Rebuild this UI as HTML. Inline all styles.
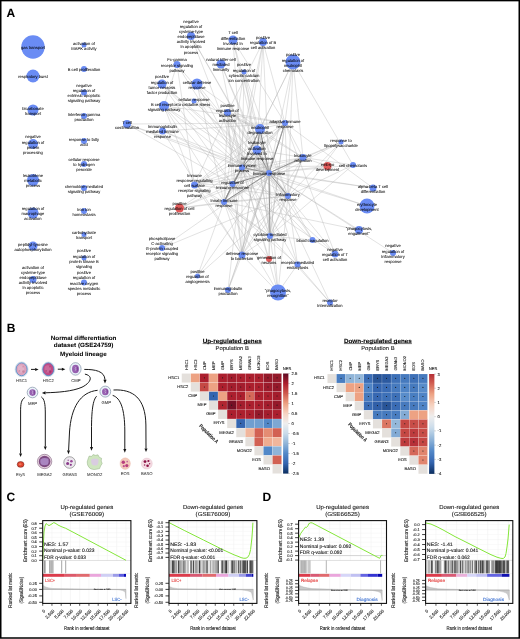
<!DOCTYPE html>
<html><head><meta charset="utf-8"><style>
html,body{margin:0;padding:0;background:#fff;}
#wrap{width:520px;height:639px;position:relative;overflow:hidden;background:#fff;}
svg{position:absolute;left:0;top:0;will-change:transform;}
text{font-family:"Liberation Sans",sans-serif;text-rendering:geometricPrecision;}
</style></head><body><div id="wrap">
<svg width="520" height="639" viewBox="0 0 520 639">
<rect x="0.75" y="0.6" width="518.5" height="637.4" fill="none" stroke="#000" stroke-width="1.5"/>
<g id="panelA">
<line x1="269" y1="173" x2="242" y2="167.5" stroke="#b4b4b4" stroke-width="0.45" stroke-opacity="0.85"/><line x1="269" y1="173" x2="232.5" y2="184" stroke="#b4b4b4" stroke-width="0.45" stroke-opacity="0.85"/><line x1="269" y1="173" x2="224" y2="202" stroke="#b4b4b4" stroke-width="0.45" stroke-opacity="0.85"/><line x1="269" y1="173" x2="257" y2="150" stroke="#b4b4b4" stroke-width="0.45" stroke-opacity="0.85"/><line x1="269" y1="173" x2="260" y2="129" stroke="#b4b4b4" stroke-width="0.45" stroke-opacity="0.85"/><line x1="269" y1="173" x2="288" y2="196" stroke="#b4b4b4" stroke-width="0.45" stroke-opacity="0.85"/><line x1="269" y1="173" x2="303" y2="157.5" stroke="#b4b4b4" stroke-width="0.45" stroke-opacity="0.85"/><line x1="269" y1="173" x2="270" y2="236" stroke="#b4b4b4" stroke-width="0.45" stroke-opacity="0.85"/><line x1="269" y1="173" x2="242" y2="255" stroke="#b4b4b4" stroke-width="0.45" stroke-opacity="0.85"/><line x1="269" y1="173" x2="194.5" y2="185" stroke="#b4b4b4" stroke-width="0.45" stroke-opacity="0.85"/><line x1="269" y1="173" x2="285" y2="123" stroke="#b4b4b4" stroke-width="0.45" stroke-opacity="0.85"/><line x1="269" y1="173" x2="227.5" y2="112.5" stroke="#b4b4b4" stroke-width="0.45" stroke-opacity="0.85"/><line x1="242" y1="167.5" x2="232.5" y2="184" stroke="#b4b4b4" stroke-width="0.45" stroke-opacity="0.85"/><line x1="242" y1="167.5" x2="224" y2="202" stroke="#b4b4b4" stroke-width="0.45" stroke-opacity="0.85"/><line x1="242" y1="167.5" x2="257" y2="150" stroke="#b4b4b4" stroke-width="0.45" stroke-opacity="0.85"/><line x1="242" y1="167.5" x2="260" y2="129" stroke="#b4b4b4" stroke-width="0.45" stroke-opacity="0.85"/><line x1="242" y1="167.5" x2="288" y2="196" stroke="#b4b4b4" stroke-width="0.45" stroke-opacity="0.85"/><line x1="242" y1="167.5" x2="303" y2="157.5" stroke="#b4b4b4" stroke-width="0.45" stroke-opacity="0.85"/><line x1="242" y1="167.5" x2="270" y2="236" stroke="#b4b4b4" stroke-width="0.45" stroke-opacity="0.85"/><line x1="242" y1="167.5" x2="242" y2="255" stroke="#b4b4b4" stroke-width="0.45" stroke-opacity="0.85"/><line x1="242" y1="167.5" x2="194.5" y2="185" stroke="#b4b4b4" stroke-width="0.45" stroke-opacity="0.85"/><line x1="242" y1="167.5" x2="285" y2="123" stroke="#b4b4b4" stroke-width="0.45" stroke-opacity="0.85"/><line x1="242" y1="167.5" x2="227.5" y2="112.5" stroke="#b4b4b4" stroke-width="0.45" stroke-opacity="0.85"/><line x1="232.5" y1="184" x2="224" y2="202" stroke="#b4b4b4" stroke-width="0.45" stroke-opacity="0.85"/><line x1="232.5" y1="184" x2="257" y2="150" stroke="#b4b4b4" stroke-width="0.45" stroke-opacity="0.85"/><line x1="232.5" y1="184" x2="260" y2="129" stroke="#b4b4b4" stroke-width="0.45" stroke-opacity="0.85"/><line x1="232.5" y1="184" x2="288" y2="196" stroke="#b4b4b4" stroke-width="0.45" stroke-opacity="0.85"/><line x1="232.5" y1="184" x2="303" y2="157.5" stroke="#b4b4b4" stroke-width="0.45" stroke-opacity="0.85"/><line x1="232.5" y1="184" x2="270" y2="236" stroke="#b4b4b4" stroke-width="0.45" stroke-opacity="0.85"/><line x1="232.5" y1="184" x2="242" y2="255" stroke="#b4b4b4" stroke-width="0.45" stroke-opacity="0.85"/><line x1="232.5" y1="184" x2="194.5" y2="185" stroke="#b4b4b4" stroke-width="0.45" stroke-opacity="0.85"/><line x1="232.5" y1="184" x2="285" y2="123" stroke="#b4b4b4" stroke-width="0.45" stroke-opacity="0.85"/><line x1="232.5" y1="184" x2="227.5" y2="112.5" stroke="#b4b4b4" stroke-width="0.45" stroke-opacity="0.85"/><line x1="224" y1="202" x2="257" y2="150" stroke="#b4b4b4" stroke-width="0.45" stroke-opacity="0.85"/><line x1="224" y1="202" x2="260" y2="129" stroke="#b4b4b4" stroke-width="0.45" stroke-opacity="0.85"/><line x1="224" y1="202" x2="288" y2="196" stroke="#b4b4b4" stroke-width="0.45" stroke-opacity="0.85"/><line x1="224" y1="202" x2="303" y2="157.5" stroke="#b4b4b4" stroke-width="0.45" stroke-opacity="0.85"/><line x1="224" y1="202" x2="270" y2="236" stroke="#b4b4b4" stroke-width="0.45" stroke-opacity="0.85"/><line x1="224" y1="202" x2="242" y2="255" stroke="#b4b4b4" stroke-width="0.45" stroke-opacity="0.85"/><line x1="224" y1="202" x2="194.5" y2="185" stroke="#b4b4b4" stroke-width="0.45" stroke-opacity="0.85"/><line x1="224" y1="202" x2="285" y2="123" stroke="#b4b4b4" stroke-width="0.45" stroke-opacity="0.85"/><line x1="224" y1="202" x2="227.5" y2="112.5" stroke="#b4b4b4" stroke-width="0.45" stroke-opacity="0.85"/><line x1="257" y1="150" x2="260" y2="129" stroke="#b4b4b4" stroke-width="0.45" stroke-opacity="0.85"/><line x1="257" y1="150" x2="288" y2="196" stroke="#b4b4b4" stroke-width="0.45" stroke-opacity="0.85"/><line x1="257" y1="150" x2="303" y2="157.5" stroke="#b4b4b4" stroke-width="0.45" stroke-opacity="0.85"/><line x1="257" y1="150" x2="270" y2="236" stroke="#b4b4b4" stroke-width="0.45" stroke-opacity="0.85"/><line x1="257" y1="150" x2="242" y2="255" stroke="#b4b4b4" stroke-width="0.45" stroke-opacity="0.85"/><line x1="257" y1="150" x2="194.5" y2="185" stroke="#b4b4b4" stroke-width="0.45" stroke-opacity="0.85"/><line x1="257" y1="150" x2="285" y2="123" stroke="#b4b4b4" stroke-width="0.45" stroke-opacity="0.85"/><line x1="257" y1="150" x2="227.5" y2="112.5" stroke="#b4b4b4" stroke-width="0.45" stroke-opacity="0.85"/><line x1="260" y1="129" x2="288" y2="196" stroke="#b4b4b4" stroke-width="0.45" stroke-opacity="0.85"/><line x1="260" y1="129" x2="303" y2="157.5" stroke="#b4b4b4" stroke-width="0.45" stroke-opacity="0.85"/><line x1="260" y1="129" x2="270" y2="236" stroke="#b4b4b4" stroke-width="0.45" stroke-opacity="0.85"/><line x1="260" y1="129" x2="242" y2="255" stroke="#b4b4b4" stroke-width="0.45" stroke-opacity="0.85"/><line x1="260" y1="129" x2="194.5" y2="185" stroke="#b4b4b4" stroke-width="0.45" stroke-opacity="0.85"/><line x1="260" y1="129" x2="285" y2="123" stroke="#b4b4b4" stroke-width="0.45" stroke-opacity="0.85"/><line x1="260" y1="129" x2="227.5" y2="112.5" stroke="#b4b4b4" stroke-width="0.45" stroke-opacity="0.85"/><line x1="288" y1="196" x2="303" y2="157.5" stroke="#b4b4b4" stroke-width="0.45" stroke-opacity="0.85"/><line x1="288" y1="196" x2="270" y2="236" stroke="#b4b4b4" stroke-width="0.45" stroke-opacity="0.85"/><line x1="288" y1="196" x2="242" y2="255" stroke="#b4b4b4" stroke-width="0.45" stroke-opacity="0.85"/><line x1="288" y1="196" x2="194.5" y2="185" stroke="#b4b4b4" stroke-width="0.45" stroke-opacity="0.85"/><line x1="288" y1="196" x2="285" y2="123" stroke="#b4b4b4" stroke-width="0.45" stroke-opacity="0.85"/><line x1="288" y1="196" x2="227.5" y2="112.5" stroke="#b4b4b4" stroke-width="0.45" stroke-opacity="0.85"/><line x1="303" y1="157.5" x2="270" y2="236" stroke="#b4b4b4" stroke-width="0.45" stroke-opacity="0.85"/><line x1="303" y1="157.5" x2="242" y2="255" stroke="#b4b4b4" stroke-width="0.45" stroke-opacity="0.85"/><line x1="303" y1="157.5" x2="194.5" y2="185" stroke="#b4b4b4" stroke-width="0.45" stroke-opacity="0.85"/><line x1="303" y1="157.5" x2="285" y2="123" stroke="#b4b4b4" stroke-width="0.45" stroke-opacity="0.85"/><line x1="303" y1="157.5" x2="227.5" y2="112.5" stroke="#b4b4b4" stroke-width="0.45" stroke-opacity="0.85"/><line x1="270" y1="236" x2="242" y2="255" stroke="#b4b4b4" stroke-width="0.45" stroke-opacity="0.85"/><line x1="270" y1="236" x2="194.5" y2="185" stroke="#b4b4b4" stroke-width="0.45" stroke-opacity="0.85"/><line x1="270" y1="236" x2="285" y2="123" stroke="#b4b4b4" stroke-width="0.45" stroke-opacity="0.85"/><line x1="270" y1="236" x2="227.5" y2="112.5" stroke="#b4b4b4" stroke-width="0.45" stroke-opacity="0.85"/><line x1="242" y1="255" x2="194.5" y2="185" stroke="#b4b4b4" stroke-width="0.45" stroke-opacity="0.85"/><line x1="242" y1="255" x2="285" y2="123" stroke="#b4b4b4" stroke-width="0.45" stroke-opacity="0.85"/><line x1="242" y1="255" x2="227.5" y2="112.5" stroke="#b4b4b4" stroke-width="0.45" stroke-opacity="0.85"/><line x1="194.5" y1="185" x2="285" y2="123" stroke="#b4b4b4" stroke-width="0.45" stroke-opacity="0.85"/><line x1="194.5" y1="185" x2="227.5" y2="112.5" stroke="#b4b4b4" stroke-width="0.45" stroke-opacity="0.85"/><line x1="285" y1="123" x2="227.5" y2="112.5" stroke="#b4b4b4" stroke-width="0.45" stroke-opacity="0.85"/><line x1="269" y1="173" x2="242" y2="167.5" stroke="#7a7a7a" stroke-width="1.0" stroke-opacity="0.85"/><line x1="269" y1="173" x2="232.5" y2="184" stroke="#7a7a7a" stroke-width="1.0" stroke-opacity="0.85"/><line x1="242" y1="167.5" x2="232.5" y2="184" stroke="#7a7a7a" stroke-width="1.0" stroke-opacity="0.85"/><line x1="269" y1="173" x2="224" y2="202" stroke="#7a7a7a" stroke-width="1.0" stroke-opacity="0.85"/><line x1="242" y1="167.5" x2="224" y2="202" stroke="#7a7a7a" stroke-width="1.0" stroke-opacity="0.85"/><line x1="232.5" y1="184" x2="224" y2="202" stroke="#7a7a7a" stroke-width="1.0" stroke-opacity="0.85"/><line x1="269" y1="173" x2="257" y2="150" stroke="#7a7a7a" stroke-width="1.0" stroke-opacity="0.85"/><line x1="242" y1="167.5" x2="257" y2="150" stroke="#7a7a7a" stroke-width="1.0" stroke-opacity="0.85"/><line x1="269" y1="173" x2="288" y2="196" stroke="#7a7a7a" stroke-width="1.0" stroke-opacity="0.85"/><line x1="269" y1="173" x2="260" y2="129" stroke="#7a7a7a" stroke-width="1.0" stroke-opacity="0.85"/><line x1="257" y1="150" x2="260" y2="129" stroke="#7a7a7a" stroke-width="1.0" stroke-opacity="0.85"/><line x1="269" y1="173" x2="303" y2="157.5" stroke="#7a7a7a" stroke-width="1.0" stroke-opacity="0.85"/><line x1="242" y1="167.5" x2="260" y2="129" stroke="#7a7a7a" stroke-width="1.0" stroke-opacity="0.85"/><line x1="269" y1="173" x2="270" y2="236" stroke="#7a7a7a" stroke-width="1.0" stroke-opacity="0.85"/><line x1="269" y1="173" x2="285" y2="123" stroke="#7a7a7a" stroke-width="1.0" stroke-opacity="0.85"/><line x1="191" y1="36" x2="269" y2="173" stroke="#b4b4b4" stroke-width="0.45" stroke-opacity="0.85"/><line x1="191" y1="36" x2="257" y2="150" stroke="#b4b4b4" stroke-width="0.45" stroke-opacity="0.85"/><line x1="191" y1="36" x2="242" y2="167.5" stroke="#b4b4b4" stroke-width="0.45" stroke-opacity="0.85"/><line x1="233" y1="40" x2="242" y2="167.5" stroke="#b4b4b4" stroke-width="0.45" stroke-opacity="0.85"/><line x1="233" y1="40" x2="257" y2="150" stroke="#b4b4b4" stroke-width="0.45" stroke-opacity="0.85"/><line x1="233" y1="40" x2="285" y2="123" stroke="#b4b4b4" stroke-width="0.45" stroke-opacity="0.85"/><line x1="233" y1="40" x2="269" y2="173" stroke="#b4b4b4" stroke-width="0.45" stroke-opacity="0.85"/><line x1="263" y1="42" x2="269" y2="173" stroke="#b4b4b4" stroke-width="0.45" stroke-opacity="0.85"/><line x1="263" y1="42" x2="242" y2="167.5" stroke="#b4b4b4" stroke-width="0.45" stroke-opacity="0.85"/><line x1="263" y1="42" x2="257" y2="150" stroke="#b4b4b4" stroke-width="0.45" stroke-opacity="0.85"/><line x1="263" y1="42" x2="227.5" y2="112.5" stroke="#b4b4b4" stroke-width="0.45" stroke-opacity="0.85"/><line x1="263" y1="42" x2="285" y2="123" stroke="#b4b4b4" stroke-width="0.45" stroke-opacity="0.85"/><line x1="263" y1="42" x2="232.5" y2="184" stroke="#b4b4b4" stroke-width="0.45" stroke-opacity="0.85"/><line x1="293" y1="62" x2="269" y2="173" stroke="#b4b4b4" stroke-width="0.45" stroke-opacity="0.85"/><line x1="293" y1="62" x2="288" y2="196" stroke="#b4b4b4" stroke-width="0.45" stroke-opacity="0.85"/><line x1="293" y1="62" x2="303" y2="157.5" stroke="#b4b4b4" stroke-width="0.45" stroke-opacity="0.85"/><line x1="293" y1="62" x2="353" y2="165" stroke="#b4b4b4" stroke-width="0.45" stroke-opacity="0.85"/><line x1="293" y1="62" x2="260" y2="129" stroke="#b4b4b4" stroke-width="0.45" stroke-opacity="0.85"/><line x1="293" y1="62" x2="270" y2="236" stroke="#b4b4b4" stroke-width="0.45" stroke-opacity="0.85"/><line x1="293" y1="62" x2="224" y2="202" stroke="#b4b4b4" stroke-width="0.45" stroke-opacity="0.85"/><line x1="177" y1="64.5" x2="269" y2="173" stroke="#b4b4b4" stroke-width="0.45" stroke-opacity="0.85"/><line x1="177" y1="64.5" x2="194.5" y2="185" stroke="#b4b4b4" stroke-width="0.45" stroke-opacity="0.85"/><line x1="177" y1="64.5" x2="164" y2="106" stroke="#b4b4b4" stroke-width="0.45" stroke-opacity="0.85"/><line x1="177" y1="64.5" x2="242" y2="167.5" stroke="#b4b4b4" stroke-width="0.45" stroke-opacity="0.85"/><line x1="221" y1="64" x2="242" y2="167.5" stroke="#b4b4b4" stroke-width="0.45" stroke-opacity="0.85"/><line x1="221" y1="64" x2="257" y2="150" stroke="#b4b4b4" stroke-width="0.45" stroke-opacity="0.85"/><line x1="221" y1="64" x2="269" y2="173" stroke="#b4b4b4" stroke-width="0.45" stroke-opacity="0.85"/><line x1="244" y1="72" x2="269" y2="173" stroke="#b4b4b4" stroke-width="0.45" stroke-opacity="0.85"/><line x1="244" y1="72" x2="270" y2="236" stroke="#b4b4b4" stroke-width="0.45" stroke-opacity="0.85"/><line x1="244" y1="72" x2="288" y2="196" stroke="#b4b4b4" stroke-width="0.45" stroke-opacity="0.85"/><line x1="244" y1="72" x2="242" y2="167.5" stroke="#b4b4b4" stroke-width="0.45" stroke-opacity="0.85"/><line x1="244" y1="72" x2="224" y2="202" stroke="#b4b4b4" stroke-width="0.45" stroke-opacity="0.85"/><line x1="162" y1="84" x2="269" y2="173" stroke="#b4b4b4" stroke-width="0.45" stroke-opacity="0.85"/><line x1="162" y1="84" x2="288" y2="196" stroke="#b4b4b4" stroke-width="0.45" stroke-opacity="0.85"/><line x1="162" y1="84" x2="232.5" y2="184" stroke="#b4b4b4" stroke-width="0.45" stroke-opacity="0.85"/><line x1="162" y1="84" x2="242" y2="167.5" stroke="#b4b4b4" stroke-width="0.45" stroke-opacity="0.85"/><line x1="197" y1="84" x2="269" y2="173" stroke="#b4b4b4" stroke-width="0.45" stroke-opacity="0.85"/><line x1="197" y1="84" x2="242" y2="167.5" stroke="#b4b4b4" stroke-width="0.45" stroke-opacity="0.85"/><line x1="197" y1="84" x2="224" y2="202" stroke="#b4b4b4" stroke-width="0.45" stroke-opacity="0.85"/><line x1="197" y1="84" x2="260" y2="129" stroke="#b4b4b4" stroke-width="0.45" stroke-opacity="0.85"/><line x1="194" y1="101" x2="269" y2="173" stroke="#b4b4b4" stroke-width="0.45" stroke-opacity="0.85"/><line x1="194" y1="101" x2="288" y2="196" stroke="#b4b4b4" stroke-width="0.45" stroke-opacity="0.85"/><line x1="194" y1="101" x2="260" y2="129" stroke="#b4b4b4" stroke-width="0.45" stroke-opacity="0.85"/><line x1="164" y1="106" x2="269" y2="173" stroke="#b4b4b4" stroke-width="0.45" stroke-opacity="0.85"/><line x1="164" y1="106" x2="242" y2="167.5" stroke="#b4b4b4" stroke-width="0.45" stroke-opacity="0.85"/><line x1="164" y1="106" x2="232.5" y2="184" stroke="#b4b4b4" stroke-width="0.45" stroke-opacity="0.85"/><line x1="164" y1="106" x2="194.5" y2="185" stroke="#b4b4b4" stroke-width="0.45" stroke-opacity="0.85"/><line x1="164" y1="106" x2="285" y2="123" stroke="#b4b4b4" stroke-width="0.45" stroke-opacity="0.85"/><line x1="164" y1="106" x2="224" y2="202" stroke="#b4b4b4" stroke-width="0.45" stroke-opacity="0.85"/><line x1="127" y1="124" x2="242" y2="167.5" stroke="#b4b4b4" stroke-width="0.45" stroke-opacity="0.85"/><line x1="127" y1="124" x2="232.5" y2="184" stroke="#b4b4b4" stroke-width="0.45" stroke-opacity="0.85"/><line x1="127" y1="124" x2="285" y2="123" stroke="#b4b4b4" stroke-width="0.45" stroke-opacity="0.85"/><line x1="127" y1="124" x2="269" y2="173" stroke="#b4b4b4" stroke-width="0.45" stroke-opacity="0.85"/><line x1="162.5" y1="131" x2="269" y2="173" stroke="#b4b4b4" stroke-width="0.45" stroke-opacity="0.85"/><line x1="162.5" y1="131" x2="285" y2="123" stroke="#b4b4b4" stroke-width="0.45" stroke-opacity="0.85"/><line x1="162.5" y1="131" x2="242" y2="255" stroke="#b4b4b4" stroke-width="0.45" stroke-opacity="0.85"/><line x1="162.5" y1="131" x2="242" y2="167.5" stroke="#b4b4b4" stroke-width="0.45" stroke-opacity="0.85"/><line x1="341" y1="142" x2="269" y2="173" stroke="#b4b4b4" stroke-width="0.45" stroke-opacity="0.85"/><line x1="341" y1="142" x2="288" y2="196" stroke="#b4b4b4" stroke-width="0.45" stroke-opacity="0.85"/><line x1="341" y1="142" x2="224" y2="202" stroke="#b4b4b4" stroke-width="0.45" stroke-opacity="0.85"/><line x1="341" y1="142" x2="270" y2="236" stroke="#b4b4b4" stroke-width="0.45" stroke-opacity="0.85"/><line x1="341" y1="142" x2="303" y2="157.5" stroke="#b4b4b4" stroke-width="0.45" stroke-opacity="0.85"/><line x1="353" y1="165" x2="303" y2="157.5" stroke="#b4b4b4" stroke-width="0.45" stroke-opacity="0.85"/><line x1="353" y1="165" x2="288" y2="196" stroke="#b4b4b4" stroke-width="0.45" stroke-opacity="0.85"/><line x1="353" y1="165" x2="269" y2="173" stroke="#b4b4b4" stroke-width="0.45" stroke-opacity="0.85"/><line x1="353" y1="165" x2="270" y2="236" stroke="#b4b4b4" stroke-width="0.45" stroke-opacity="0.85"/><line x1="327.5" y1="166" x2="269" y2="173" stroke="#b4b4b4" stroke-width="0.45" stroke-opacity="0.85"/><line x1="327.5" y1="166" x2="242" y2="167.5" stroke="#b4b4b4" stroke-width="0.45" stroke-opacity="0.85"/><line x1="327.5" y1="166" x2="303" y2="157.5" stroke="#b4b4b4" stroke-width="0.45" stroke-opacity="0.85"/><line x1="373" y1="188" x2="269" y2="173" stroke="#b4b4b4" stroke-width="0.45" stroke-opacity="0.85"/><line x1="373" y1="188" x2="242" y2="167.5" stroke="#b4b4b4" stroke-width="0.45" stroke-opacity="0.85"/><line x1="373" y1="188" x2="285" y2="123" stroke="#b4b4b4" stroke-width="0.45" stroke-opacity="0.85"/><line x1="367" y1="206" x2="269" y2="173" stroke="#b4b4b4" stroke-width="0.45" stroke-opacity="0.85"/><line x1="367" y1="206" x2="242" y2="167.5" stroke="#b4b4b4" stroke-width="0.45" stroke-opacity="0.85"/><line x1="179.5" y1="208" x2="269" y2="173" stroke="#b4b4b4" stroke-width="0.45" stroke-opacity="0.85"/><line x1="179.5" y1="208" x2="242" y2="167.5" stroke="#b4b4b4" stroke-width="0.45" stroke-opacity="0.85"/><line x1="179.5" y1="208" x2="232.5" y2="184" stroke="#b4b4b4" stroke-width="0.45" stroke-opacity="0.85"/><line x1="179.5" y1="208" x2="224" y2="202" stroke="#b4b4b4" stroke-width="0.45" stroke-opacity="0.85"/><line x1="179.5" y1="208" x2="288" y2="196" stroke="#b4b4b4" stroke-width="0.45" stroke-opacity="0.85"/><line x1="359" y1="230" x2="269" y2="173" stroke="#b4b4b4" stroke-width="0.45" stroke-opacity="0.85"/><line x1="359" y1="230" x2="224" y2="202" stroke="#b4b4b4" stroke-width="0.45" stroke-opacity="0.85"/><line x1="312.5" y1="240" x2="269" y2="173" stroke="#b4b4b4" stroke-width="0.45" stroke-opacity="0.85"/><line x1="312.5" y1="240" x2="288" y2="196" stroke="#b4b4b4" stroke-width="0.45" stroke-opacity="0.85"/><line x1="312.5" y1="240" x2="242" y2="167.5" stroke="#b4b4b4" stroke-width="0.45" stroke-opacity="0.85"/><line x1="312.5" y1="240" x2="270" y2="236" stroke="#b4b4b4" stroke-width="0.45" stroke-opacity="0.85"/><line x1="162" y1="248" x2="269" y2="173" stroke="#b4b4b4" stroke-width="0.45" stroke-opacity="0.85"/><line x1="162" y1="248" x2="288" y2="196" stroke="#b4b4b4" stroke-width="0.45" stroke-opacity="0.85"/><line x1="335" y1="254" x2="269" y2="173" stroke="#b4b4b4" stroke-width="0.45" stroke-opacity="0.85"/><line x1="335" y1="254" x2="242" y2="167.5" stroke="#b4b4b4" stroke-width="0.45" stroke-opacity="0.85"/><line x1="335" y1="254" x2="232.5" y2="184" stroke="#b4b4b4" stroke-width="0.45" stroke-opacity="0.85"/><line x1="335" y1="254" x2="285" y2="123" stroke="#b4b4b4" stroke-width="0.45" stroke-opacity="0.85"/><line x1="393" y1="253" x2="269" y2="173" stroke="#b4b4b4" stroke-width="0.45" stroke-opacity="0.85"/><line x1="269" y1="259" x2="269" y2="173" stroke="#b4b4b4" stroke-width="0.45" stroke-opacity="0.85"/><line x1="269" y1="259" x2="242" y2="167.5" stroke="#b4b4b4" stroke-width="0.45" stroke-opacity="0.85"/><line x1="269" y1="259" x2="270" y2="236" stroke="#b4b4b4" stroke-width="0.45" stroke-opacity="0.85"/><line x1="269" y1="259" x2="224" y2="202" stroke="#b4b4b4" stroke-width="0.45" stroke-opacity="0.85"/><line x1="297.5" y1="264.5" x2="269" y2="173" stroke="#b4b4b4" stroke-width="0.45" stroke-opacity="0.85"/><line x1="297.5" y1="264.5" x2="242" y2="167.5" stroke="#b4b4b4" stroke-width="0.45" stroke-opacity="0.85"/><line x1="297.5" y1="264.5" x2="224" y2="202" stroke="#b4b4b4" stroke-width="0.45" stroke-opacity="0.85"/><line x1="297.5" y1="264.5" x2="288" y2="196" stroke="#b4b4b4" stroke-width="0.45" stroke-opacity="0.85"/><line x1="197.5" y1="276" x2="269" y2="173" stroke="#b4b4b4" stroke-width="0.45" stroke-opacity="0.85"/><line x1="197.5" y1="276" x2="288" y2="196" stroke="#b4b4b4" stroke-width="0.45" stroke-opacity="0.85"/><line x1="197.5" y1="276" x2="224" y2="202" stroke="#b4b4b4" stroke-width="0.45" stroke-opacity="0.85"/><line x1="228" y1="290" x2="269" y2="173" stroke="#b4b4b4" stroke-width="0.45" stroke-opacity="0.85"/><line x1="228" y1="290" x2="242" y2="167.5" stroke="#b4b4b4" stroke-width="0.45" stroke-opacity="0.85"/><line x1="228" y1="290" x2="285" y2="123" stroke="#b4b4b4" stroke-width="0.45" stroke-opacity="0.85"/><line x1="228" y1="290" x2="242" y2="255" stroke="#b4b4b4" stroke-width="0.45" stroke-opacity="0.85"/><line x1="278" y1="292.5" x2="269" y2="173" stroke="#b4b4b4" stroke-width="0.45" stroke-opacity="0.85"/><line x1="278" y1="292.5" x2="242" y2="167.5" stroke="#b4b4b4" stroke-width="0.45" stroke-opacity="0.85"/><line x1="278" y1="292.5" x2="224" y2="202" stroke="#b4b4b4" stroke-width="0.45" stroke-opacity="0.85"/><line x1="278" y1="292.5" x2="288" y2="196" stroke="#b4b4b4" stroke-width="0.45" stroke-opacity="0.85"/><line x1="278" y1="292.5" x2="270" y2="236" stroke="#b4b4b4" stroke-width="0.45" stroke-opacity="0.85"/><line x1="278" y1="292.5" x2="297.5" y2="264.5" stroke="#b4b4b4" stroke-width="0.45" stroke-opacity="0.85"/><line x1="278" y1="292.5" x2="242" y2="255" stroke="#b4b4b4" stroke-width="0.45" stroke-opacity="0.85"/><line x1="330" y1="302.5" x2="269" y2="173" stroke="#b4b4b4" stroke-width="0.45" stroke-opacity="0.85"/><line x1="330" y1="302.5" x2="297.5" y2="264.5" stroke="#b4b4b4" stroke-width="0.45" stroke-opacity="0.85"/><line x1="330" y1="302.5" x2="270" y2="236" stroke="#b4b4b4" stroke-width="0.45" stroke-opacity="0.85"/>
<circle cx="33" cy="47" r="11.7" fill="#6a8cf4"/><circle cx="33" cy="76" r="6.5" fill="#6a8cf4"/><circle cx="33" cy="110" r="5.5" fill="#6a8cf4"/><circle cx="33" cy="144" r="5" fill="#6a8cf4"/><circle cx="33" cy="180" r="6" fill="#6a8cf4"/><circle cx="33" cy="213" r="5.5" fill="#6a8cf4"/><circle cx="33" cy="246" r="4.5" fill="#6a8cf4"/><circle cx="33" cy="279.5" r="3.5" fill="#6a8cf4"/><circle cx="84" cy="45" r="2.5" fill="#6a8cf4"/><circle cx="84" cy="69" r="3" fill="#6a8cf4"/><circle cx="84" cy="92.5" r="3" fill="#6a8cf4"/><circle cx="84" cy="116" r="3" fill="#6a8cf4"/><circle cx="84" cy="141" r="3" fill="#6a8cf4"/><circle cx="84" cy="164" r="3" fill="#6a8cf4"/><circle cx="84" cy="188" r="3" fill="#6a8cf4"/><circle cx="84" cy="211" r="3" fill="#6a8cf4"/><circle cx="84" cy="234.5" r="2.5" fill="#6a8cf4"/><circle cx="84" cy="258" r="2.5" fill="#6a8cf4"/><circle cx="84" cy="282.5" r="3" fill="#6a8cf4"/><circle cx="191" cy="36" r="4" fill="#6a8cf4"/><circle cx="233" cy="40" r="4.5" fill="#6a8cf4"/><circle cx="263" cy="42" r="4" fill="#6a8cf4"/><circle cx="293" cy="62" r="7.5" fill="#6a8cf4"/><circle cx="177" cy="64.5" r="3.5" fill="#6a8cf4"/><circle cx="221" cy="64" r="4.5" fill="#6a8cf4"/><circle cx="244" cy="72" r="2.5" fill="#6a8cf4"/><circle cx="162" cy="84" r="4.5" fill="#6a8cf4"/><circle cx="197" cy="84" r="5.5" fill="#6a8cf4"/><circle cx="194" cy="101" r="2.5" fill="#6a8cf4"/><circle cx="164" cy="106" r="5" fill="#6a8cf4"/><circle cx="227.5" cy="112.5" r="3.5" fill="#6a8cf4"/><circle cx="127" cy="124" r="4" fill="#6a8cf4"/><circle cx="162.5" cy="131" r="3.5" fill="#6a8cf4"/><circle cx="260" cy="129" r="5" fill="#6a8cf4"/><circle cx="285" cy="123" r="3" fill="#6a8cf4"/><circle cx="341" cy="142" r="2.5" fill="#6a8cf4"/><circle cx="257" cy="150" r="4.5" fill="#6a8cf4"/><circle cx="303" cy="157.5" r="3.5" fill="#6a8cf4"/><circle cx="353" cy="165" r="3" fill="#6a8cf4"/><circle cx="327.5" cy="166" r="4" fill="#e05a5a"/><circle cx="242" cy="167.5" r="3" fill="#6a8cf4"/><circle cx="269" cy="173" r="3" fill="#6a8cf4"/><circle cx="232.5" cy="184" r="3" fill="#6a8cf4"/><circle cx="194.5" cy="185" r="3.5" fill="#6a8cf4"/><circle cx="373" cy="188" r="3.5" fill="#6a8cf4"/><circle cx="288" cy="196" r="3" fill="#6a8cf4"/><circle cx="224" cy="202" r="3" fill="#6a8cf4"/><circle cx="367" cy="206" r="7.5" fill="#6a8cf4"/><circle cx="179.5" cy="208" r="4.5" fill="#e05a5a"/><circle cx="359" cy="230" r="4" fill="#6a8cf4"/><circle cx="270" cy="236" r="3" fill="#6a8cf4"/><circle cx="312.5" cy="240" r="3" fill="#6a8cf4"/><circle cx="162" cy="248" r="3" fill="#6a8cf4"/><circle cx="242" cy="255" r="3.5" fill="#6a8cf4"/><circle cx="335" cy="254" r="3.5" fill="#6a8cf4"/><circle cx="393" cy="253" r="3" fill="#6a8cf4"/><circle cx="269" cy="259" r="3" fill="#e05a5a"/><circle cx="297.5" cy="264.5" r="3" fill="#6a8cf4"/><circle cx="197.5" cy="276" r="2.5" fill="#6a8cf4"/><circle cx="228" cy="290" r="3" fill="#6a8cf4"/><circle cx="278" cy="292.5" r="8" fill="#6a8cf4"/><circle cx="330" cy="302.5" r="3" fill="#6a8cf4"/>
<text x="33.00" y="49.08" text-anchor="middle" font-size="4.1" fill="#000"  stroke="#000" stroke-width="0.04">gas transport</text><text x="33.00" y="78.08" text-anchor="middle" font-size="4.1" fill="#000"  stroke="#000" stroke-width="0.04">respiratory burst</text><text x="33.00" y="109.50" text-anchor="middle" font-size="4.1" fill="#000"  stroke="#000" stroke-width="0.04">bicarbonate</text><text x="33.00" y="114.65" text-anchor="middle" font-size="4.1" fill="#000"  stroke="#000" stroke-width="0.04">transport</text><text x="33.00" y="138.35" text-anchor="middle" font-size="4.1" fill="#000"  stroke="#000" stroke-width="0.04">negative</text><text x="33.00" y="143.50" text-anchor="middle" font-size="4.1" fill="#000"  stroke="#000" stroke-width="0.04">regulation of</text><text x="33.00" y="148.65" text-anchor="middle" font-size="4.1" fill="#000"  stroke="#000" stroke-width="0.04">protein</text><text x="33.00" y="153.80" text-anchor="middle" font-size="4.1" fill="#000"  stroke="#000" stroke-width="0.04">processing</text><text x="33.00" y="176.93" text-anchor="middle" font-size="4.1" fill="#000"  stroke="#000" stroke-width="0.04">leukotriene</text><text x="33.00" y="182.08" text-anchor="middle" font-size="4.1" fill="#000"  stroke="#000" stroke-width="0.04">metabolic</text><text x="33.00" y="187.23" text-anchor="middle" font-size="4.1" fill="#000"  stroke="#000" stroke-width="0.04">process</text><text x="33.00" y="209.93" text-anchor="middle" font-size="4.1" fill="#000"  stroke="#000" stroke-width="0.04">regulation of</text><text x="33.00" y="215.08" text-anchor="middle" font-size="4.1" fill="#000"  stroke="#000" stroke-width="0.04">macrophage</text><text x="33.00" y="220.23" text-anchor="middle" font-size="4.1" fill="#000"  stroke="#000" stroke-width="0.04">activation</text><text x="33.00" y="245.50" text-anchor="middle" font-size="4.1" fill="#000"  stroke="#000" stroke-width="0.04">peptidyl-tyrosine</text><text x="33.00" y="250.65" text-anchor="middle" font-size="4.1" fill="#000"  stroke="#000" stroke-width="0.04">autophosphorylation</text><text x="33.00" y="268.70" text-anchor="middle" font-size="4.1" fill="#000"  stroke="#000" stroke-width="0.04">activation of</text><text x="33.00" y="273.85" text-anchor="middle" font-size="4.1" fill="#000"  stroke="#000" stroke-width="0.04">cysteine-type</text><text x="33.00" y="279.00" text-anchor="middle" font-size="4.1" fill="#000"  stroke="#000" stroke-width="0.04">endopeptidase</text><text x="33.00" y="284.15" text-anchor="middle" font-size="4.1" fill="#000"  stroke="#000" stroke-width="0.04">activity involved</text><text x="33.00" y="289.30" text-anchor="middle" font-size="4.1" fill="#000"  stroke="#000" stroke-width="0.04">in apoptotic</text><text x="33.00" y="294.45" text-anchor="middle" font-size="4.1" fill="#000"  stroke="#000" stroke-width="0.04">process</text><text x="84.00" y="44.50" text-anchor="middle" font-size="4.1" fill="#000"  stroke="#000" stroke-width="0.04">activation of</text><text x="84.00" y="49.65" text-anchor="middle" font-size="4.1" fill="#000"  stroke="#000" stroke-width="0.04">MAPK activity</text><text x="84.00" y="71.08" text-anchor="middle" font-size="4.1" fill="#000"  stroke="#000" stroke-width="0.04">B cell proliferation</text><text x="84.00" y="86.85" text-anchor="middle" font-size="4.1" fill="#000"  stroke="#000" stroke-width="0.04">negative</text><text x="84.00" y="92.00" text-anchor="middle" font-size="4.1" fill="#000"  stroke="#000" stroke-width="0.04">regulation of</text><text x="84.00" y="97.15" text-anchor="middle" font-size="4.1" fill="#000"  stroke="#000" stroke-width="0.04">extrinsic apoptotic</text><text x="84.00" y="102.30" text-anchor="middle" font-size="4.1" fill="#000"  stroke="#000" stroke-width="0.04">signaling pathway</text><text x="84.00" y="115.50" text-anchor="middle" font-size="4.1" fill="#000"  stroke="#000" stroke-width="0.04">interferon-gamma</text><text x="84.00" y="120.65" text-anchor="middle" font-size="4.1" fill="#000"  stroke="#000" stroke-width="0.04">production</text><text x="84.00" y="140.50" text-anchor="middle" font-size="4.1" fill="#000"  stroke="#000" stroke-width="0.04">response to fatty</text><text x="84.00" y="145.65" text-anchor="middle" font-size="4.1" fill="#000"  stroke="#000" stroke-width="0.04">acid</text><text x="84.00" y="160.93" text-anchor="middle" font-size="4.1" fill="#000"  stroke="#000" stroke-width="0.04">cellular response</text><text x="84.00" y="166.08" text-anchor="middle" font-size="4.1" fill="#000"  stroke="#000" stroke-width="0.04">to hydrogen</text><text x="84.00" y="171.23" text-anchor="middle" font-size="4.1" fill="#000"  stroke="#000" stroke-width="0.04">peroxide</text><text x="84.00" y="187.50" text-anchor="middle" font-size="4.1" fill="#000"  stroke="#000" stroke-width="0.04">chemokine-mediated</text><text x="84.00" y="192.65" text-anchor="middle" font-size="4.1" fill="#000"  stroke="#000" stroke-width="0.04">signaling pathway</text><text x="84.00" y="210.50" text-anchor="middle" font-size="4.1" fill="#000"  stroke="#000" stroke-width="0.04">iron ion</text><text x="84.00" y="215.65" text-anchor="middle" font-size="4.1" fill="#000"  stroke="#000" stroke-width="0.04">homeostasis</text><text x="84.00" y="234.00" text-anchor="middle" font-size="4.1" fill="#000"  stroke="#000" stroke-width="0.04">carbohydrate</text><text x="84.00" y="239.15" text-anchor="middle" font-size="4.1" fill="#000"  stroke="#000" stroke-width="0.04">transport</text><text x="84.00" y="252.35" text-anchor="middle" font-size="4.1" fill="#000"  stroke="#000" stroke-width="0.04">positive</text><text x="84.00" y="257.50" text-anchor="middle" font-size="4.1" fill="#000"  stroke="#000" stroke-width="0.04">regulation of</text><text x="84.00" y="262.65" text-anchor="middle" font-size="4.1" fill="#000"  stroke="#000" stroke-width="0.04">protein kinase B</text><text x="84.00" y="267.80" text-anchor="middle" font-size="4.1" fill="#000"  stroke="#000" stroke-width="0.04">signaling</text><text x="84.00" y="274.28" text-anchor="middle" font-size="4.1" fill="#000"  stroke="#000" stroke-width="0.04">positive</text><text x="84.00" y="279.43" text-anchor="middle" font-size="4.1" fill="#000"  stroke="#000" stroke-width="0.04">regulation of</text><text x="84.00" y="284.58" text-anchor="middle" font-size="4.1" fill="#000"  stroke="#000" stroke-width="0.04">reactive oxygen</text><text x="84.00" y="289.73" text-anchor="middle" font-size="4.1" fill="#000"  stroke="#000" stroke-width="0.04">species metabolic</text><text x="84.00" y="294.88" text-anchor="middle" font-size="4.1" fill="#000"  stroke="#000" stroke-width="0.04">process</text><text x="191.00" y="22.63" text-anchor="middle" font-size="4.1" fill="#000"  stroke="#000" stroke-width="0.04">negative</text><text x="191.00" y="27.78" text-anchor="middle" font-size="4.1" fill="#000"  stroke="#000" stroke-width="0.04">regulation of</text><text x="191.00" y="32.93" text-anchor="middle" font-size="4.1" fill="#000"  stroke="#000" stroke-width="0.04">cysteine-type</text><text x="191.00" y="38.08" text-anchor="middle" font-size="4.1" fill="#000"  stroke="#000" stroke-width="0.04">endopeptidase</text><text x="191.00" y="43.23" text-anchor="middle" font-size="4.1" fill="#000"  stroke="#000" stroke-width="0.04">activity involved</text><text x="191.00" y="48.38" text-anchor="middle" font-size="4.1" fill="#000"  stroke="#000" stroke-width="0.04">in apoptotic</text><text x="191.00" y="53.53" text-anchor="middle" font-size="4.1" fill="#000"  stroke="#000" stroke-width="0.04">process</text><text x="233.00" y="34.35" text-anchor="middle" font-size="4.1" fill="#000"  stroke="#000" stroke-width="0.04">T cell</text><text x="233.00" y="39.50" text-anchor="middle" font-size="4.1" fill="#000"  stroke="#000" stroke-width="0.04">differentiation</text><text x="233.00" y="44.65" text-anchor="middle" font-size="4.1" fill="#000"  stroke="#000" stroke-width="0.04">involved in</text><text x="233.00" y="49.80" text-anchor="middle" font-size="4.1" fill="#000"  stroke="#000" stroke-width="0.04">immune response</text><text x="263.00" y="38.93" text-anchor="middle" font-size="4.1" fill="#000"  stroke="#000" stroke-width="0.04">positive</text><text x="263.00" y="44.08" text-anchor="middle" font-size="4.1" fill="#000"  stroke="#000" stroke-width="0.04">regulation of B</text><text x="263.00" y="49.23" text-anchor="middle" font-size="4.1" fill="#000"  stroke="#000" stroke-width="0.04">cell activation</text><text x="293.00" y="56.35" text-anchor="middle" font-size="4.1" fill="#000"  stroke="#000" stroke-width="0.04">positive</text><text x="293.00" y="61.50" text-anchor="middle" font-size="4.1" fill="#000"  stroke="#000" stroke-width="0.04">regulation of</text><text x="293.00" y="66.65" text-anchor="middle" font-size="4.1" fill="#000"  stroke="#000" stroke-width="0.04">neutrophil</text><text x="293.00" y="71.80" text-anchor="middle" font-size="4.1" fill="#000"  stroke="#000" stroke-width="0.04">chemotaxis</text><text x="177.00" y="61.43" text-anchor="middle" font-size="4.1" fill="#000"  stroke="#000" stroke-width="0.04">Fc-gamma</text><text x="177.00" y="66.58" text-anchor="middle" font-size="4.1" fill="#000"  stroke="#000" stroke-width="0.04">receptor signaling</text><text x="177.00" y="71.73" text-anchor="middle" font-size="4.1" fill="#000"  stroke="#000" stroke-width="0.04">pathway</text><text x="221.00" y="60.93" text-anchor="middle" font-size="4.1" fill="#000"  stroke="#000" stroke-width="0.04">natural killer cell</text><text x="221.00" y="66.08" text-anchor="middle" font-size="4.1" fill="#000"  stroke="#000" stroke-width="0.04">mediated</text><text x="221.00" y="71.23" text-anchor="middle" font-size="4.1" fill="#000"  stroke="#000" stroke-width="0.04">immunity</text><text x="244.00" y="66.35" text-anchor="middle" font-size="4.1" fill="#000"  stroke="#000" stroke-width="0.04">positive</text><text x="244.00" y="71.50" text-anchor="middle" font-size="4.1" fill="#000"  stroke="#000" stroke-width="0.04">regulation of</text><text x="244.00" y="76.65" text-anchor="middle" font-size="4.1" fill="#000"  stroke="#000" stroke-width="0.04">cytosolic calcium</text><text x="244.00" y="81.80" text-anchor="middle" font-size="4.1" fill="#000"  stroke="#000" stroke-width="0.04">ion concentration</text><text x="162.00" y="78.35" text-anchor="middle" font-size="4.1" fill="#000"  stroke="#000" stroke-width="0.04">positive</text><text x="162.00" y="83.50" text-anchor="middle" font-size="4.1" fill="#000"  stroke="#000" stroke-width="0.04">regulation of</text><text x="162.00" y="88.65" text-anchor="middle" font-size="4.1" fill="#000"  stroke="#000" stroke-width="0.04">tumor necrosis</text><text x="162.00" y="93.80" text-anchor="middle" font-size="4.1" fill="#000"  stroke="#000" stroke-width="0.04">factor production</text><text x="197.00" y="83.50" text-anchor="middle" font-size="4.1" fill="#000"  stroke="#000" stroke-width="0.04">cellular defense</text><text x="197.00" y="88.65" text-anchor="middle" font-size="4.1" fill="#000"  stroke="#000" stroke-width="0.04">response</text><text x="194.00" y="100.50" text-anchor="middle" font-size="4.1" fill="#000"  stroke="#000" stroke-width="0.04">cellular response</text><text x="194.00" y="105.65" text-anchor="middle" font-size="4.1" fill="#000"  stroke="#000" stroke-width="0.04">to oxidative stress</text><text x="164.00" y="105.50" text-anchor="middle" font-size="4.1" fill="#000"  stroke="#000" stroke-width="0.04">B cell receptor</text><text x="164.00" y="110.65" text-anchor="middle" font-size="4.1" fill="#000"  stroke="#000" stroke-width="0.04">signaling pathway</text><text x="227.50" y="106.85" text-anchor="middle" font-size="4.1" fill="#000"  stroke="#000" stroke-width="0.04">positive</text><text x="227.50" y="112.00" text-anchor="middle" font-size="4.1" fill="#000"  stroke="#000" stroke-width="0.04">regulation of</text><text x="227.50" y="117.15" text-anchor="middle" font-size="4.1" fill="#000"  stroke="#000" stroke-width="0.04">leukocyte</text><text x="227.50" y="122.30" text-anchor="middle" font-size="4.1" fill="#000"  stroke="#000" stroke-width="0.04">activation</text><text x="127.00" y="123.50" text-anchor="middle" font-size="4.1" fill="#000"  stroke="#000" stroke-width="0.04">T cell</text><text x="127.00" y="128.65" text-anchor="middle" font-size="4.1" fill="#000"  stroke="#000" stroke-width="0.04">costimulation</text><text x="162.50" y="127.93" text-anchor="middle" font-size="4.1" fill="#000"  stroke="#000" stroke-width="0.04">immunoglobulin</text><text x="162.50" y="133.08" text-anchor="middle" font-size="4.1" fill="#000"  stroke="#000" stroke-width="0.04">mediated immune</text><text x="162.50" y="138.23" text-anchor="middle" font-size="4.1" fill="#000"  stroke="#000" stroke-width="0.04">response</text><text x="260.00" y="128.50" text-anchor="middle" font-size="4.1" fill="#000"  stroke="#000" stroke-width="0.04">neutrophil</text><text x="260.00" y="133.65" text-anchor="middle" font-size="4.1" fill="#000"  stroke="#000" stroke-width="0.04">degranulation</text><text x="285.00" y="122.50" text-anchor="middle" font-size="4.1" fill="#000"  stroke="#000" stroke-width="0.04">adaptive immune</text><text x="285.00" y="127.65" text-anchor="middle" font-size="4.1" fill="#000"  stroke="#000" stroke-width="0.04">response</text><text x="341.00" y="141.50" text-anchor="middle" font-size="4.1" fill="#000"  stroke="#000" stroke-width="0.04">response to</text><text x="341.00" y="146.65" text-anchor="middle" font-size="4.1" fill="#000"  stroke="#000" stroke-width="0.04">lipopolysaccharide</text><text x="257.00" y="144.35" text-anchor="middle" font-size="4.1" fill="#000"  stroke="#000" stroke-width="0.04">leukocyte</text><text x="257.00" y="149.50" text-anchor="middle" font-size="4.1" fill="#000"  stroke="#000" stroke-width="0.04">activation</text><text x="257.00" y="154.65" text-anchor="middle" font-size="4.1" fill="#000"  stroke="#000" stroke-width="0.04">involved in</text><text x="257.00" y="159.80" text-anchor="middle" font-size="4.1" fill="#000"  stroke="#000" stroke-width="0.04">immune response</text><text x="303.00" y="157.00" text-anchor="middle" font-size="4.1" fill="#000"  stroke="#000" stroke-width="0.04">leukocyte</text><text x="303.00" y="162.15" text-anchor="middle" font-size="4.1" fill="#000"  stroke="#000" stroke-width="0.04">migration</text><text x="353.00" y="167.08" text-anchor="middle" font-size="4.1" fill="#000"  stroke="#000" stroke-width="0.04">cell chemotaxis</text><text x="327.50" y="165.50" text-anchor="middle" font-size="4.1" fill="#000"  stroke="#000" stroke-width="0.04">embryo</text><text x="327.50" y="170.65" text-anchor="middle" font-size="4.1" fill="#000"  stroke="#000" stroke-width="0.04">development</text><text x="242.00" y="167.00" text-anchor="middle" font-size="4.1" fill="#000"  stroke="#000" stroke-width="0.04">immune system</text><text x="242.00" y="172.15" text-anchor="middle" font-size="4.1" fill="#000"  stroke="#000" stroke-width="0.04">process</text><text x="269.00" y="175.08" text-anchor="middle" font-size="4.1" fill="#000"  stroke="#000" stroke-width="0.04">immune response</text><text x="232.50" y="183.50" text-anchor="middle" font-size="4.1" fill="#000"  stroke="#000" stroke-width="0.04">regulation of</text><text x="232.50" y="188.65" text-anchor="middle" font-size="4.1" fill="#000"  stroke="#000" stroke-width="0.04">immune response</text><text x="194.50" y="176.78" text-anchor="middle" font-size="4.1" fill="#000"  stroke="#000" stroke-width="0.04">immune</text><text x="194.50" y="181.93" text-anchor="middle" font-size="4.1" fill="#000"  stroke="#000" stroke-width="0.04">response-regulating</text><text x="194.50" y="187.08" text-anchor="middle" font-size="4.1" fill="#000"  stroke="#000" stroke-width="0.04">cell surface</text><text x="194.50" y="192.23" text-anchor="middle" font-size="4.1" fill="#000"  stroke="#000" stroke-width="0.04">receptor signaling</text><text x="194.50" y="197.38" text-anchor="middle" font-size="4.1" fill="#000"  stroke="#000" stroke-width="0.04">pathway</text><text x="373.00" y="187.50" text-anchor="middle" font-size="4.1" fill="#000"  stroke="#000" stroke-width="0.04">alpha-beta T cell</text><text x="373.00" y="192.65" text-anchor="middle" font-size="4.1" fill="#000"  stroke="#000" stroke-width="0.04">differentiation</text><text x="288.00" y="195.50" text-anchor="middle" font-size="4.1" fill="#000"  stroke="#000" stroke-width="0.04">inflammatory</text><text x="288.00" y="200.65" text-anchor="middle" font-size="4.1" fill="#000"  stroke="#000" stroke-width="0.04">response</text><text x="224.00" y="201.50" text-anchor="middle" font-size="4.1" fill="#000"  stroke="#000" stroke-width="0.04">innate immune</text><text x="224.00" y="206.65" text-anchor="middle" font-size="4.1" fill="#000"  stroke="#000" stroke-width="0.04">response</text><text x="367.00" y="205.50" text-anchor="middle" font-size="4.1" fill="#000"  stroke="#000" stroke-width="0.04">erythrocyte</text><text x="367.00" y="210.65" text-anchor="middle" font-size="4.1" fill="#000"  stroke="#000" stroke-width="0.04">development</text><text x="179.50" y="204.93" text-anchor="middle" font-size="4.1" fill="#000"  stroke="#000" stroke-width="0.04">positive</text><text x="179.50" y="210.08" text-anchor="middle" font-size="4.1" fill="#000"  stroke="#000" stroke-width="0.04">regulation of cell</text><text x="179.50" y="215.23" text-anchor="middle" font-size="4.1" fill="#000"  stroke="#000" stroke-width="0.04">proliferation</text><text x="359.00" y="229.50" text-anchor="middle" font-size="4.1" fill="#000"  stroke="#000" stroke-width="0.04">"phagocytosis,</text><text x="359.00" y="234.65" text-anchor="middle" font-size="4.1" fill="#000"  stroke="#000" stroke-width="0.04">engulfment"</text><text x="270.00" y="235.50" text-anchor="middle" font-size="4.1" fill="#000"  stroke="#000" stroke-width="0.04">cytokine-mediated</text><text x="270.00" y="240.65" text-anchor="middle" font-size="4.1" fill="#000"  stroke="#000" stroke-width="0.04">signaling pathway</text><text x="312.50" y="242.08" text-anchor="middle" font-size="4.1" fill="#000"  stroke="#000" stroke-width="0.04">blood coagulation</text><text x="162.00" y="239.78" text-anchor="middle" font-size="4.1" fill="#000"  stroke="#000" stroke-width="0.04">phospholipase</text><text x="162.00" y="244.93" text-anchor="middle" font-size="4.1" fill="#000"  stroke="#000" stroke-width="0.04">C-activating</text><text x="162.00" y="250.08" text-anchor="middle" font-size="4.1" fill="#000"  stroke="#000" stroke-width="0.04">G-protein coupled</text><text x="162.00" y="255.23" text-anchor="middle" font-size="4.1" fill="#000"  stroke="#000" stroke-width="0.04">receptor signaling</text><text x="162.00" y="260.38" text-anchor="middle" font-size="4.1" fill="#000"  stroke="#000" stroke-width="0.04">pathway</text><text x="242.00" y="254.50" text-anchor="middle" font-size="4.1" fill="#000"  stroke="#000" stroke-width="0.04">defense response</text><text x="242.00" y="259.65" text-anchor="middle" font-size="4.1" fill="#000"  stroke="#000" stroke-width="0.04">to bacterium</text><text x="335.00" y="250.93" text-anchor="middle" font-size="4.1" fill="#000"  stroke="#000" stroke-width="0.04">negative</text><text x="335.00" y="256.08" text-anchor="middle" font-size="4.1" fill="#000"  stroke="#000" stroke-width="0.04">regulation of T</text><text x="335.00" y="261.23" text-anchor="middle" font-size="4.1" fill="#000"  stroke="#000" stroke-width="0.04">cell activation</text><text x="393.00" y="247.35" text-anchor="middle" font-size="4.1" fill="#000"  stroke="#000" stroke-width="0.04">negative</text><text x="393.00" y="252.50" text-anchor="middle" font-size="4.1" fill="#000"  stroke="#000" stroke-width="0.04">regulation of</text><text x="393.00" y="257.65" text-anchor="middle" font-size="4.1" fill="#000"  stroke="#000" stroke-width="0.04">inflammatory</text><text x="393.00" y="262.80" text-anchor="middle" font-size="4.1" fill="#000"  stroke="#000" stroke-width="0.04">response</text><text x="269.00" y="258.50" text-anchor="middle" font-size="4.1" fill="#000"  stroke="#000" stroke-width="0.04">generation of</text><text x="269.00" y="263.65" text-anchor="middle" font-size="4.1" fill="#000"  stroke="#000" stroke-width="0.04">neurons</text><text x="297.50" y="264.00" text-anchor="middle" font-size="4.1" fill="#000"  stroke="#000" stroke-width="0.04">receptor-mediated</text><text x="297.50" y="269.15" text-anchor="middle" font-size="4.1" fill="#000"  stroke="#000" stroke-width="0.04">endocytosis</text><text x="197.50" y="272.93" text-anchor="middle" font-size="4.1" fill="#000"  stroke="#000" stroke-width="0.04">positive</text><text x="197.50" y="278.08" text-anchor="middle" font-size="4.1" fill="#000"  stroke="#000" stroke-width="0.04">regulation of</text><text x="197.50" y="283.23" text-anchor="middle" font-size="4.1" fill="#000"  stroke="#000" stroke-width="0.04">angiogenesis</text><text x="228.00" y="289.50" text-anchor="middle" font-size="4.1" fill="#000"  stroke="#000" stroke-width="0.04">immunoglobulin</text><text x="228.00" y="294.65" text-anchor="middle" font-size="4.1" fill="#000"  stroke="#000" stroke-width="0.04">production</text><text x="278.00" y="292.00" text-anchor="middle" font-size="4.1" fill="#000"  stroke="#000" stroke-width="0.04">"phagocytosis,</text><text x="278.00" y="297.15" text-anchor="middle" font-size="4.1" fill="#000"  stroke="#000" stroke-width="0.04">recognition"</text><text x="330.00" y="302.00" text-anchor="middle" font-size="4.1" fill="#000"  stroke="#000" stroke-width="0.04">receptor</text><text x="330.00" y="307.15" text-anchor="middle" font-size="4.1" fill="#000"  stroke="#000" stroke-width="0.04">internalization</text>
</g>
<text x="83.60" y="339.50" font-size="6.0" fill="#000" text-anchor="middle" font-weight="bold" textLength="65.8" lengthAdjust="spacingAndGlyphs"  stroke="#000" stroke-width="0.04">Normal differentiation</text>
<text x="83.60" y="346.80" font-size="6.0" fill="#000" text-anchor="middle" font-weight="bold" textLength="59.7" lengthAdjust="spacingAndGlyphs"  stroke="#000" stroke-width="0.04">dataset (GSE24759)</text>
<text x="83.30" y="356.30" font-size="6.0" fill="#000" text-anchor="middle" font-weight="bold" textLength="46.7" lengthAdjust="spacingAndGlyphs"  stroke="#000" stroke-width="0.04">Myeloid lineage</text>
<path d="M31,369.4 L35.5,369.4" fill="none" stroke="#1a1a1a" stroke-width="1.0"/><path d="M38.60,369.40 L35.20,370.90 L35.20,367.90 Z" fill="#111"/><path d="M57.8,369.2 L62.2,369.2" fill="none" stroke="#1a1a1a" stroke-width="1.0"/><path d="M65.30,369.20 L61.90,370.70 L61.90,367.70 Z" fill="#111"/><path d="M84.3,369.4 C95,369.4 104.6,371 105,379.8" fill="none" stroke="#1a1a1a" stroke-width="1.0"/><path d="M105.00,383.40 L103.40,379.80 L106.60,379.80 Z" fill="#111"/><path d="M84.9,374.1 C94,376 90.5,383 82,387.2 C72,391.5 58,392.4 45.5,392.8" fill="none" stroke="#1a1a1a" stroke-width="1.0"/><path d="M41.90,392.90 L45.50,391.30 L45.50,394.50 Z" fill="#111"/><path d="M24.8,397.5 C21,400 20.6,404 20.6,412 L20.6,453.5" fill="none" stroke="#1a1a1a" stroke-width="1.0"/><path d="M20.60,457.00 L19.10,453.40 L22.10,453.40 Z" fill="#111"/><path d="M41.3,396.9 C44.5,399 45.2,404 45.3,412 L45.3,446.5" fill="none" stroke="#1a1a1a" stroke-width="1.0"/><path d="M45.30,450.00 L43.80,446.40 L46.80,446.40 Z" fill="#111"/><path d="M97.6,390.3 C80,392 71,408 69.5,432 L68.6,450.5" fill="none" stroke="#1a1a1a" stroke-width="1.0"/><path d="M68.50,454.20 L67.00,450.60 L70.00,450.60 Z" fill="#111"/><path d="M96.6,396.2 C93,400 91.5,410 91.5,430 L91.5,447.2" fill="none" stroke="#1a1a1a" stroke-width="1.0"/><path d="M91.50,450.70 L90.00,447.10 L93.00,447.10 Z" fill="#111"/><path d="M112.7,395.4 C121,398 124.6,410 124.8,430 L124.8,449" fill="none" stroke="#1a1a1a" stroke-width="1.0"/><path d="M124.80,452.70 L123.30,449.10 L126.30,449.10 Z" fill="#111"/><path d="M113.5,390 C133,389 145.5,398 145.9,425 L146,448.5" fill="none" stroke="#1a1a1a" stroke-width="1.0"/><path d="M146.00,452.00 L144.50,448.40 L147.50,448.40 Z" fill="#111"/>
<ellipse cx="21.6" cy="369.3" rx="6.5" ry="7.4" fill="#e4eef6" stroke="#9fb4c8" stroke-width="0.35"/><ellipse cx="21.6" cy="369.3" rx="5.55" ry="6.45" fill="#dca2bc" stroke="#3d86c8" stroke-width="0.75"/><ellipse cx="21.0" cy="368.90000000000003" rx="3.2" ry="3.6" fill="#ffffff" opacity="0.18"/><circle cx="23.400000000000002" cy="371.5" r="1.2" fill="#b0607e" opacity="0.5"/><circle cx="19.400000000000002" cy="370.90000000000003" r="0.9" fill="#b0607e" opacity="0.4"/><circle cx="23.1" cy="366.7" r="0.8" fill="#b0607e" opacity="0.4"/><ellipse cx="48.3" cy="369.3" rx="6.5" ry="7.4" fill="#e4eef6" stroke="#9fb4c8" stroke-width="0.35"/><ellipse cx="48.3" cy="369.3" rx="5.55" ry="6.45" fill="#c04a86" stroke="#3d86c8" stroke-width="0.75"/><ellipse cx="47.699999999999996" cy="368.90000000000003" rx="3.2" ry="3.6" fill="#ffffff" opacity="0.18"/><circle cx="50.099999999999994" cy="371.5" r="1.2" fill="#8a1a50" opacity="0.5"/><circle cx="46.099999999999994" cy="370.90000000000003" r="0.9" fill="#8a1a50" opacity="0.4"/><circle cx="49.8" cy="366.7" r="0.8" fill="#8a1a50" opacity="0.4"/><ellipse cx="75.5" cy="368.9" rx="5.6" ry="6.25" fill="#eaf3f9" stroke="#6f7f98" stroke-width="0.6"/><ellipse cx="75.5" cy="369.0" rx="3.50" ry="4.25" fill="#9760b0"/><path d="M76.7,366.29999999999995 Q79.1,368.9 76.9,371.79999999999995 Q78.1,368.9 76.7,366.29999999999995 Z" fill="#5e2474" opacity="0.8"/><path d="M74.9,366.7 q1.6,0.9 0.1,1.9 q1.7,0.7 0.2,2.1" fill="none" stroke="#e2d6ee" stroke-width="0.55"/><ellipse cx="32.5" cy="392.5" rx="5.3" ry="5.3" fill="#eaf3f9" stroke="#6f7f98" stroke-width="0.6"/><ellipse cx="32.5" cy="392.6" rx="3.20" ry="3.30" fill="#9760b0"/><path d="M33.7,389.9 Q36.1,392.5 33.9,395.4 Q35.1,392.5 33.7,389.9 Z" fill="#5e2474" opacity="0.8"/><path d="M31.9,390.3 q1.6,0.9 0.1,1.9 q1.7,0.7 0.2,2.1" fill="none" stroke="#e2d6ee" stroke-width="0.55"/><ellipse cx="105.3" cy="391.6" rx="5.4" ry="5.5" fill="#eaf3f9" stroke="#6f7f98" stroke-width="0.6"/><ellipse cx="105.3" cy="391.70000000000005" rx="3.30" ry="3.50" fill="#9760b0"/><path d="M106.5,389.0 Q108.89999999999999,391.6 106.7,394.5 Q107.89999999999999,391.6 106.5,389.0 Z" fill="#5e2474" opacity="0.8"/><path d="M104.7,389.40000000000003 q1.6,0.9 0.1,1.9 q1.7,0.7 0.2,2.1" fill="none" stroke="#e2d6ee" stroke-width="0.55"/><ellipse cx="20.6" cy="464.4" rx="3.4" ry="2.9" fill="#e2452f" stroke="#5a1a14" stroke-width="0.5"/><ellipse cx="20.2" cy="464.2" rx="1.4" ry="1.0" fill="#f07a5a"/><circle cx="44.6" cy="461.5" r="7.2" fill="#e6d2de" stroke="#6a4a6a" stroke-width="0.5"/><circle cx="44.6" cy="461.5" r="5.8" fill="#7d4a82"/><path d="M40.4,459.4 Q44,457 48.4,458.8 Q49.4,462 47.8,464.4 Q44,466 41,464.2 Q39.8,461.6 40.4,459.4 Z" fill="#a985c0"/><circle cx="69.6" cy="462.5" r="5.8" fill="#ece8ee" stroke="#555" stroke-width="0.5"/><circle cx="67.6" cy="463.5" r="1.5" fill="#8a3a8a"/><circle cx="71.4" cy="461.2" r="1.3" fill="#9a4a9a"/><circle cx="70.8" cy="464.8" r="1.1" fill="#8a3a8a"/><circle cx="68.2" cy="460.2" r="0.8" fill="#a060a0"/><path d="M88,459 L89.2,456 L91.5,456.5 L93,454.6 L95.5,455.3 L98,454.8 L99.2,457.2 L101.6,458.3 L101.2,461 L102.2,463.5 L100.6,466 L99.6,468.6 L96.6,469.2 L94,469.6 L91,468.9 L89,467.4 L87.6,465 L87.2,462 Z" fill="#cfe6bf" stroke="#7f9f70" stroke-width="0.4"/><path d="M91.2,459.6 Q95,457.5 98.4,459.2 Q99,462.5 97.6,465 Q94,466.2 92,464.6 Q90.6,462 91.2,459.6 Z" fill="#d9cde0"/><ellipse cx="125.2" cy="463.6" rx="5.2" ry="5.8" fill="#f3cbbb" stroke="#e3a898" stroke-width="0.3"/><circle cx="123.3" cy="462.3" r="1.7" fill="#b8407e"/><circle cx="126.8" cy="465.6" r="1.6" fill="#b8407e"/><circle cx="123.8" cy="466.2" r="1.1" fill="#c05090"/><circle cx="127.2" cy="461.6" r="0.9" fill="#c86aa0"/><circle cx="146.8" cy="463.6" r="5.5" fill="#f4dbe2" stroke="#d8a8b8" stroke-width="0.3"/><circle cx="145" cy="461.6" r="1.4" fill="#8a1044"/><circle cx="148.4" cy="461" r="1.1" fill="#8a1044"/><circle cx="147.6" cy="465.8" r="1.3" fill="#8a1044"/><circle cx="144.6" cy="465" r="0.8" fill="#9a2054"/><circle cx="149.6" cy="463.8" r="0.7" fill="#9a2054"/>
<text x="21.60" y="381.80" font-size="4.2" fill="#3a3a3a" text-anchor="middle" stroke="#3a3a3a" stroke-width="0.06">HSC1</text><text x="48.30" y="381.80" font-size="4.2" fill="#3a3a3a" text-anchor="middle" stroke="#3a3a3a" stroke-width="0.06">HSC2</text><text x="75.90" y="381.80" font-size="4.2" fill="#3a3a3a" text-anchor="middle" stroke="#3a3a3a" stroke-width="0.06">CMP</text><text x="32.50" y="404.50" font-size="4.2" fill="#3a3a3a" text-anchor="middle" stroke="#3a3a3a" stroke-width="0.06">MEP</text><text x="106.20" y="404.30" font-size="4.2" fill="#3a3a3a" text-anchor="middle" stroke="#3a3a3a" stroke-width="0.06">GMP</text><text x="20.60" y="475.50" font-size="4.2" fill="#3a3a3a" text-anchor="middle" stroke="#3a3a3a" stroke-width="0.06">EryS</text><text x="44.60" y="475.50" font-size="4.2" fill="#3a3a3a" text-anchor="middle" stroke="#3a3a3a" stroke-width="0.06">MEGA2</text><text x="69.60" y="475.50" font-size="4.2" fill="#3a3a3a" text-anchor="middle" stroke="#3a3a3a" stroke-width="0.06">GRAN3</text><text x="94.60" y="475.50" font-size="4.2" fill="#3a3a3a" text-anchor="middle" stroke="#3a3a3a" stroke-width="0.06">MONO2</text><text x="125.20" y="475.30" font-size="4.2" fill="#3a3a3a" text-anchor="middle" stroke="#3a3a3a" stroke-width="0.06">EOS</text><text x="146.80" y="475.30" font-size="4.2" fill="#3a3a3a" text-anchor="middle" stroke="#3a3a3a" stroke-width="0.06">BASO</text>
<g class="hm"><rect x="181.70" y="373.50" width="9.08" height="9.10" fill="#e4e0dc" stroke="#ffffff" stroke-width="0.3" stroke-opacity="0.5"/><rect x="190.78" y="373.50" width="9.08" height="9.10" fill="#eda283" stroke="#ffffff" stroke-width="0.3" stroke-opacity="0.5"/><rect x="199.86" y="373.50" width="9.08" height="9.10" fill="#ac1f2e" stroke="#ffffff" stroke-width="0.3" stroke-opacity="0.5"/><circle cx="204.40" cy="377.85" r="0.55" fill="#1a1a1a"/><rect x="208.94" y="373.50" width="9.08" height="9.10" fill="#eda283" stroke="#ffffff" stroke-width="0.3" stroke-opacity="0.5"/><rect x="218.02" y="373.50" width="9.08" height="9.10" fill="#ac1f2e" stroke="#ffffff" stroke-width="0.3" stroke-opacity="0.5"/><circle cx="222.56" cy="377.85" r="0.55" fill="#1a1a1a"/><rect x="227.10" y="373.50" width="9.08" height="9.10" fill="#a41d2d" stroke="#ffffff" stroke-width="0.3" stroke-opacity="0.5"/><circle cx="231.64" cy="377.85" r="0.55" fill="#1a1a1a"/><rect x="236.18" y="373.50" width="9.08" height="9.10" fill="#ac1f2e" stroke="#ffffff" stroke-width="0.3" stroke-opacity="0.5"/><circle cx="240.72" cy="377.85" r="0.55" fill="#1a1a1a"/><rect x="245.26" y="373.50" width="9.08" height="9.10" fill="#ac1f2e" stroke="#ffffff" stroke-width="0.3" stroke-opacity="0.5"/><circle cx="249.80" cy="377.85" r="0.55" fill="#1a1a1a"/><rect x="254.34" y="373.50" width="9.08" height="9.10" fill="#ac1f2e" stroke="#ffffff" stroke-width="0.3" stroke-opacity="0.5"/><circle cx="258.88" cy="377.85" r="0.55" fill="#1a1a1a"/><rect x="263.42" y="373.50" width="9.08" height="9.10" fill="#95192a" stroke="#ffffff" stroke-width="0.3" stroke-opacity="0.5"/><circle cx="267.96" cy="377.85" r="0.55" fill="#1a1a1a"/><rect x="272.50" y="373.50" width="9.08" height="9.10" fill="#95192a" stroke="#ffffff" stroke-width="0.3" stroke-opacity="0.5"/><circle cx="277.04" cy="377.85" r="0.55" fill="#1a1a1a"/><rect x="190.78" y="382.60" width="9.08" height="9.10" fill="#e4e0dc" stroke="#ffffff" stroke-width="0.3" stroke-opacity="0.5"/><rect x="199.86" y="382.60" width="9.08" height="9.10" fill="#c54844" stroke="#ffffff" stroke-width="0.3" stroke-opacity="0.5"/><circle cx="204.40" cy="386.95" r="0.55" fill="#1a1a1a"/><rect x="208.94" y="382.60" width="9.08" height="9.10" fill="#eda283" stroke="#ffffff" stroke-width="0.3" stroke-opacity="0.5"/><rect x="218.02" y="382.60" width="9.08" height="9.10" fill="#ac1f2e" stroke="#ffffff" stroke-width="0.3" stroke-opacity="0.5"/><circle cx="222.56" cy="386.95" r="0.55" fill="#1a1a1a"/><rect x="227.10" y="382.60" width="9.08" height="9.10" fill="#a41d2d" stroke="#ffffff" stroke-width="0.3" stroke-opacity="0.5"/><circle cx="231.64" cy="386.95" r="0.55" fill="#1a1a1a"/><rect x="236.18" y="382.60" width="9.08" height="9.10" fill="#a41d2d" stroke="#ffffff" stroke-width="0.3" stroke-opacity="0.5"/><circle cx="240.72" cy="386.95" r="0.55" fill="#1a1a1a"/><rect x="245.26" y="382.60" width="9.08" height="9.10" fill="#ac1f2e" stroke="#ffffff" stroke-width="0.3" stroke-opacity="0.5"/><circle cx="249.80" cy="386.95" r="0.55" fill="#1a1a1a"/><rect x="254.34" y="382.60" width="9.08" height="9.10" fill="#ac1f2e" stroke="#ffffff" stroke-width="0.3" stroke-opacity="0.5"/><circle cx="258.88" cy="386.95" r="0.55" fill="#1a1a1a"/><rect x="263.42" y="382.60" width="9.08" height="9.10" fill="#9c1b2c" stroke="#ffffff" stroke-width="0.3" stroke-opacity="0.5"/><circle cx="267.96" cy="386.95" r="0.55" fill="#1a1a1a"/><rect x="272.50" y="382.60" width="9.08" height="9.10" fill="#95192a" stroke="#ffffff" stroke-width="0.3" stroke-opacity="0.5"/><circle cx="277.04" cy="386.95" r="0.55" fill="#1a1a1a"/><rect x="199.86" y="391.70" width="9.08" height="9.10" fill="#e4e0dc" stroke="#ffffff" stroke-width="0.3" stroke-opacity="0.5"/><rect x="208.94" y="391.70" width="9.08" height="9.10" fill="#3465b0" stroke="#ffffff" stroke-width="0.3" stroke-opacity="0.5"/><circle cx="213.48" cy="396.05" r="0.55" fill="#1a1a1a"/><rect x="218.02" y="391.70" width="9.08" height="9.10" fill="#eda283" stroke="#ffffff" stroke-width="0.3" stroke-opacity="0.5"/><rect x="227.10" y="391.70" width="9.08" height="9.10" fill="#ac1f2e" stroke="#ffffff" stroke-width="0.3" stroke-opacity="0.5"/><circle cx="231.64" cy="396.05" r="0.55" fill="#1a1a1a"/><rect x="236.18" y="391.70" width="9.08" height="9.10" fill="#ac1f2e" stroke="#ffffff" stroke-width="0.3" stroke-opacity="0.5"/><circle cx="240.72" cy="396.05" r="0.55" fill="#1a1a1a"/><rect x="245.26" y="391.70" width="9.08" height="9.10" fill="#d56859" stroke="#ffffff" stroke-width="0.3" stroke-opacity="0.5"/><circle cx="249.80" cy="396.05" r="0.55" fill="#1a1a1a"/><rect x="254.34" y="391.70" width="9.08" height="9.10" fill="#ac1f2e" stroke="#ffffff" stroke-width="0.3" stroke-opacity="0.5"/><circle cx="258.88" cy="396.05" r="0.55" fill="#1a1a1a"/><rect x="263.42" y="391.70" width="9.08" height="9.10" fill="#ac1f2e" stroke="#ffffff" stroke-width="0.3" stroke-opacity="0.5"/><circle cx="267.96" cy="396.05" r="0.55" fill="#1a1a1a"/><rect x="272.50" y="391.70" width="9.08" height="9.10" fill="#a41d2d" stroke="#ffffff" stroke-width="0.3" stroke-opacity="0.5"/><circle cx="277.04" cy="396.05" r="0.55" fill="#1a1a1a"/><rect x="208.94" y="400.80" width="9.08" height="9.10" fill="#e4e0dc" stroke="#ffffff" stroke-width="0.3" stroke-opacity="0.5"/><rect x="218.02" y="400.80" width="9.08" height="9.10" fill="#b02531" stroke="#ffffff" stroke-width="0.3" stroke-opacity="0.5"/><circle cx="222.56" cy="405.15" r="0.55" fill="#1a1a1a"/><rect x="227.10" y="400.80" width="9.08" height="9.10" fill="#751026" stroke="#ffffff" stroke-width="0.3" stroke-opacity="0.5"/><circle cx="231.64" cy="405.15" r="0.55" fill="#1a1a1a"/><rect x="236.18" y="400.80" width="9.08" height="9.10" fill="#a41d2d" stroke="#ffffff" stroke-width="0.3" stroke-opacity="0.5"/><circle cx="240.72" cy="405.15" r="0.55" fill="#1a1a1a"/><rect x="245.26" y="400.80" width="9.08" height="9.10" fill="#ac1f2e" stroke="#ffffff" stroke-width="0.3" stroke-opacity="0.5"/><circle cx="249.80" cy="405.15" r="0.55" fill="#1a1a1a"/><rect x="254.34" y="400.80" width="9.08" height="9.10" fill="#ac1f2e" stroke="#ffffff" stroke-width="0.3" stroke-opacity="0.5"/><circle cx="258.88" cy="405.15" r="0.55" fill="#1a1a1a"/><rect x="263.42" y="400.80" width="9.08" height="9.10" fill="#a41d2d" stroke="#ffffff" stroke-width="0.3" stroke-opacity="0.5"/><circle cx="267.96" cy="405.15" r="0.55" fill="#1a1a1a"/><rect x="272.50" y="400.80" width="9.08" height="9.10" fill="#95192a" stroke="#ffffff" stroke-width="0.3" stroke-opacity="0.5"/><circle cx="277.04" cy="405.15" r="0.55" fill="#1a1a1a"/><rect x="218.02" y="409.90" width="9.08" height="9.10" fill="#e4e0dc" stroke="#ffffff" stroke-width="0.3" stroke-opacity="0.5"/><rect x="227.10" y="409.90" width="9.08" height="9.10" fill="#ac1f2e" stroke="#ffffff" stroke-width="0.3" stroke-opacity="0.5"/><circle cx="231.64" cy="414.25" r="0.55" fill="#1a1a1a"/><rect x="236.18" y="409.90" width="9.08" height="9.10" fill="#ac1f2e" stroke="#ffffff" stroke-width="0.3" stroke-opacity="0.5"/><circle cx="240.72" cy="414.25" r="0.55" fill="#1a1a1a"/><rect x="245.26" y="409.90" width="9.08" height="9.10" fill="#ac1f2e" stroke="#ffffff" stroke-width="0.3" stroke-opacity="0.5"/><circle cx="249.80" cy="414.25" r="0.55" fill="#1a1a1a"/><rect x="254.34" y="409.90" width="9.08" height="9.10" fill="#95192a" stroke="#ffffff" stroke-width="0.3" stroke-opacity="0.5"/><circle cx="258.88" cy="414.25" r="0.55" fill="#1a1a1a"/><rect x="263.42" y="409.90" width="9.08" height="9.10" fill="#a41d2d" stroke="#ffffff" stroke-width="0.3" stroke-opacity="0.5"/><circle cx="267.96" cy="414.25" r="0.55" fill="#1a1a1a"/><rect x="272.50" y="409.90" width="9.08" height="9.10" fill="#ac1f2e" stroke="#ffffff" stroke-width="0.3" stroke-opacity="0.5"/><circle cx="277.04" cy="414.25" r="0.55" fill="#1a1a1a"/><rect x="227.10" y="419.00" width="9.08" height="9.10" fill="#e4e0dc" stroke="#ffffff" stroke-width="0.3" stroke-opacity="0.5"/><rect x="236.18" y="419.00" width="9.08" height="9.10" fill="#3465b0" stroke="#ffffff" stroke-width="0.3" stroke-opacity="0.5"/><circle cx="240.72" cy="423.35" r="0.55" fill="#1a1a1a"/><rect x="245.26" y="419.00" width="9.08" height="9.10" fill="#709ed0" stroke="#ffffff" stroke-width="0.3" stroke-opacity="0.5"/><rect x="254.34" y="419.00" width="9.08" height="9.10" fill="#709ed0" stroke="#ffffff" stroke-width="0.3" stroke-opacity="0.5"/><rect x="263.42" y="419.00" width="9.08" height="9.10" fill="#5288c8" stroke="#ffffff" stroke-width="0.3" stroke-opacity="0.5"/><circle cx="267.96" cy="423.35" r="0.55" fill="#1a1a1a"/><rect x="272.50" y="419.00" width="9.08" height="9.10" fill="#7da7d3" stroke="#ffffff" stroke-width="0.3" stroke-opacity="0.5"/><rect x="236.18" y="428.10" width="9.08" height="9.10" fill="#e4e0dc" stroke="#ffffff" stroke-width="0.3" stroke-opacity="0.5"/><rect x="245.26" y="428.10" width="9.08" height="9.10" fill="#f1b69c" stroke="#ffffff" stroke-width="0.3" stroke-opacity="0.5"/><rect x="254.34" y="428.10" width="9.08" height="9.10" fill="#d26153" stroke="#ffffff" stroke-width="0.3" stroke-opacity="0.5"/><rect x="263.42" y="428.10" width="9.08" height="9.10" fill="#e48c73" stroke="#ffffff" stroke-width="0.3" stroke-opacity="0.5"/><rect x="272.50" y="428.10" width="9.08" height="9.10" fill="#d26153" stroke="#ffffff" stroke-width="0.3" stroke-opacity="0.5"/><rect x="245.26" y="437.20" width="9.08" height="9.10" fill="#e4e0dc" stroke="#ffffff" stroke-width="0.3" stroke-opacity="0.5"/><rect x="254.34" y="437.20" width="9.08" height="9.10" fill="#d26153" stroke="#ffffff" stroke-width="0.3" stroke-opacity="0.5"/><rect x="263.42" y="437.20" width="9.08" height="9.10" fill="#efac90" stroke="#ffffff" stroke-width="0.3" stroke-opacity="0.5"/><rect x="272.50" y="437.20" width="9.08" height="9.10" fill="#f1b69c" stroke="#ffffff" stroke-width="0.3" stroke-opacity="0.5"/><rect x="254.34" y="446.30" width="9.08" height="9.10" fill="#e4e0dc" stroke="#ffffff" stroke-width="0.3" stroke-opacity="0.5"/><rect x="263.42" y="446.30" width="9.08" height="9.10" fill="#5288c8" stroke="#ffffff" stroke-width="0.3" stroke-opacity="0.5"/><rect x="272.50" y="446.30" width="9.08" height="9.10" fill="#8fb4d8" stroke="#ffffff" stroke-width="0.3" stroke-opacity="0.5"/><rect x="263.42" y="455.40" width="9.08" height="9.10" fill="#e4e0dc" stroke="#ffffff" stroke-width="0.3" stroke-opacity="0.5"/><rect x="272.50" y="455.40" width="9.08" height="9.10" fill="#d26153" stroke="#ffffff" stroke-width="0.3" stroke-opacity="0.5"/><rect x="272.50" y="464.50" width="9.08" height="9.10" fill="#e4e0dc" stroke="#ffffff" stroke-width="0.3" stroke-opacity="0.5"/><text x="179.20" y="378.95" font-size="4.1" fill="#222" text-anchor="end"  stroke="#222" stroke-width="0.1">HSC1</text><text x="188.28" y="388.05" font-size="4.1" fill="#222" text-anchor="end"  stroke="#222" stroke-width="0.1">HSC2</text><text x="197.36" y="397.15" font-size="4.1" fill="#222" text-anchor="end"  stroke="#222" stroke-width="0.1">CMP</text><text x="206.44" y="406.25" font-size="4.1" fill="#222" text-anchor="end"  stroke="#222" stroke-width="0.1">MEP</text><text x="215.52" y="415.35" font-size="4.1" fill="#222" text-anchor="end"  stroke="#222" stroke-width="0.1">GMP</text><text x="224.60" y="424.45" font-size="4.1" fill="#222" text-anchor="end"  stroke="#222" stroke-width="0.1">ERYS</text><text x="233.68" y="433.55" font-size="4.1" fill="#222" text-anchor="end"  stroke="#222" stroke-width="0.1">MEGA2</text><text x="242.76" y="442.65" font-size="4.1" fill="#222" text-anchor="end"  stroke="#222" stroke-width="0.1">GRAN3</text><text x="251.84" y="451.75" font-size="4.1" fill="#222" text-anchor="end"  stroke="#222" stroke-width="0.1">MONO2</text><text x="260.92" y="460.85" font-size="4.1" fill="#222" text-anchor="end"  stroke="#222" stroke-width="0.1">EOS</text><text x="270.00" y="469.95" font-size="4.1" fill="#222" text-anchor="end"  stroke="#222" stroke-width="0.1">BASO</text><text x="187.64" y="370.10" font-size="4.0" fill="#222" transform="rotate(-90 187.64 370.10)" stroke="#222" stroke-width="0.1">HSC1</text><text x="196.72" y="370.10" font-size="4.0" fill="#222" transform="rotate(-90 196.72 370.10)" stroke="#222" stroke-width="0.1">HSC2</text><text x="205.80" y="370.10" font-size="4.0" fill="#222" transform="rotate(-90 205.80 370.10)" stroke="#222" stroke-width="0.1">CMP</text><text x="214.88" y="370.10" font-size="4.0" fill="#222" transform="rotate(-90 214.88 370.10)" stroke="#222" stroke-width="0.1">MEP</text><text x="223.96" y="370.10" font-size="4.0" fill="#222" transform="rotate(-90 223.96 370.10)" stroke="#222" stroke-width="0.1">GMP</text><text x="233.04" y="370.10" font-size="4.0" fill="#222" transform="rotate(-90 233.04 370.10)" stroke="#222" stroke-width="0.1">ERYS</text><text x="242.12" y="370.10" font-size="4.0" fill="#222" transform="rotate(-90 242.12 370.10)" stroke="#222" stroke-width="0.1">MEGA2</text><text x="251.20" y="370.10" font-size="4.0" fill="#222" transform="rotate(-90 251.20 370.10)" stroke="#222" stroke-width="0.1">GRAN3</text><text x="260.28" y="370.10" font-size="4.0" fill="#222" transform="rotate(-90 260.28 370.10)" stroke="#222" stroke-width="0.1">MONO2</text><text x="269.36" y="370.10" font-size="4.0" fill="#222" transform="rotate(-90 269.36 370.10)" stroke="#222" stroke-width="0.1">EOS</text><text x="278.44" y="370.10" font-size="4.0" fill="#222" transform="rotate(-90 278.44 370.10)" stroke="#222" stroke-width="0.1">BASO</text><text x="232.20" y="342.50" font-size="6.0" fill="#000" text-anchor="middle" font-weight="bold" textLength="59.1" lengthAdjust="spacingAndGlyphs"  stroke="#000" stroke-width="0.1">Up-regulated genes</text><line x1="202.65" y1="343.6" x2="261.75" y2="343.6" stroke="#000" stroke-width="0.55"/><text x="232.20" y="350.00" font-size="5.6" fill="#222" text-anchor="middle" textLength="33.4" lengthAdjust="spacingAndGlyphs"  stroke="#222" stroke-width="0.1">Population B</text><text x="208.50" y="435.40" font-size="5.2" font-weight="bold" fill="#222" stroke="#222" stroke-width="0.12" text-anchor="middle" textLength="24.5" lengthAdjust="spacingAndGlyphs" transform="rotate(45 208.50 434.00)">Population A</text><defs><linearGradient id="g283" x1="0" y1="0" x2="0" y2="1"><stop offset="0.0" stop-color="#5e0a22"/><stop offset="0.1" stop-color="#ac1f2e"/><stop offset="0.2" stop-color="#cf5a4e"/><stop offset="0.3" stop-color="#eda283"/><stop offset="0.4" stop-color="#f6d3c2"/><stop offset="0.5" stop-color="#eeeeee"/><stop offset="0.6" stop-color="#c9dbea"/><stop offset="0.7" stop-color="#8fb4d8"/><stop offset="0.8" stop-color="#5288c8"/><stop offset="0.9" stop-color="#3465b0"/><stop offset="1.0" stop-color="#0b2d5e"/></linearGradient></defs><rect x="283.1" y="373.5" width="5.3" height="100.10" fill="url(#g283)"/><line x1="288.40000000000003" y1="373.50" x2="289.70000000000005" y2="373.50" stroke="#444" stroke-width="0.3"/><text x="291.50" y="375.00" font-size="4.2" fill="#222" text-anchor="start"  stroke="#222" stroke-width="0.1">2.5</text><line x1="288.40000000000003" y1="383.50" x2="289.70000000000005" y2="383.50" stroke="#444" stroke-width="0.3"/><text x="291.50" y="385.00" font-size="4.2" fill="#222" text-anchor="start"  stroke="#222" stroke-width="0.1">2</text><line x1="288.40000000000003" y1="393.50" x2="289.70000000000005" y2="393.50" stroke="#444" stroke-width="0.3"/><text x="291.50" y="395.00" font-size="4.2" fill="#222" text-anchor="start"  stroke="#222" stroke-width="0.1">1.5</text><line x1="288.40000000000003" y1="403.50" x2="289.70000000000005" y2="403.50" stroke="#444" stroke-width="0.3"/><text x="291.50" y="405.00" font-size="4.2" fill="#222" text-anchor="start"  stroke="#222" stroke-width="0.1">1</text><line x1="288.40000000000003" y1="413.50" x2="289.70000000000005" y2="413.50" stroke="#444" stroke-width="0.3"/><text x="291.50" y="415.00" font-size="4.2" fill="#222" text-anchor="start"  stroke="#222" stroke-width="0.1">0.5</text><line x1="288.40000000000003" y1="423.50" x2="289.70000000000005" y2="423.50" stroke="#444" stroke-width="0.3"/><text x="291.50" y="425.00" font-size="4.2" fill="#222" text-anchor="start"  stroke="#222" stroke-width="0.1">0</text><line x1="288.40000000000003" y1="433.50" x2="289.70000000000005" y2="433.50" stroke="#444" stroke-width="0.3"/><text x="291.50" y="435.00" font-size="4.2" fill="#222" text-anchor="start"  stroke="#222" stroke-width="0.1">-0.5</text><line x1="288.40000000000003" y1="443.50" x2="289.70000000000005" y2="443.50" stroke="#444" stroke-width="0.3"/><text x="291.50" y="445.00" font-size="4.2" fill="#222" text-anchor="start"  stroke="#222" stroke-width="0.1">-1</text><line x1="288.40000000000003" y1="453.50" x2="289.70000000000005" y2="453.50" stroke="#444" stroke-width="0.3"/><text x="291.50" y="455.00" font-size="4.2" fill="#222" text-anchor="start"  stroke="#222" stroke-width="0.1">-1.5</text><line x1="288.40000000000003" y1="463.50" x2="289.70000000000005" y2="463.50" stroke="#444" stroke-width="0.3"/><text x="291.50" y="465.00" font-size="4.2" fill="#222" text-anchor="start"  stroke="#222" stroke-width="0.1">-2</text><line x1="288.40000000000003" y1="473.50" x2="289.70000000000005" y2="473.50" stroke="#444" stroke-width="0.3"/><text x="291.50" y="475.00" font-size="4.2" fill="#222" text-anchor="start"  stroke="#222" stroke-width="0.1">-2.5</text><text x="282.80" y="369.60" font-size="4.2" fill="#222" text-anchor="start"  stroke="#222" stroke-width="0.1">NES</text></g>
<g class="hm"><rect x="327.40" y="374.00" width="9.10" height="9.08" fill="#e4e0dc" stroke="#ffffff" stroke-width="0.3" stroke-opacity="0.5"/><rect x="336.50" y="374.00" width="9.10" height="9.08" fill="#497ec1" stroke="#ffffff" stroke-width="0.3" stroke-opacity="0.5"/><circle cx="341.05" cy="378.34" r="0.55" fill="#1a1a1a"/><rect x="345.60" y="374.00" width="9.10" height="9.08" fill="#8fb4d8" stroke="#ffffff" stroke-width="0.3" stroke-opacity="0.5"/><circle cx="350.15" cy="378.34" r="0.55" fill="#1a1a1a"/><rect x="354.70" y="374.00" width="9.10" height="9.08" fill="#95b8da" stroke="#ffffff" stroke-width="0.3" stroke-opacity="0.5"/><circle cx="359.25" cy="378.34" r="0.55" fill="#1a1a1a"/><rect x="363.80" y="374.00" width="9.10" height="9.08" fill="#3a6cb5" stroke="#ffffff" stroke-width="0.3" stroke-opacity="0.5"/><circle cx="368.35" cy="378.34" r="0.55" fill="#1a1a1a"/><rect x="372.90" y="374.00" width="9.10" height="9.08" fill="#285497" stroke="#ffffff" stroke-width="0.3" stroke-opacity="0.5"/><circle cx="377.45" cy="378.34" r="0.55" fill="#1a1a1a"/><rect x="382.00" y="374.00" width="9.10" height="9.08" fill="#2c5aa0" stroke="#ffffff" stroke-width="0.3" stroke-opacity="0.5"/><circle cx="386.55" cy="378.34" r="0.55" fill="#1a1a1a"/><rect x="391.10" y="374.00" width="9.10" height="9.08" fill="#3d70b7" stroke="#ffffff" stroke-width="0.3" stroke-opacity="0.5"/><circle cx="395.65" cy="378.34" r="0.55" fill="#1a1a1a"/><rect x="400.20" y="374.00" width="9.10" height="9.08" fill="#467abe" stroke="#ffffff" stroke-width="0.3" stroke-opacity="0.5"/><circle cx="404.75" cy="378.34" r="0.55" fill="#1a1a1a"/><rect x="409.30" y="374.00" width="9.10" height="9.08" fill="#3d70b7" stroke="#ffffff" stroke-width="0.3" stroke-opacity="0.5"/><circle cx="413.85" cy="378.34" r="0.55" fill="#1a1a1a"/><rect x="418.40" y="374.00" width="9.10" height="9.08" fill="#467abe" stroke="#ffffff" stroke-width="0.3" stroke-opacity="0.5"/><circle cx="422.95" cy="378.34" r="0.55" fill="#1a1a1a"/><rect x="336.50" y="383.08" width="9.10" height="9.08" fill="#e4e0dc" stroke="#ffffff" stroke-width="0.3" stroke-opacity="0.5"/><rect x="345.60" y="383.08" width="9.10" height="9.08" fill="#eda283" stroke="#ffffff" stroke-width="0.3" stroke-opacity="0.5"/><rect x="354.70" y="383.08" width="9.10" height="9.08" fill="#eda283" stroke="#ffffff" stroke-width="0.3" stroke-opacity="0.5"/><circle cx="359.25" cy="387.42" r="0.55" fill="#1a1a1a"/><rect x="363.80" y="383.08" width="9.10" height="9.08" fill="#4f84c6" stroke="#ffffff" stroke-width="0.3" stroke-opacity="0.5"/><circle cx="368.35" cy="387.42" r="0.55" fill="#1a1a1a"/><rect x="372.90" y="383.08" width="9.10" height="9.08" fill="#3465b0" stroke="#ffffff" stroke-width="0.3" stroke-opacity="0.5"/><circle cx="377.45" cy="387.42" r="0.55" fill="#1a1a1a"/><rect x="382.00" y="383.08" width="9.10" height="9.08" fill="#3a6cb5" stroke="#ffffff" stroke-width="0.3" stroke-opacity="0.5"/><circle cx="386.55" cy="387.42" r="0.55" fill="#1a1a1a"/><rect x="391.10" y="383.08" width="9.10" height="9.08" fill="#467abe" stroke="#ffffff" stroke-width="0.3" stroke-opacity="0.5"/><circle cx="395.65" cy="387.42" r="0.55" fill="#1a1a1a"/><rect x="400.20" y="383.08" width="9.10" height="9.08" fill="#4f84c6" stroke="#ffffff" stroke-width="0.3" stroke-opacity="0.5"/><circle cx="404.75" cy="387.42" r="0.55" fill="#1a1a1a"/><rect x="409.30" y="383.08" width="9.10" height="9.08" fill="#467abe" stroke="#ffffff" stroke-width="0.3" stroke-opacity="0.5"/><circle cx="413.85" cy="387.42" r="0.55" fill="#1a1a1a"/><rect x="418.40" y="383.08" width="9.10" height="9.08" fill="#588cca" stroke="#ffffff" stroke-width="0.3" stroke-opacity="0.5"/><circle cx="422.95" cy="387.42" r="0.55" fill="#1a1a1a"/><rect x="345.60" y="392.16" width="9.10" height="9.08" fill="#e4e0dc" stroke="#ffffff" stroke-width="0.3" stroke-opacity="0.5"/><rect x="354.70" y="392.16" width="9.10" height="9.08" fill="#eda283" stroke="#ffffff" stroke-width="0.3" stroke-opacity="0.5"/><rect x="363.80" y="392.16" width="9.10" height="9.08" fill="#467abe" stroke="#ffffff" stroke-width="0.3" stroke-opacity="0.5"/><circle cx="368.35" cy="396.50" r="0.55" fill="#1a1a1a"/><rect x="372.90" y="392.16" width="9.10" height="9.08" fill="#3768b2" stroke="#ffffff" stroke-width="0.3" stroke-opacity="0.5"/><circle cx="377.45" cy="396.50" r="0.55" fill="#1a1a1a"/><rect x="382.00" y="392.16" width="9.10" height="9.08" fill="#3d70b7" stroke="#ffffff" stroke-width="0.3" stroke-opacity="0.5"/><circle cx="386.55" cy="396.50" r="0.55" fill="#1a1a1a"/><rect x="391.10" y="392.16" width="9.10" height="9.08" fill="#3d70b7" stroke="#ffffff" stroke-width="0.3" stroke-opacity="0.5"/><circle cx="395.65" cy="396.50" r="0.55" fill="#1a1a1a"/><rect x="400.20" y="392.16" width="9.10" height="9.08" fill="#588cca" stroke="#ffffff" stroke-width="0.3" stroke-opacity="0.5"/><circle cx="404.75" cy="396.50" r="0.55" fill="#1a1a1a"/><rect x="409.30" y="392.16" width="9.10" height="9.08" fill="#497ec1" stroke="#ffffff" stroke-width="0.3" stroke-opacity="0.5"/><circle cx="413.85" cy="396.50" r="0.55" fill="#1a1a1a"/><rect x="418.40" y="392.16" width="9.10" height="9.08" fill="#4f84c6" stroke="#ffffff" stroke-width="0.3" stroke-opacity="0.5"/><circle cx="422.95" cy="396.50" r="0.55" fill="#1a1a1a"/><rect x="354.70" y="401.24" width="9.10" height="9.08" fill="#e4e0dc" stroke="#ffffff" stroke-width="0.3" stroke-opacity="0.5"/><rect x="363.80" y="401.24" width="9.10" height="9.08" fill="#3a6cb5" stroke="#ffffff" stroke-width="0.3" stroke-opacity="0.5"/><circle cx="368.35" cy="405.58" r="0.55" fill="#1a1a1a"/><rect x="372.90" y="401.24" width="9.10" height="9.08" fill="#305fa8" stroke="#ffffff" stroke-width="0.3" stroke-opacity="0.5"/><circle cx="377.45" cy="405.58" r="0.55" fill="#1a1a1a"/><rect x="382.00" y="401.24" width="9.10" height="9.08" fill="#285497" stroke="#ffffff" stroke-width="0.3" stroke-opacity="0.5"/><circle cx="386.55" cy="405.58" r="0.55" fill="#1a1a1a"/><rect x="391.10" y="401.24" width="9.10" height="9.08" fill="#3a6cb5" stroke="#ffffff" stroke-width="0.3" stroke-opacity="0.5"/><circle cx="395.65" cy="405.58" r="0.55" fill="#1a1a1a"/><rect x="400.20" y="401.24" width="9.10" height="9.08" fill="#467abe" stroke="#ffffff" stroke-width="0.3" stroke-opacity="0.5"/><circle cx="404.75" cy="405.58" r="0.55" fill="#1a1a1a"/><rect x="409.30" y="401.24" width="9.10" height="9.08" fill="#467abe" stroke="#ffffff" stroke-width="0.3" stroke-opacity="0.5"/><circle cx="413.85" cy="405.58" r="0.55" fill="#1a1a1a"/><rect x="418.40" y="401.24" width="9.10" height="9.08" fill="#4f84c6" stroke="#ffffff" stroke-width="0.3" stroke-opacity="0.5"/><circle cx="422.95" cy="405.58" r="0.55" fill="#1a1a1a"/><rect x="363.80" y="410.32" width="9.10" height="9.08" fill="#e4e0dc" stroke="#ffffff" stroke-width="0.3" stroke-opacity="0.5"/><rect x="372.90" y="410.32" width="9.10" height="9.08" fill="#467abe" stroke="#ffffff" stroke-width="0.3" stroke-opacity="0.5"/><circle cx="377.45" cy="414.66" r="0.55" fill="#1a1a1a"/><rect x="382.00" y="410.32" width="9.10" height="9.08" fill="#467abe" stroke="#ffffff" stroke-width="0.3" stroke-opacity="0.5"/><circle cx="386.55" cy="414.66" r="0.55" fill="#1a1a1a"/><rect x="391.10" y="410.32" width="9.10" height="9.08" fill="#497ec1" stroke="#ffffff" stroke-width="0.3" stroke-opacity="0.5"/><circle cx="395.65" cy="414.66" r="0.55" fill="#1a1a1a"/><rect x="400.20" y="410.32" width="9.10" height="9.08" fill="#83abd5" stroke="#ffffff" stroke-width="0.3" stroke-opacity="0.5"/><circle cx="404.75" cy="414.66" r="0.55" fill="#1a1a1a"/><rect x="409.30" y="410.32" width="9.10" height="9.08" fill="#eda283" stroke="#ffffff" stroke-width="0.3" stroke-opacity="0.5"/><rect x="418.40" y="410.32" width="9.10" height="9.08" fill="#eda283" stroke="#ffffff" stroke-width="0.3" stroke-opacity="0.5"/><rect x="372.90" y="419.40" width="9.10" height="9.08" fill="#e4e0dc" stroke="#ffffff" stroke-width="0.3" stroke-opacity="0.5"/><rect x="382.00" y="419.40" width="9.10" height="9.08" fill="#db7763" stroke="#ffffff" stroke-width="0.3" stroke-opacity="0.5"/><circle cx="386.55" cy="423.74" r="0.55" fill="#1a1a1a"/><rect x="391.10" y="419.40" width="9.10" height="9.08" fill="#95b8da" stroke="#ffffff" stroke-width="0.3" stroke-opacity="0.5"/><circle cx="395.65" cy="423.74" r="0.55" fill="#1a1a1a"/><rect x="400.20" y="419.40" width="9.10" height="9.08" fill="#c54844" stroke="#ffffff" stroke-width="0.3" stroke-opacity="0.5"/><circle cx="404.75" cy="423.74" r="0.55" fill="#1a1a1a"/><rect x="409.30" y="419.40" width="9.10" height="9.08" fill="#c84e48" stroke="#ffffff" stroke-width="0.3" stroke-opacity="0.5"/><circle cx="413.85" cy="423.74" r="0.55" fill="#1a1a1a"/><rect x="418.40" y="419.40" width="9.10" height="9.08" fill="#c84e48" stroke="#ffffff" stroke-width="0.3" stroke-opacity="0.5"/><circle cx="422.95" cy="423.74" r="0.55" fill="#1a1a1a"/><rect x="382.00" y="428.48" width="9.10" height="9.08" fill="#e4e0dc" stroke="#ffffff" stroke-width="0.3" stroke-opacity="0.5"/><rect x="391.10" y="428.48" width="9.10" height="9.08" fill="#83abd5" stroke="#ffffff" stroke-width="0.3" stroke-opacity="0.5"/><circle cx="395.65" cy="432.82" r="0.55" fill="#1a1a1a"/><rect x="400.20" y="428.48" width="9.10" height="9.08" fill="#c54844" stroke="#ffffff" stroke-width="0.3" stroke-opacity="0.5"/><circle cx="404.75" cy="432.82" r="0.55" fill="#1a1a1a"/><rect x="409.30" y="428.48" width="9.10" height="9.08" fill="#be3c3e" stroke="#ffffff" stroke-width="0.3" stroke-opacity="0.5"/><circle cx="413.85" cy="432.82" r="0.55" fill="#1a1a1a"/><rect x="418.40" y="428.48" width="9.10" height="9.08" fill="#c84e48" stroke="#ffffff" stroke-width="0.3" stroke-opacity="0.5"/><circle cx="422.95" cy="432.82" r="0.55" fill="#1a1a1a"/><rect x="391.10" y="437.56" width="9.10" height="9.08" fill="#e4e0dc" stroke="#ffffff" stroke-width="0.3" stroke-opacity="0.5"/><rect x="400.20" y="437.56" width="9.10" height="9.08" fill="#be3c3e" stroke="#ffffff" stroke-width="0.3" stroke-opacity="0.5"/><circle cx="404.75" cy="441.90" r="0.55" fill="#1a1a1a"/><rect x="409.30" y="437.56" width="9.10" height="9.08" fill="#b73138" stroke="#ffffff" stroke-width="0.3" stroke-opacity="0.5"/><circle cx="413.85" cy="441.90" r="0.55" fill="#1a1a1a"/><rect x="418.40" y="437.56" width="9.10" height="9.08" fill="#c54844" stroke="#ffffff" stroke-width="0.3" stroke-opacity="0.5"/><circle cx="422.95" cy="441.90" r="0.55" fill="#1a1a1a"/><rect x="400.20" y="446.64" width="9.10" height="9.08" fill="#e4e0dc" stroke="#ffffff" stroke-width="0.3" stroke-opacity="0.5"/><rect x="409.30" y="446.64" width="9.10" height="9.08" fill="#d56859" stroke="#ffffff" stroke-width="0.3" stroke-opacity="0.5"/><circle cx="413.85" cy="450.98" r="0.55" fill="#1a1a1a"/><rect x="418.40" y="446.64" width="9.10" height="9.08" fill="#e1856e" stroke="#ffffff" stroke-width="0.3" stroke-opacity="0.5"/><circle cx="422.95" cy="450.98" r="0.55" fill="#1a1a1a"/><rect x="409.30" y="455.72" width="9.10" height="9.08" fill="#e4e0dc" stroke="#ffffff" stroke-width="0.3" stroke-opacity="0.5"/><rect x="418.40" y="455.72" width="9.10" height="9.08" fill="#e1856e" stroke="#ffffff" stroke-width="0.3" stroke-opacity="0.5"/><circle cx="422.95" cy="460.06" r="0.55" fill="#1a1a1a"/><rect x="418.40" y="464.80" width="9.10" height="9.08" fill="#e4e0dc" stroke="#ffffff" stroke-width="0.3" stroke-opacity="0.5"/><text x="324.90" y="379.44" font-size="4.1" fill="#222" text-anchor="end"  stroke="#222" stroke-width="0.1">HSC1</text><text x="334.00" y="388.52" font-size="4.1" fill="#222" text-anchor="end"  stroke="#222" stroke-width="0.1">HSC2</text><text x="343.10" y="397.60" font-size="4.1" fill="#222" text-anchor="end"  stroke="#222" stroke-width="0.1">CMP</text><text x="352.20" y="406.68" font-size="4.1" fill="#222" text-anchor="end"  stroke="#222" stroke-width="0.1">MEP</text><text x="361.30" y="415.76" font-size="4.1" fill="#222" text-anchor="end"  stroke="#222" stroke-width="0.1">GMP</text><text x="370.40" y="424.84" font-size="4.1" fill="#222" text-anchor="end"  stroke="#222" stroke-width="0.1">ERYS</text><text x="379.50" y="433.92" font-size="4.1" fill="#222" text-anchor="end"  stroke="#222" stroke-width="0.1">MEGA2</text><text x="388.60" y="443.00" font-size="4.1" fill="#222" text-anchor="end"  stroke="#222" stroke-width="0.1">GRAN3</text><text x="397.70" y="452.08" font-size="4.1" fill="#222" text-anchor="end"  stroke="#222" stroke-width="0.1">MONO2</text><text x="406.80" y="461.16" font-size="4.1" fill="#222" text-anchor="end"  stroke="#222" stroke-width="0.1">EOS</text><text x="415.90" y="470.24" font-size="4.1" fill="#222" text-anchor="end"  stroke="#222" stroke-width="0.1">BASO</text><text x="333.35" y="370.60" font-size="4.0" fill="#222" transform="rotate(-90 333.35 370.60)" stroke="#222" stroke-width="0.1">HSC1</text><text x="342.45" y="370.60" font-size="4.0" fill="#222" transform="rotate(-90 342.45 370.60)" stroke="#222" stroke-width="0.1">HSC2</text><text x="351.55" y="370.60" font-size="4.0" fill="#222" transform="rotate(-90 351.55 370.60)" stroke="#222" stroke-width="0.1">CMP</text><text x="360.65" y="370.60" font-size="4.0" fill="#222" transform="rotate(-90 360.65 370.60)" stroke="#222" stroke-width="0.1">MEP</text><text x="369.75" y="370.60" font-size="4.0" fill="#222" transform="rotate(-90 369.75 370.60)" stroke="#222" stroke-width="0.1">GMP</text><text x="378.85" y="370.60" font-size="4.0" fill="#222" transform="rotate(-90 378.85 370.60)" stroke="#222" stroke-width="0.1">ERYS</text><text x="387.95" y="370.60" font-size="4.0" fill="#222" transform="rotate(-90 387.95 370.60)" stroke="#222" stroke-width="0.1">MEGA2</text><text x="397.05" y="370.60" font-size="4.0" fill="#222" transform="rotate(-90 397.05 370.60)" stroke="#222" stroke-width="0.1">GRAN3</text><text x="406.15" y="370.60" font-size="4.0" fill="#222" transform="rotate(-90 406.15 370.60)" stroke="#222" stroke-width="0.1">MONO2</text><text x="415.25" y="370.60" font-size="4.0" fill="#222" transform="rotate(-90 415.25 370.60)" stroke="#222" stroke-width="0.1">EOS</text><text x="424.35" y="370.60" font-size="4.0" fill="#222" transform="rotate(-90 424.35 370.60)" stroke="#222" stroke-width="0.1">BASO</text><text x="377.90" y="342.50" font-size="6.0" fill="#000" text-anchor="middle" font-weight="bold" textLength="68" lengthAdjust="spacingAndGlyphs"  stroke="#000" stroke-width="0.1">Down-regulated genes</text><line x1="343.90" y1="343.6" x2="411.90" y2="343.6" stroke="#000" stroke-width="0.55"/><text x="377.90" y="350.00" font-size="5.6" fill="#222" text-anchor="middle" textLength="33.4" lengthAdjust="spacingAndGlyphs"  stroke="#222" stroke-width="0.1">Population B</text><text x="357.30" y="433.90" font-size="5.2" font-weight="bold" fill="#222" stroke="#222" stroke-width="0.12" text-anchor="middle" textLength="24.5" lengthAdjust="spacingAndGlyphs" transform="rotate(45 357.30 432.50)">Population A</text><defs><linearGradient id="g429" x1="0" y1="0" x2="0" y2="1"><stop offset="0.0" stop-color="#b52e36"/><stop offset="0.025" stop-color="#bc3b3d"/><stop offset="0.05" stop-color="#c44844"/><stop offset="0.075" stop-color="#cc544b"/><stop offset="0.1" stop-color="#d36355"/><stop offset="0.125" stop-color="#d97360"/><stop offset="0.15" stop-color="#e0826c"/><stop offset="0.175" stop-color="#e69277"/><stop offset="0.2" stop-color="#eda283"/><stop offset="0.225" stop-color="#efad91"/><stop offset="0.25" stop-color="#f1b79f"/><stop offset="0.275" stop-color="#f3c2ac"/><stop offset="0.3" stop-color="#f5cdba"/><stop offset="0.325" stop-color="#f5d6c6"/><stop offset="0.35" stop-color="#f4dbd0"/><stop offset="0.375" stop-color="#f2e1d9"/><stop offset="0.4" stop-color="#f0e7e3"/><stop offset="0.425" stop-color="#eeeded"/><stop offset="0.45" stop-color="#e7eaed"/><stop offset="0.475" stop-color="#dfe6ec"/><stop offset="0.5" stop-color="#d7e2ec"/><stop offset="0.525" stop-color="#cfdeeb"/><stop offset="0.55" stop-color="#c5d9e9"/><stop offset="0.575" stop-color="#b9d0e5"/><stop offset="0.6" stop-color="#acc8e1"/><stop offset="0.625" stop-color="#9fbfdd"/><stop offset="0.65" stop-color="#93b6d9"/><stop offset="0.675" stop-color="#85add6"/><stop offset="0.7" stop-color="#78a3d2"/><stop offset="0.725" stop-color="#6b9ace"/><stop offset="0.75" stop-color="#5d90cb"/><stop offset="0.775" stop-color="#5187c7"/><stop offset="0.8" stop-color="#4b7fc2"/><stop offset="0.825" stop-color="#4478bd"/><stop offset="0.85" stop-color="#3d70b8"/><stop offset="0.875" stop-color="#3768b2"/><stop offset="0.9" stop-color="#2f5ea6"/><stop offset="0.925" stop-color="#265294"/><stop offset="0.95" stop-color="#1d4582"/><stop offset="0.975" stop-color="#143970"/><stop offset="1.0" stop-color="#0b2d5e"/></linearGradient></defs><rect x="429.1" y="374.0" width="5.3" height="99.88" fill="url(#g429)"/><line x1="434.40000000000003" y1="374.00" x2="435.70000000000005" y2="374.00" stroke="#444" stroke-width="0.3"/><text x="437.50" y="375.50" font-size="4.2" fill="#222" text-anchor="start"  stroke="#222" stroke-width="0.1">3</text><line x1="434.40000000000003" y1="388.23" x2="435.70000000000005" y2="388.23" stroke="#444" stroke-width="0.3"/><text x="437.50" y="389.73" font-size="4.2" fill="#222" text-anchor="start"  stroke="#222" stroke-width="0.1">2</text><line x1="434.40000000000003" y1="402.46" x2="435.70000000000005" y2="402.46" stroke="#444" stroke-width="0.3"/><text x="437.50" y="403.96" font-size="4.2" fill="#222" text-anchor="start"  stroke="#222" stroke-width="0.1">1</text><line x1="434.40000000000003" y1="416.69" x2="435.70000000000005" y2="416.69" stroke="#444" stroke-width="0.3"/><text x="437.50" y="418.19" font-size="4.2" fill="#222" text-anchor="start"  stroke="#222" stroke-width="0.1">0</text><line x1="434.40000000000003" y1="430.91" x2="435.70000000000005" y2="430.91" stroke="#444" stroke-width="0.3"/><text x="437.50" y="432.41" font-size="4.2" fill="#222" text-anchor="start"  stroke="#222" stroke-width="0.1">-1</text><line x1="434.40000000000003" y1="445.14" x2="435.70000000000005" y2="445.14" stroke="#444" stroke-width="0.3"/><text x="437.50" y="446.64" font-size="4.2" fill="#222" text-anchor="start"  stroke="#222" stroke-width="0.1">-2</text><line x1="434.40000000000003" y1="459.37" x2="435.70000000000005" y2="459.37" stroke="#444" stroke-width="0.3"/><text x="437.50" y="460.87" font-size="4.2" fill="#222" text-anchor="start"  stroke="#222" stroke-width="0.1">-3</text><line x1="434.40000000000003" y1="473.60" x2="435.70000000000005" y2="473.60" stroke="#444" stroke-width="0.3"/><text x="437.50" y="475.10" font-size="4.2" fill="#222" text-anchor="start"  stroke="#222" stroke-width="0.1">-4</text><text x="428.80" y="369.60" font-size="4.2" fill="#222" text-anchor="start"  stroke="#222" stroke-width="0.1">NES</text></g>
<g class="gs"><text x="86.80" y="508.80" font-size="5.8" fill="#1a1a1a" text-anchor="middle" textLength="52.8" lengthAdjust="spacingAndGlyphs"  stroke="#1a1a1a" stroke-width="0.11">Up-regulated genes</text><text x="86.80" y="515.70" font-size="5.8" fill="#1a1a1a" text-anchor="middle" textLength="34.8" lengthAdjust="spacingAndGlyphs"  stroke="#1a1a1a" stroke-width="0.11">(GSE76009)</text><line x1="42.70" y1="520.6" x2="42.70" y2="560.5" stroke="#ececec" stroke-width="0.4"/><line x1="42.70" y1="576.8" x2="42.70" y2="603.4" stroke="#ececec" stroke-width="0.4"/><line x1="51.95" y1="520.6" x2="51.95" y2="560.5" stroke="#ececec" stroke-width="0.4"/><line x1="51.95" y1="576.8" x2="51.95" y2="603.4" stroke="#ececec" stroke-width="0.4"/><line x1="61.20" y1="520.6" x2="61.20" y2="560.5" stroke="#ececec" stroke-width="0.4"/><line x1="61.20" y1="576.8" x2="61.20" y2="603.4" stroke="#ececec" stroke-width="0.4"/><line x1="70.45" y1="520.6" x2="70.45" y2="560.5" stroke="#ececec" stroke-width="0.4"/><line x1="70.45" y1="576.8" x2="70.45" y2="603.4" stroke="#ececec" stroke-width="0.4"/><line x1="79.70" y1="520.6" x2="79.70" y2="560.5" stroke="#ececec" stroke-width="0.4"/><line x1="79.70" y1="576.8" x2="79.70" y2="603.4" stroke="#ececec" stroke-width="0.4"/><line x1="88.95" y1="520.6" x2="88.95" y2="560.5" stroke="#ececec" stroke-width="0.4"/><line x1="88.95" y1="576.8" x2="88.95" y2="603.4" stroke="#ececec" stroke-width="0.4"/><line x1="98.20" y1="520.6" x2="98.20" y2="560.5" stroke="#ececec" stroke-width="0.4"/><line x1="98.20" y1="576.8" x2="98.20" y2="603.4" stroke="#ececec" stroke-width="0.4"/><line x1="107.45" y1="520.6" x2="107.45" y2="560.5" stroke="#ececec" stroke-width="0.4"/><line x1="107.45" y1="576.8" x2="107.45" y2="603.4" stroke="#ececec" stroke-width="0.4"/><line x1="116.70" y1="520.6" x2="116.70" y2="560.5" stroke="#ececec" stroke-width="0.4"/><line x1="116.70" y1="576.8" x2="116.70" y2="603.4" stroke="#ececec" stroke-width="0.4"/><line x1="125.95" y1="520.6" x2="125.95" y2="560.5" stroke="#ececec" stroke-width="0.4"/><line x1="125.95" y1="576.8" x2="125.95" y2="603.4" stroke="#ececec" stroke-width="0.4"/><line x1="42.7" y1="560.30" x2="130.9" y2="560.30" stroke="#f0f0f0" stroke-width="0.4"/><line x1="42.7" y1="555.71" x2="130.9" y2="555.71" stroke="#f0f0f0" stroke-width="0.4"/><line x1="42.7" y1="551.12" x2="130.9" y2="551.12" stroke="#f0f0f0" stroke-width="0.4"/><line x1="42.7" y1="546.54" x2="130.9" y2="546.54" stroke="#f0f0f0" stroke-width="0.4"/><line x1="42.7" y1="541.95" x2="130.9" y2="541.95" stroke="#f0f0f0" stroke-width="0.4"/><line x1="42.7" y1="537.36" x2="130.9" y2="537.36" stroke="#f0f0f0" stroke-width="0.4"/><line x1="42.7" y1="532.77" x2="130.9" y2="532.77" stroke="#f0f0f0" stroke-width="0.4"/><line x1="42.7" y1="528.19" x2="130.9" y2="528.19" stroke="#f0f0f0" stroke-width="0.4"/><line x1="42.7" y1="523.60" x2="130.9" y2="523.60" stroke="#f0f0f0" stroke-width="0.4"/><line x1="42.7" y1="560.5" x2="130.9" y2="560.5" stroke="#bbb" stroke-width="0.4"/><line x1="42.7" y1="573.5999999999999" x2="130.9" y2="573.5999999999999" stroke="#ddd" stroke-width="0.3"/><line x1="44.40" y1="560.5" x2="44.40" y2="573.3" stroke="#000" stroke-width="0.4" stroke-opacity="0.90"/><line x1="45.20" y1="560.5" x2="45.20" y2="573.3" stroke="#000" stroke-width="0.4" stroke-opacity="0.90"/><line x1="49.60" y1="560.5" x2="49.60" y2="573.3" stroke="#000" stroke-width="0.4" stroke-opacity="0.90"/><line x1="50.80" y1="560.5" x2="50.80" y2="573.3" stroke="#000" stroke-width="0.4" stroke-opacity="0.90"/><line x1="51.90" y1="560.5" x2="51.90" y2="573.3" stroke="#000" stroke-width="0.4" stroke-opacity="0.90"/><line x1="53.00" y1="560.5" x2="53.00" y2="573.3" stroke="#000" stroke-width="0.4" stroke-opacity="0.90"/><line x1="61.70" y1="560.5" x2="61.70" y2="573.3" stroke="#000" stroke-width="0.4" stroke-opacity="0.90"/><line x1="65.70" y1="560.5" x2="65.70" y2="573.3" stroke="#000" stroke-width="0.4" stroke-opacity="0.90"/><rect x="42.70" y="573.9" width="22.10" height="2.90" fill="#dc3c4c"/><rect x="64.80" y="573.9" width="12.10" height="2.90" fill="#dc5a6a"/><rect x="76.90" y="573.9" width="12.90" height="2.90" fill="#e06a6e"/><rect x="89.80" y="573.9" width="11.20" height="2.90" fill="#eaa6dc"/><rect x="101.00" y="573.9" width="12.00" height="2.90" fill="#cfcff4"/><rect x="113.00" y="573.9" width="6.00" height="2.90" fill="#9c9ce8"/><rect x="119.00" y="573.9" width="5.00" height="2.90" fill="#5c5cde"/><rect x="124.00" y="573.9" width="2.00" height="2.90" fill="#0a0ab8"/><path d="M42.7,589.4 L42.7,585.2 Q45,587.6 52,588.5 L95,589.3 L118,589.7 Q123.5,590.3 125.2,592 L126,598.6 L126,589.4 Z" fill="#c9c9c9" stroke="#a9a9a9" stroke-width="0.35"/><line x1="42.7" y1="589.4" x2="126.0" y2="589.4" stroke="#9a9a9a" stroke-width="0.5"/><text x="102.00" y="590.30" font-size="2.0" fill="#333" text-anchor="middle"  stroke="#333" stroke-width="0.11">Zero cross at 7460</text><polyline points="42.70,560.30 43.20,548.00 44.00,532.00 45.00,526.00 46.10,523.60 47.50,524.60 49.00,525.60 51.00,524.50 53.60,522.70 55.00,523.00 58.00,525.00 61.00,526.50 65.70,528.30 75.00,533.20 126.00,560.30" fill="none" stroke="#84e639" stroke-width="1.0" stroke-linejoin="round"/><text x="43.90" y="545.60" font-size="4.9" fill="#1a1a1a" text-anchor="start" textLength="24.5" lengthAdjust="spacingAndGlyphs"  stroke="#1a1a1a" stroke-width="0.11">NES: 1.57</text><text x="43.90" y="552.10" font-size="4.9" fill="#1a1a1a" text-anchor="start" textLength="50.5" lengthAdjust="spacingAndGlyphs"  stroke="#1a1a1a" stroke-width="0.11">Nominal p-value: 0.023</text><text x="43.90" y="558.60" font-size="4.9" fill="#1a1a1a" text-anchor="start" textLength="42" lengthAdjust="spacingAndGlyphs"  stroke="#1a1a1a" stroke-width="0.11">FDR q-value: 0.033</text><text x="45.10" y="582.00" font-size="4.7" fill="#e0302e" text-anchor="start" textLength="10" lengthAdjust="spacingAndGlyphs"  stroke="#e0302e" stroke-width="0.11">LSC+</text><text x="112.30" y="600.90" font-size="4.7" fill="#3a6fd0" text-anchor="start" textLength="9.3" lengthAdjust="spacingAndGlyphs"  stroke="#3a6fd0" stroke-width="0.11">LSC-</text><rect x="42.7" y="520.6" width="88.20" height="82.80" fill="none" stroke="#111" stroke-width="1.1"/><line x1="39.2" y1="560.30" x2="42.7" y2="560.30" stroke="#111" stroke-width="0.8"/><text x="36.80" y="561.70" font-size="3.9" fill="#222" text-anchor="end"  stroke="#222" stroke-width="0.11">0.0</text><line x1="39.2" y1="555.71" x2="42.7" y2="555.71" stroke="#111" stroke-width="0.8"/><text x="36.80" y="557.11" font-size="3.9" fill="#222" text-anchor="end"  stroke="#222" stroke-width="0.11">0.1</text><line x1="39.2" y1="551.12" x2="42.7" y2="551.12" stroke="#111" stroke-width="0.8"/><text x="36.80" y="552.52" font-size="3.9" fill="#222" text-anchor="end"  stroke="#222" stroke-width="0.11">0.2</text><line x1="39.2" y1="546.54" x2="42.7" y2="546.54" stroke="#111" stroke-width="0.8"/><text x="36.80" y="547.94" font-size="3.9" fill="#222" text-anchor="end"  stroke="#222" stroke-width="0.11">0.3</text><line x1="39.2" y1="541.95" x2="42.7" y2="541.95" stroke="#111" stroke-width="0.8"/><text x="36.80" y="543.35" font-size="3.9" fill="#222" text-anchor="end"  stroke="#222" stroke-width="0.11">0.4</text><line x1="39.2" y1="537.36" x2="42.7" y2="537.36" stroke="#111" stroke-width="0.8"/><text x="36.80" y="538.76" font-size="3.9" fill="#222" text-anchor="end"  stroke="#222" stroke-width="0.11">0.5</text><line x1="39.2" y1="532.77" x2="42.7" y2="532.77" stroke="#111" stroke-width="0.8"/><text x="36.80" y="534.17" font-size="3.9" fill="#222" text-anchor="end"  stroke="#222" stroke-width="0.11">0.6</text><line x1="39.2" y1="528.19" x2="42.7" y2="528.19" stroke="#111" stroke-width="0.8"/><text x="36.80" y="529.59" font-size="3.9" fill="#222" text-anchor="end"  stroke="#222" stroke-width="0.11">0.7</text><line x1="39.2" y1="523.60" x2="42.7" y2="523.60" stroke="#111" stroke-width="0.8"/><text x="36.80" y="525.00" font-size="3.9" fill="#222" text-anchor="end"  stroke="#222" stroke-width="0.11">0.8</text><line x1="39.2" y1="583.30" x2="42.7" y2="583.30" stroke="#111" stroke-width="0.8"/><text x="36.80" y="584.70" font-size="3.9" fill="#222" text-anchor="end"  stroke="#222" stroke-width="0.11">0.25</text><line x1="39.2" y1="589.40" x2="42.7" y2="589.40" stroke="#111" stroke-width="0.8"/><text x="36.80" y="590.80" font-size="3.9" fill="#222" text-anchor="end"  stroke="#222" stroke-width="0.11">0.00</text><line x1="39.2" y1="595.90" x2="42.7" y2="595.90" stroke="#111" stroke-width="0.8"/><text x="36.80" y="597.30" font-size="3.9" fill="#222" text-anchor="end"  stroke="#222" stroke-width="0.11">-0.25</text><line x1="39.2" y1="602.30" x2="42.7" y2="602.30" stroke="#111" stroke-width="0.8"/><text x="36.80" y="603.70" font-size="3.9" fill="#222" text-anchor="end"  stroke="#222" stroke-width="0.11">-0.50</text><line x1="42.70" y1="603.4" x2="42.70" y2="605.8" stroke="#111" stroke-width="0.7"/><text x="45.60" y="611.30" font-size="4.4" fill="#222" text-anchor="end" transform="rotate(-45 45.60 611.30)" stroke="#222" stroke-width="0.11">0</text><line x1="51.95" y1="603.4" x2="51.95" y2="605.8" stroke="#111" stroke-width="0.7"/><text x="54.85" y="611.30" font-size="4.4" fill="#222" text-anchor="end" transform="rotate(-45 54.85 611.30)" stroke="#222" stroke-width="0.11">2,500</text><line x1="61.20" y1="603.4" x2="61.20" y2="605.8" stroke="#111" stroke-width="0.7"/><text x="64.10" y="611.30" font-size="4.4" fill="#222" text-anchor="end" transform="rotate(-45 64.10 611.30)" stroke="#222" stroke-width="0.11">5,000</text><line x1="70.45" y1="603.4" x2="70.45" y2="605.8" stroke="#111" stroke-width="0.7"/><text x="73.35" y="611.30" font-size="4.4" fill="#222" text-anchor="end" transform="rotate(-45 73.35 611.30)" stroke="#222" stroke-width="0.11">7,500</text><line x1="79.70" y1="603.4" x2="79.70" y2="605.8" stroke="#111" stroke-width="0.7"/><text x="82.60" y="611.30" font-size="4.4" fill="#222" text-anchor="end" transform="rotate(-45 82.60 611.30)" stroke="#222" stroke-width="0.11">10,000</text><line x1="88.95" y1="603.4" x2="88.95" y2="605.8" stroke="#111" stroke-width="0.7"/><text x="91.85" y="611.30" font-size="4.4" fill="#222" text-anchor="end" transform="rotate(-45 91.85 611.30)" stroke="#222" stroke-width="0.11">12,500</text><line x1="98.20" y1="603.4" x2="98.20" y2="605.8" stroke="#111" stroke-width="0.7"/><text x="101.10" y="611.30" font-size="4.4" fill="#222" text-anchor="end" transform="rotate(-45 101.10 611.30)" stroke="#222" stroke-width="0.11">15,000</text><line x1="107.45" y1="603.4" x2="107.45" y2="605.8" stroke="#111" stroke-width="0.7"/><text x="110.35" y="611.30" font-size="4.4" fill="#222" text-anchor="end" transform="rotate(-45 110.35 611.30)" stroke="#222" stroke-width="0.11">17,500</text><line x1="116.70" y1="603.4" x2="116.70" y2="605.8" stroke="#111" stroke-width="0.7"/><text x="119.60" y="611.30" font-size="4.4" fill="#222" text-anchor="end" transform="rotate(-45 119.60 611.30)" stroke="#222" stroke-width="0.11">20,000</text><line x1="125.95" y1="603.4" x2="125.95" y2="605.8" stroke="#111" stroke-width="0.7"/><text x="128.85" y="611.30" font-size="4.4" fill="#222" text-anchor="end" transform="rotate(-45 128.85 611.30)" stroke="#222" stroke-width="0.11">22,500</text><text x="86.80" y="630.20" font-size="5.4" fill="#111" text-anchor="middle" textLength="45.5" lengthAdjust="spacingAndGlyphs"  stroke="#111" stroke-width="0.11">Rank in ordered dataset</text><text x="26.60" y="540.60" font-size="5.2" fill="#111" text-anchor="middle" textLength="42.5" lengthAdjust="spacingAndGlyphs" transform="rotate(-90 26.60 540.60)" stroke="#111" stroke-width="0.11">Enrichment score (ES)</text><text x="11.80" y="590.20" font-size="5.3" fill="#111" text-anchor="middle" textLength="35" lengthAdjust="spacingAndGlyphs" transform="rotate(-90 11.80 590.20)" stroke="#111" stroke-width="0.11">Ranked list metric</text><text x="22.80" y="590.20" font-size="5.3" fill="#111" text-anchor="middle" textLength="26.5" lengthAdjust="spacingAndGlyphs" transform="rotate(-90 22.80 590.20)" stroke="#111" stroke-width="0.11">(Signal2Noise)</text></g>
<g class="gs"><text x="212.95" y="508.80" font-size="5.8" fill="#1a1a1a" text-anchor="middle" textLength="60" lengthAdjust="spacingAndGlyphs"  stroke="#1a1a1a" stroke-width="0.11">Down-regulated genes</text><text x="212.95" y="515.70" font-size="5.8" fill="#1a1a1a" text-anchor="middle" textLength="34.8" lengthAdjust="spacingAndGlyphs"  stroke="#1a1a1a" stroke-width="0.11">(GSE76009)</text><line x1="169.00" y1="520.6" x2="169.00" y2="560.5" stroke="#ececec" stroke-width="0.4"/><line x1="169.00" y1="576.8" x2="169.00" y2="603.4" stroke="#ececec" stroke-width="0.4"/><line x1="178.25" y1="520.6" x2="178.25" y2="560.5" stroke="#ececec" stroke-width="0.4"/><line x1="178.25" y1="576.8" x2="178.25" y2="603.4" stroke="#ececec" stroke-width="0.4"/><line x1="187.50" y1="520.6" x2="187.50" y2="560.5" stroke="#ececec" stroke-width="0.4"/><line x1="187.50" y1="576.8" x2="187.50" y2="603.4" stroke="#ececec" stroke-width="0.4"/><line x1="196.75" y1="520.6" x2="196.75" y2="560.5" stroke="#ececec" stroke-width="0.4"/><line x1="196.75" y1="576.8" x2="196.75" y2="603.4" stroke="#ececec" stroke-width="0.4"/><line x1="206.00" y1="520.6" x2="206.00" y2="560.5" stroke="#ececec" stroke-width="0.4"/><line x1="206.00" y1="576.8" x2="206.00" y2="603.4" stroke="#ececec" stroke-width="0.4"/><line x1="215.25" y1="520.6" x2="215.25" y2="560.5" stroke="#ececec" stroke-width="0.4"/><line x1="215.25" y1="576.8" x2="215.25" y2="603.4" stroke="#ececec" stroke-width="0.4"/><line x1="224.50" y1="520.6" x2="224.50" y2="560.5" stroke="#ececec" stroke-width="0.4"/><line x1="224.50" y1="576.8" x2="224.50" y2="603.4" stroke="#ececec" stroke-width="0.4"/><line x1="233.75" y1="520.6" x2="233.75" y2="560.5" stroke="#ececec" stroke-width="0.4"/><line x1="233.75" y1="576.8" x2="233.75" y2="603.4" stroke="#ececec" stroke-width="0.4"/><line x1="243.00" y1="520.6" x2="243.00" y2="560.5" stroke="#ececec" stroke-width="0.4"/><line x1="243.00" y1="576.8" x2="243.00" y2="603.4" stroke="#ececec" stroke-width="0.4"/><line x1="252.25" y1="520.6" x2="252.25" y2="560.5" stroke="#ececec" stroke-width="0.4"/><line x1="252.25" y1="576.8" x2="252.25" y2="603.4" stroke="#ececec" stroke-width="0.4"/><line x1="169.0" y1="522.70" x2="256.9" y2="522.70" stroke="#f0f0f0" stroke-width="0.4"/><line x1="169.0" y1="527.04" x2="256.9" y2="527.04" stroke="#f0f0f0" stroke-width="0.4"/><line x1="169.0" y1="531.38" x2="256.9" y2="531.38" stroke="#f0f0f0" stroke-width="0.4"/><line x1="169.0" y1="535.71" x2="256.9" y2="535.71" stroke="#f0f0f0" stroke-width="0.4"/><line x1="169.0" y1="540.05" x2="256.9" y2="540.05" stroke="#f0f0f0" stroke-width="0.4"/><line x1="169.0" y1="544.39" x2="256.9" y2="544.39" stroke="#f0f0f0" stroke-width="0.4"/><line x1="169.0" y1="548.73" x2="256.9" y2="548.73" stroke="#f0f0f0" stroke-width="0.4"/><line x1="169.0" y1="553.06" x2="256.9" y2="553.06" stroke="#f0f0f0" stroke-width="0.4"/><line x1="169.0" y1="557.40" x2="256.9" y2="557.40" stroke="#f0f0f0" stroke-width="0.4"/><line x1="169.0" y1="560.5" x2="256.9" y2="560.5" stroke="#bbb" stroke-width="0.4"/><line x1="169.0" y1="573.5999999999999" x2="256.9" y2="573.5999999999999" stroke="#ddd" stroke-width="0.3"/><line x1="170.30" y1="560.5" x2="170.30" y2="573.3" stroke="#000" stroke-width="0.78" stroke-opacity="0.25"/><line x1="171.05" y1="560.5" x2="171.05" y2="573.3" stroke="#000" stroke-width="0.78" stroke-opacity="0.22"/><line x1="171.80" y1="560.5" x2="171.80" y2="573.3" stroke="#000" stroke-width="0.78" stroke-opacity="0.31"/><line x1="172.55" y1="560.5" x2="172.55" y2="573.3" stroke="#000" stroke-width="0.78" stroke-opacity="0.88"/><line x1="173.30" y1="560.5" x2="173.30" y2="573.3" stroke="#000" stroke-width="0.78" stroke-opacity="0.86"/><line x1="174.05" y1="560.5" x2="174.05" y2="573.3" stroke="#000" stroke-width="0.78" stroke-opacity="0.77"/><line x1="174.80" y1="560.5" x2="174.80" y2="573.3" stroke="#000" stroke-width="0.78" stroke-opacity="0.45"/><line x1="175.55" y1="560.5" x2="175.55" y2="573.3" stroke="#000" stroke-width="0.78" stroke-opacity="0.27"/><line x1="176.30" y1="560.5" x2="176.30" y2="573.3" stroke="#000" stroke-width="0.78" stroke-opacity="0.48"/><line x1="177.05" y1="560.5" x2="177.05" y2="573.3" stroke="#000" stroke-width="0.78" stroke-opacity="0.32"/><line x1="178.55" y1="560.5" x2="178.55" y2="573.3" stroke="#000" stroke-width="0.78" stroke-opacity="0.96"/><line x1="179.30" y1="560.5" x2="179.30" y2="573.3" stroke="#000" stroke-width="0.78" stroke-opacity="0.24"/><line x1="180.05" y1="560.5" x2="180.05" y2="573.3" stroke="#000" stroke-width="0.78" stroke-opacity="0.83"/><line x1="181.55" y1="560.5" x2="181.55" y2="573.3" stroke="#000" stroke-width="0.78" stroke-opacity="0.37"/><line x1="182.30" y1="560.5" x2="182.30" y2="573.3" stroke="#000" stroke-width="0.78" stroke-opacity="0.31"/><line x1="183.05" y1="560.5" x2="183.05" y2="573.3" stroke="#000" stroke-width="0.78" stroke-opacity="0.22"/><line x1="183.80" y1="560.5" x2="183.80" y2="573.3" stroke="#000" stroke-width="0.78" stroke-opacity="0.80"/><line x1="184.55" y1="560.5" x2="184.55" y2="573.3" stroke="#000" stroke-width="0.78" stroke-opacity="0.33"/><line x1="185.30" y1="560.5" x2="185.30" y2="573.3" stroke="#000" stroke-width="0.78" stroke-opacity="0.38"/><line x1="186.05" y1="560.5" x2="186.05" y2="573.3" stroke="#000" stroke-width="0.78" stroke-opacity="0.29"/><line x1="187.55" y1="560.5" x2="187.55" y2="573.3" stroke="#000" stroke-width="0.78" stroke-opacity="0.27"/><line x1="188.30" y1="560.5" x2="188.30" y2="573.3" stroke="#000" stroke-width="0.78" stroke-opacity="0.36"/><line x1="190.55" y1="560.5" x2="190.55" y2="573.3" stroke="#000" stroke-width="0.78" stroke-opacity="0.49"/><line x1="191.30" y1="560.5" x2="191.30" y2="573.3" stroke="#000" stroke-width="0.78" stroke-opacity="0.85"/><line x1="192.80" y1="560.5" x2="192.80" y2="573.3" stroke="#000" stroke-width="0.78" stroke-opacity="0.35"/><line x1="193.55" y1="560.5" x2="193.55" y2="573.3" stroke="#000" stroke-width="0.78" stroke-opacity="0.92"/><line x1="195.05" y1="560.5" x2="195.05" y2="573.3" stroke="#000" stroke-width="0.78" stroke-opacity="0.46"/><line x1="195.80" y1="560.5" x2="195.80" y2="573.3" stroke="#000" stroke-width="0.78" stroke-opacity="0.41"/><line x1="196.55" y1="560.5" x2="196.55" y2="573.3" stroke="#000" stroke-width="0.78" stroke-opacity="0.37"/><line x1="197.30" y1="560.5" x2="197.30" y2="573.3" stroke="#000" stroke-width="0.78" stroke-opacity="0.45"/><line x1="198.80" y1="560.5" x2="198.80" y2="573.3" stroke="#000" stroke-width="0.78" stroke-opacity="0.40"/><line x1="199.55" y1="560.5" x2="199.55" y2="573.3" stroke="#000" stroke-width="0.78" stroke-opacity="0.93"/><line x1="200.30" y1="560.5" x2="200.30" y2="573.3" stroke="#000" stroke-width="0.78" stroke-opacity="0.50"/><line x1="201.80" y1="560.5" x2="201.80" y2="573.3" stroke="#000" stroke-width="0.78" stroke-opacity="0.32"/><line x1="202.55" y1="560.5" x2="202.55" y2="573.3" stroke="#000" stroke-width="0.78" stroke-opacity="0.21"/><line x1="203.30" y1="560.5" x2="203.30" y2="573.3" stroke="#000" stroke-width="0.78" stroke-opacity="0.25"/><line x1="204.05" y1="560.5" x2="204.05" y2="573.3" stroke="#000" stroke-width="0.78" stroke-opacity="0.76"/><line x1="205.55" y1="560.5" x2="205.55" y2="573.3" stroke="#000" stroke-width="0.78" stroke-opacity="0.27"/><line x1="206.30" y1="560.5" x2="206.30" y2="573.3" stroke="#000" stroke-width="0.78" stroke-opacity="0.46"/><line x1="207.05" y1="560.5" x2="207.05" y2="573.3" stroke="#000" stroke-width="0.78" stroke-opacity="0.86"/><line x1="207.80" y1="560.5" x2="207.80" y2="573.3" stroke="#000" stroke-width="0.78" stroke-opacity="0.47"/><line x1="210.05" y1="560.5" x2="210.05" y2="573.3" stroke="#000" stroke-width="0.78" stroke-opacity="0.32"/><line x1="210.80" y1="560.5" x2="210.80" y2="573.3" stroke="#000" stroke-width="0.78" stroke-opacity="0.47"/><line x1="212.30" y1="560.5" x2="212.30" y2="573.3" stroke="#000" stroke-width="0.78" stroke-opacity="0.25"/><line x1="213.05" y1="560.5" x2="213.05" y2="573.3" stroke="#000" stroke-width="0.78" stroke-opacity="0.27"/><line x1="213.80" y1="560.5" x2="213.80" y2="573.3" stroke="#000" stroke-width="0.78" stroke-opacity="0.38"/><line x1="214.55" y1="560.5" x2="214.55" y2="573.3" stroke="#000" stroke-width="0.78" stroke-opacity="0.20"/><line x1="215.30" y1="560.5" x2="215.30" y2="573.3" stroke="#000" stroke-width="0.78" stroke-opacity="0.31"/><line x1="216.05" y1="560.5" x2="216.05" y2="573.3" stroke="#000" stroke-width="0.78" stroke-opacity="0.49"/><line x1="216.80" y1="560.5" x2="216.80" y2="573.3" stroke="#000" stroke-width="0.78" stroke-opacity="0.35"/><line x1="217.55" y1="560.5" x2="217.55" y2="573.3" stroke="#000" stroke-width="0.78" stroke-opacity="0.40"/><line x1="218.30" y1="560.5" x2="218.30" y2="573.3" stroke="#000" stroke-width="0.78" stroke-opacity="0.97"/><line x1="221.30" y1="560.5" x2="221.30" y2="573.3" stroke="#000" stroke-width="0.78" stroke-opacity="0.32"/><line x1="222.05" y1="560.5" x2="222.05" y2="573.3" stroke="#000" stroke-width="0.78" stroke-opacity="0.91"/><line x1="222.80" y1="560.5" x2="222.80" y2="573.3" stroke="#000" stroke-width="0.78" stroke-opacity="0.77"/><line x1="223.55" y1="560.5" x2="223.55" y2="573.3" stroke="#000" stroke-width="0.78" stroke-opacity="0.25"/><line x1="224.30" y1="560.5" x2="224.30" y2="573.3" stroke="#000" stroke-width="0.78" stroke-opacity="0.22"/><line x1="225.05" y1="560.5" x2="225.05" y2="573.3" stroke="#000" stroke-width="0.78" stroke-opacity="0.79"/><line x1="225.80" y1="560.5" x2="225.80" y2="573.3" stroke="#000" stroke-width="0.78" stroke-opacity="0.84"/><line x1="226.55" y1="560.5" x2="226.55" y2="573.3" stroke="#000" stroke-width="0.78" stroke-opacity="0.97"/><line x1="227.30" y1="560.5" x2="227.30" y2="573.3" stroke="#000" stroke-width="0.78" stroke-opacity="0.24"/><line x1="228.05" y1="560.5" x2="228.05" y2="573.3" stroke="#000" stroke-width="0.78" stroke-opacity="0.30"/><line x1="228.80" y1="560.5" x2="228.80" y2="573.3" stroke="#000" stroke-width="0.78" stroke-opacity="0.24"/><line x1="231.05" y1="560.5" x2="231.05" y2="573.3" stroke="#000" stroke-width="0.78" stroke-opacity="0.35"/><line x1="231.80" y1="560.5" x2="231.80" y2="573.3" stroke="#000" stroke-width="0.78" stroke-opacity="0.78"/><line x1="232.55" y1="560.5" x2="232.55" y2="573.3" stroke="#000" stroke-width="0.78" stroke-opacity="0.82"/><line x1="233.30" y1="560.5" x2="233.30" y2="573.3" stroke="#000" stroke-width="0.78" stroke-opacity="0.25"/><line x1="234.05" y1="560.5" x2="234.05" y2="573.3" stroke="#000" stroke-width="0.78" stroke-opacity="0.99"/><line x1="234.80" y1="560.5" x2="234.80" y2="573.3" stroke="#000" stroke-width="0.78" stroke-opacity="0.24"/><line x1="235.55" y1="560.5" x2="235.55" y2="573.3" stroke="#000" stroke-width="0.78" stroke-opacity="0.21"/><line x1="236.30" y1="560.5" x2="236.30" y2="573.3" stroke="#000" stroke-width="0.78" stroke-opacity="0.49"/><line x1="237.80" y1="560.5" x2="237.80" y2="573.3" stroke="#000" stroke-width="0.78" stroke-opacity="0.28"/><line x1="238.55" y1="560.5" x2="238.55" y2="573.3" stroke="#000" stroke-width="0.78" stroke-opacity="0.79"/><line x1="239.30" y1="560.5" x2="239.30" y2="573.3" stroke="#000" stroke-width="0.78" stroke-opacity="0.36"/><line x1="240.05" y1="560.5" x2="240.05" y2="573.3" stroke="#000" stroke-width="0.78" stroke-opacity="0.30"/><line x1="240.80" y1="560.5" x2="240.80" y2="573.3" stroke="#000" stroke-width="0.78" stroke-opacity="0.95"/><line x1="242.30" y1="560.5" x2="242.30" y2="573.3" stroke="#000" stroke-width="0.78" stroke-opacity="0.44"/><line x1="243.05" y1="560.5" x2="243.05" y2="573.3" stroke="#000" stroke-width="0.78" stroke-opacity="0.93"/><line x1="243.80" y1="560.5" x2="243.80" y2="573.3" stroke="#000" stroke-width="0.78" stroke-opacity="0.88"/><line x1="244.55" y1="560.5" x2="244.55" y2="573.3" stroke="#000" stroke-width="0.78" stroke-opacity="0.76"/><line x1="245.30" y1="560.5" x2="245.30" y2="573.3" stroke="#000" stroke-width="0.78" stroke-opacity="0.82"/><line x1="246.05" y1="560.5" x2="246.05" y2="573.3" stroke="#000" stroke-width="0.78" stroke-opacity="0.92"/><line x1="247.55" y1="560.5" x2="247.55" y2="573.3" stroke="#000" stroke-width="0.78" stroke-opacity="0.98"/><line x1="249.80" y1="560.5" x2="249.80" y2="573.3" stroke="#000" stroke-width="0.78" stroke-opacity="0.81"/><line x1="250.55" y1="560.5" x2="250.55" y2="573.3" stroke="#000" stroke-width="0.78" stroke-opacity="0.80"/><line x1="251.30" y1="560.5" x2="251.30" y2="573.3" stroke="#000" stroke-width="0.78" stroke-opacity="0.91"/><line x1="252.05" y1="560.5" x2="252.05" y2="573.3" stroke="#000" stroke-width="0.78" stroke-opacity="0.45"/><line x1="252.80" y1="560.5" x2="252.80" y2="573.3" stroke="#000" stroke-width="0.78" stroke-opacity="0.91"/><rect x="169.00" y="573.9" width="21.00" height="2.90" fill="#dc3c4c"/><rect x="190.00" y="573.9" width="12.50" height="2.90" fill="#d85a74"/><rect x="202.50" y="573.9" width="13.50" height="2.90" fill="#e06a6e"/><rect x="216.00" y="573.9" width="12.50" height="2.90" fill="#eaa6dc"/><rect x="228.50" y="573.9" width="10.50" height="2.90" fill="#cfcff4"/><rect x="239.00" y="573.9" width="6.80" height="2.90" fill="#9c9ce8"/><rect x="245.80" y="573.9" width="5.70" height="2.90" fill="#4444d0"/><rect x="251.50" y="573.9" width="1.80" height="2.90" fill="#0a0aa8"/><path d="M169,589.4 L169,586.2 Q171,588 178,588.7 L215,589.3 L240,589.8 Q249,590.5 251.5,592.5 L253.3,600 L253.3,589.4 Z" fill="#c9c9c9" stroke="#a9a9a9" stroke-width="0.35"/><line x1="169.0" y1="589.4" x2="253.3" y2="589.4" stroke="#9a9a9a" stroke-width="0.5"/><text x="227.60" y="590.30" font-size="2.0" fill="#333" text-anchor="middle"  stroke="#333" stroke-width="0.11">Zero cross at 7460</text><polyline points="169.20,522.70 184.20,530.40 203.50,540.00 222.70,549.60 234.00,554.80 238.00,556.30 241.00,557.60 243.80,558.30 246.00,558.20 247.70,557.30 249.40,554.50 250.60,549.60 251.90,538.00 252.50,530.00 252.90,522.70" fill="none" stroke="#84e639" stroke-width="1.0" stroke-linejoin="round"/><text x="170.20" y="545.60" font-size="4.9" fill="#1a1a1a" text-anchor="start" textLength="26" lengthAdjust="spacingAndGlyphs"  stroke="#1a1a1a" stroke-width="0.11">NES: -1.83</text><text x="170.20" y="552.10" font-size="4.9" fill="#1a1a1a" text-anchor="start" textLength="53" lengthAdjust="spacingAndGlyphs"  stroke="#1a1a1a" stroke-width="0.11">Nominal p-value: &lt;0.001</text><text x="170.20" y="558.60" font-size="4.9" fill="#1a1a1a" text-anchor="start" textLength="45" lengthAdjust="spacingAndGlyphs"  stroke="#1a1a1a" stroke-width="0.11">FDR q-value: &lt;0.001</text><text x="171.40" y="582.00" font-size="4.7" fill="#e0302e" text-anchor="start" textLength="10" lengthAdjust="spacingAndGlyphs"  stroke="#e0302e" stroke-width="0.11">LSC+</text><text x="239.60" y="600.90" font-size="4.7" fill="#3a6fd0" text-anchor="start" textLength="9.3" lengthAdjust="spacingAndGlyphs"  stroke="#3a6fd0" stroke-width="0.11">LSC-</text><rect x="169.0" y="520.6" width="87.90" height="82.80" fill="none" stroke="#111" stroke-width="1.1"/><line x1="165.5" y1="522.70" x2="169.0" y2="522.70" stroke="#111" stroke-width="0.8"/><text x="163.10" y="524.10" font-size="3.9" fill="#222" text-anchor="end"  stroke="#222" stroke-width="0.11">0.0</text><line x1="165.5" y1="527.04" x2="169.0" y2="527.04" stroke="#111" stroke-width="0.8"/><text x="163.10" y="528.44" font-size="3.9" fill="#222" text-anchor="end"  stroke="#222" stroke-width="0.11">-0.1</text><line x1="165.5" y1="531.38" x2="169.0" y2="531.38" stroke="#111" stroke-width="0.8"/><text x="163.10" y="532.77" font-size="3.9" fill="#222" text-anchor="end"  stroke="#222" stroke-width="0.11">-0.2</text><line x1="165.5" y1="535.71" x2="169.0" y2="535.71" stroke="#111" stroke-width="0.8"/><text x="163.10" y="537.11" font-size="3.9" fill="#222" text-anchor="end"  stroke="#222" stroke-width="0.11">-0.3</text><line x1="165.5" y1="540.05" x2="169.0" y2="540.05" stroke="#111" stroke-width="0.8"/><text x="163.10" y="541.45" font-size="3.9" fill="#222" text-anchor="end"  stroke="#222" stroke-width="0.11">-0.4</text><line x1="165.5" y1="544.39" x2="169.0" y2="544.39" stroke="#111" stroke-width="0.8"/><text x="163.10" y="545.79" font-size="3.9" fill="#222" text-anchor="end"  stroke="#222" stroke-width="0.11">-0.5</text><line x1="165.5" y1="548.73" x2="169.0" y2="548.73" stroke="#111" stroke-width="0.8"/><text x="163.10" y="550.12" font-size="3.9" fill="#222" text-anchor="end"  stroke="#222" stroke-width="0.11">-0.6</text><line x1="165.5" y1="553.06" x2="169.0" y2="553.06" stroke="#111" stroke-width="0.8"/><text x="163.10" y="554.46" font-size="3.9" fill="#222" text-anchor="end"  stroke="#222" stroke-width="0.11">-0.7</text><line x1="165.5" y1="557.40" x2="169.0" y2="557.40" stroke="#111" stroke-width="0.8"/><text x="163.10" y="558.80" font-size="3.9" fill="#222" text-anchor="end"  stroke="#222" stroke-width="0.11">-0.8</text><line x1="165.5" y1="583.30" x2="169.0" y2="583.30" stroke="#111" stroke-width="0.8"/><text x="163.10" y="584.70" font-size="3.9" fill="#222" text-anchor="end"  stroke="#222" stroke-width="0.11">0.25</text><line x1="165.5" y1="589.40" x2="169.0" y2="589.40" stroke="#111" stroke-width="0.8"/><text x="163.10" y="590.80" font-size="3.9" fill="#222" text-anchor="end"  stroke="#222" stroke-width="0.11">0.00</text><line x1="165.5" y1="595.90" x2="169.0" y2="595.90" stroke="#111" stroke-width="0.8"/><text x="163.10" y="597.30" font-size="3.9" fill="#222" text-anchor="end"  stroke="#222" stroke-width="0.11">-0.25</text><line x1="165.5" y1="602.30" x2="169.0" y2="602.30" stroke="#111" stroke-width="0.8"/><text x="163.10" y="603.70" font-size="3.9" fill="#222" text-anchor="end"  stroke="#222" stroke-width="0.11">-0.50</text><line x1="169.00" y1="603.4" x2="169.00" y2="605.8" stroke="#111" stroke-width="0.7"/><text x="171.90" y="611.30" font-size="4.4" fill="#222" text-anchor="end" transform="rotate(-45 171.90 611.30)" stroke="#222" stroke-width="0.11">0</text><line x1="178.25" y1="603.4" x2="178.25" y2="605.8" stroke="#111" stroke-width="0.7"/><text x="181.15" y="611.30" font-size="4.4" fill="#222" text-anchor="end" transform="rotate(-45 181.15 611.30)" stroke="#222" stroke-width="0.11">2,500</text><line x1="187.50" y1="603.4" x2="187.50" y2="605.8" stroke="#111" stroke-width="0.7"/><text x="190.40" y="611.30" font-size="4.4" fill="#222" text-anchor="end" transform="rotate(-45 190.40 611.30)" stroke="#222" stroke-width="0.11">5,000</text><line x1="196.75" y1="603.4" x2="196.75" y2="605.8" stroke="#111" stroke-width="0.7"/><text x="199.65" y="611.30" font-size="4.4" fill="#222" text-anchor="end" transform="rotate(-45 199.65 611.30)" stroke="#222" stroke-width="0.11">7,500</text><line x1="206.00" y1="603.4" x2="206.00" y2="605.8" stroke="#111" stroke-width="0.7"/><text x="208.90" y="611.30" font-size="4.4" fill="#222" text-anchor="end" transform="rotate(-45 208.90 611.30)" stroke="#222" stroke-width="0.11">10,000</text><line x1="215.25" y1="603.4" x2="215.25" y2="605.8" stroke="#111" stroke-width="0.7"/><text x="218.15" y="611.30" font-size="4.4" fill="#222" text-anchor="end" transform="rotate(-45 218.15 611.30)" stroke="#222" stroke-width="0.11">12,500</text><line x1="224.50" y1="603.4" x2="224.50" y2="605.8" stroke="#111" stroke-width="0.7"/><text x="227.40" y="611.30" font-size="4.4" fill="#222" text-anchor="end" transform="rotate(-45 227.40 611.30)" stroke="#222" stroke-width="0.11">15,000</text><line x1="233.75" y1="603.4" x2="233.75" y2="605.8" stroke="#111" stroke-width="0.7"/><text x="236.65" y="611.30" font-size="4.4" fill="#222" text-anchor="end" transform="rotate(-45 236.65 611.30)" stroke="#222" stroke-width="0.11">17,500</text><line x1="243.00" y1="603.4" x2="243.00" y2="605.8" stroke="#111" stroke-width="0.7"/><text x="245.90" y="611.30" font-size="4.4" fill="#222" text-anchor="end" transform="rotate(-45 245.90 611.30)" stroke="#222" stroke-width="0.11">20,000</text><line x1="252.25" y1="603.4" x2="252.25" y2="605.8" stroke="#111" stroke-width="0.7"/><text x="255.15" y="611.30" font-size="4.4" fill="#222" text-anchor="end" transform="rotate(-45 255.15 611.30)" stroke="#222" stroke-width="0.11">22,500</text><text x="212.95" y="630.20" font-size="5.4" fill="#111" text-anchor="middle" textLength="45.5" lengthAdjust="spacingAndGlyphs"  stroke="#111" stroke-width="0.11">Rank in ordered dataset</text><text x="151.60" y="540.60" font-size="5.2" fill="#111" text-anchor="middle" textLength="42.5" lengthAdjust="spacingAndGlyphs" transform="rotate(-90 151.60 540.60)" stroke="#111" stroke-width="0.11">Enrichment score (ES)</text><text x="138.10" y="590.20" font-size="5.3" fill="#111" text-anchor="middle" textLength="35" lengthAdjust="spacingAndGlyphs" transform="rotate(-90 138.10 590.20)" stroke="#111" stroke-width="0.11">Ranked list metric</text><text x="149.10" y="590.20" font-size="5.3" fill="#111" text-anchor="middle" textLength="26.5" lengthAdjust="spacingAndGlyphs" transform="rotate(-90 149.10 590.20)" stroke="#111" stroke-width="0.11">(Signal2Noise)</text></g>
<g class="gs"><text x="342.55" y="508.80" font-size="5.8" fill="#1a1a1a" text-anchor="middle" textLength="52.8" lengthAdjust="spacingAndGlyphs"  stroke="#1a1a1a" stroke-width="0.11">Up-regulated genes</text><text x="342.55" y="515.70" font-size="5.8" fill="#1a1a1a" text-anchor="middle" textLength="34.8" lengthAdjust="spacingAndGlyphs"  stroke="#1a1a1a" stroke-width="0.11">(GSE66525)</text><line x1="298.60" y1="520.6" x2="298.60" y2="560.5" stroke="#ececec" stroke-width="0.4"/><line x1="298.60" y1="576.8" x2="298.60" y2="603.4" stroke="#ececec" stroke-width="0.4"/><line x1="308.95" y1="520.6" x2="308.95" y2="560.5" stroke="#ececec" stroke-width="0.4"/><line x1="308.95" y1="576.8" x2="308.95" y2="603.4" stroke="#ececec" stroke-width="0.4"/><line x1="319.30" y1="520.6" x2="319.30" y2="560.5" stroke="#ececec" stroke-width="0.4"/><line x1="319.30" y1="576.8" x2="319.30" y2="603.4" stroke="#ececec" stroke-width="0.4"/><line x1="329.65" y1="520.6" x2="329.65" y2="560.5" stroke="#ececec" stroke-width="0.4"/><line x1="329.65" y1="576.8" x2="329.65" y2="603.4" stroke="#ececec" stroke-width="0.4"/><line x1="340.00" y1="520.6" x2="340.00" y2="560.5" stroke="#ececec" stroke-width="0.4"/><line x1="340.00" y1="576.8" x2="340.00" y2="603.4" stroke="#ececec" stroke-width="0.4"/><line x1="350.35" y1="520.6" x2="350.35" y2="560.5" stroke="#ececec" stroke-width="0.4"/><line x1="350.35" y1="576.8" x2="350.35" y2="603.4" stroke="#ececec" stroke-width="0.4"/><line x1="360.70" y1="520.6" x2="360.70" y2="560.5" stroke="#ececec" stroke-width="0.4"/><line x1="360.70" y1="576.8" x2="360.70" y2="603.4" stroke="#ececec" stroke-width="0.4"/><line x1="371.05" y1="520.6" x2="371.05" y2="560.5" stroke="#ececec" stroke-width="0.4"/><line x1="371.05" y1="576.8" x2="371.05" y2="603.4" stroke="#ececec" stroke-width="0.4"/><line x1="381.40" y1="520.6" x2="381.40" y2="560.5" stroke="#ececec" stroke-width="0.4"/><line x1="381.40" y1="576.8" x2="381.40" y2="603.4" stroke="#ececec" stroke-width="0.4"/><line x1="298.6" y1="524.20" x2="386.5" y2="524.20" stroke="#f0f0f0" stroke-width="0.4"/><line x1="298.6" y1="528.69" x2="386.5" y2="528.69" stroke="#f0f0f0" stroke-width="0.4"/><line x1="298.6" y1="533.17" x2="386.5" y2="533.17" stroke="#f0f0f0" stroke-width="0.4"/><line x1="298.6" y1="537.66" x2="386.5" y2="537.66" stroke="#f0f0f0" stroke-width="0.4"/><line x1="298.6" y1="542.14" x2="386.5" y2="542.14" stroke="#f0f0f0" stroke-width="0.4"/><line x1="298.6" y1="546.63" x2="386.5" y2="546.63" stroke="#f0f0f0" stroke-width="0.4"/><line x1="298.6" y1="551.11" x2="386.5" y2="551.11" stroke="#f0f0f0" stroke-width="0.4"/><line x1="298.6" y1="555.60" x2="386.5" y2="555.60" stroke="#f0f0f0" stroke-width="0.4"/><line x1="298.6" y1="560.09" x2="386.5" y2="560.09" stroke="#f0f0f0" stroke-width="0.4"/><line x1="298.6" y1="555.6" x2="386.5" y2="555.6" stroke="#999" stroke-width="0.4"/><line x1="298.6" y1="560.5" x2="386.5" y2="560.5" stroke="#bbb" stroke-width="0.4"/><line x1="298.6" y1="573.5999999999999" x2="386.5" y2="573.5999999999999" stroke="#ddd" stroke-width="0.3"/><line x1="300.80" y1="560.5" x2="300.80" y2="573.3" stroke="#000" stroke-width="0.35" stroke-opacity="0.85"/><line x1="301.70" y1="560.5" x2="301.70" y2="573.3" stroke="#000" stroke-width="0.35" stroke-opacity="0.85"/><line x1="302.70" y1="560.5" x2="302.70" y2="573.3" stroke="#000" stroke-width="0.35" stroke-opacity="0.85"/><line x1="303.70" y1="560.5" x2="303.70" y2="573.3" stroke="#000" stroke-width="0.35" stroke-opacity="0.85"/><line x1="304.60" y1="560.5" x2="304.60" y2="573.3" stroke="#000" stroke-width="0.35" stroke-opacity="0.85"/><line x1="305.60" y1="560.5" x2="305.60" y2="573.3" stroke="#000" stroke-width="0.35" stroke-opacity="0.85"/><line x1="306.90" y1="560.5" x2="306.90" y2="573.3" stroke="#000" stroke-width="0.35" stroke-opacity="0.85"/><line x1="308.80" y1="560.5" x2="308.80" y2="573.3" stroke="#000" stroke-width="0.35" stroke-opacity="0.85"/><line x1="310.00" y1="560.5" x2="310.00" y2="573.3" stroke="#000" stroke-width="0.35" stroke-opacity="0.85"/><line x1="326.30" y1="560.5" x2="326.30" y2="573.3" stroke="#000" stroke-width="0.35" stroke-opacity="0.85"/><line x1="380.60" y1="560.5" x2="380.60" y2="573.3" stroke="#000" stroke-width="0.35" stroke-opacity="0.85"/><rect x="298.60" y="573.9" width="11.80" height="2.90" fill="#dc3c4c"/><rect x="310.40" y="573.9" width="8.60" height="2.90" fill="#d85a74"/><rect x="319.00" y="573.9" width="10.60" height="2.90" fill="#e06a6e"/><rect x="329.60" y="573.9" width="11.20" height="2.90" fill="#eaa6dc"/><rect x="340.80" y="573.9" width="10.00" height="2.90" fill="#d6d6f8"/><rect x="350.80" y="573.9" width="9.60" height="2.90" fill="#c0c0f2"/><rect x="360.40" y="573.9" width="7.60" height="2.90" fill="#6464e2"/><rect x="368.00" y="573.9" width="9.70" height="2.90" fill="#3434d2"/><rect x="377.70" y="573.9" width="4.50" height="2.90" fill="#0606b0"/><path d="M298.6,590 L298.6,584.8 Q302,587.4 312,588.6 L350,589.8 L372,590.4 Q379,591.2 381,593 L382.2,600.6 L382.2,590 Z" fill="#c9c9c9" stroke="#a9a9a9" stroke-width="0.35"/><line x1="298.6" y1="590.0" x2="382.2" y2="590.0" stroke="#9a9a9a" stroke-width="0.5"/><text x="339.30" y="590.90" font-size="2.0" fill="#333" text-anchor="middle"  stroke="#333" stroke-width="0.11">Zero cross at 7460</text><polyline points="298.60,538.00 300.80,533.30 303.70,529.40 305.60,527.00 306.50,527.50 308.00,525.60 308.80,523.70 310.80,522.70 312.30,523.00 379.60,558.30 381.20,555.40 382.50,555.40" fill="none" stroke="#84e639" stroke-width="1.0" stroke-linejoin="round"/><text x="299.80" y="541.40" font-size="4.9" fill="#1a1a1a" text-anchor="start" textLength="24.5" lengthAdjust="spacingAndGlyphs"  stroke="#1a1a1a" stroke-width="0.11">NES: 1.39</text><text x="299.80" y="548.00" font-size="4.9" fill="#1a1a1a" text-anchor="start" textLength="51.5" lengthAdjust="spacingAndGlyphs"  stroke="#1a1a1a" stroke-width="0.11">Nominal p-value: 0.092</text><text x="299.80" y="554.30" font-size="4.9" fill="#1a1a1a" text-anchor="start" textLength="42.5" lengthAdjust="spacingAndGlyphs"  stroke="#1a1a1a" stroke-width="0.11">FDR q-value: 0.092</text><text x="301.00" y="582.00" font-size="4.7" fill="#e0302e" text-anchor="start" textLength="17" lengthAdjust="spacingAndGlyphs"  stroke="#e0302e" stroke-width="0.11">Relapse</text><text x="356.50" y="600.90" font-size="4.7" fill="#3a6fd0" text-anchor="start" textLength="21.2" lengthAdjust="spacingAndGlyphs"  stroke="#3a6fd0" stroke-width="0.11">Diagnosis</text><rect x="298.6" y="520.6" width="87.90" height="82.80" fill="none" stroke="#111" stroke-width="1.1"/><line x1="295.1" y1="524.20" x2="298.6" y2="524.20" stroke="#111" stroke-width="0.8"/><text x="292.70" y="525.60" font-size="3.9" fill="#222" text-anchor="end"  stroke="#222" stroke-width="0.11">0.7</text><line x1="295.1" y1="528.69" x2="298.6" y2="528.69" stroke="#111" stroke-width="0.8"/><text x="292.70" y="530.09" font-size="3.9" fill="#222" text-anchor="end"  stroke="#222" stroke-width="0.11">0.6</text><line x1="295.1" y1="533.17" x2="298.6" y2="533.17" stroke="#111" stroke-width="0.8"/><text x="292.70" y="534.57" font-size="3.9" fill="#222" text-anchor="end"  stroke="#222" stroke-width="0.11">0.5</text><line x1="295.1" y1="537.66" x2="298.6" y2="537.66" stroke="#111" stroke-width="0.8"/><text x="292.70" y="539.06" font-size="3.9" fill="#222" text-anchor="end"  stroke="#222" stroke-width="0.11">0.4</text><line x1="295.1" y1="542.14" x2="298.6" y2="542.14" stroke="#111" stroke-width="0.8"/><text x="292.70" y="543.54" font-size="3.9" fill="#222" text-anchor="end"  stroke="#222" stroke-width="0.11">0.3</text><line x1="295.1" y1="546.63" x2="298.6" y2="546.63" stroke="#111" stroke-width="0.8"/><text x="292.70" y="548.03" font-size="3.9" fill="#222" text-anchor="end"  stroke="#222" stroke-width="0.11">0.2</text><line x1="295.1" y1="551.11" x2="298.6" y2="551.11" stroke="#111" stroke-width="0.8"/><text x="292.70" y="552.51" font-size="3.9" fill="#222" text-anchor="end"  stroke="#222" stroke-width="0.11">0.1</text><line x1="295.1" y1="555.60" x2="298.6" y2="555.60" stroke="#111" stroke-width="0.8"/><text x="292.70" y="557.00" font-size="3.9" fill="#222" text-anchor="end"  stroke="#222" stroke-width="0.11">0.0</text><line x1="295.1" y1="560.09" x2="298.6" y2="560.09" stroke="#111" stroke-width="0.8"/><text x="292.70" y="561.49" font-size="3.9" fill="#222" text-anchor="end"  stroke="#222" stroke-width="0.11">-0.1</text><line x1="295.1" y1="580.40" x2="298.6" y2="580.40" stroke="#111" stroke-width="0.8"/><text x="292.70" y="581.80" font-size="3.4" fill="#222" text-anchor="end"  stroke="#222" stroke-width="0.11">0.75</text><line x1="295.1" y1="583.75" x2="298.6" y2="583.75" stroke="#111" stroke-width="0.8"/><text x="292.70" y="585.15" font-size="3.4" fill="#222" text-anchor="end"  stroke="#222" stroke-width="0.11">0.50</text><line x1="295.1" y1="587.10" x2="298.6" y2="587.10" stroke="#111" stroke-width="0.8"/><text x="292.70" y="588.50" font-size="3.4" fill="#222" text-anchor="end"  stroke="#222" stroke-width="0.11">0.25</text><line x1="295.1" y1="590.45" x2="298.6" y2="590.45" stroke="#111" stroke-width="0.8"/><text x="292.70" y="591.85" font-size="3.4" fill="#222" text-anchor="end"  stroke="#222" stroke-width="0.11">0.00</text><line x1="295.1" y1="593.80" x2="298.6" y2="593.80" stroke="#111" stroke-width="0.8"/><text x="292.70" y="595.20" font-size="3.4" fill="#222" text-anchor="end"  stroke="#222" stroke-width="0.11">-0.25</text><line x1="295.1" y1="597.15" x2="298.6" y2="597.15" stroke="#111" stroke-width="0.8"/><text x="292.70" y="598.55" font-size="3.4" fill="#222" text-anchor="end"  stroke="#222" stroke-width="0.11">-0.50</text><line x1="295.1" y1="600.50" x2="298.6" y2="600.50" stroke="#111" stroke-width="0.8"/><text x="292.70" y="601.90" font-size="3.4" fill="#222" text-anchor="end"  stroke="#222" stroke-width="0.11">-0.75</text><line x1="298.60" y1="603.4" x2="298.60" y2="605.8" stroke="#111" stroke-width="0.7"/><text x="301.50" y="611.30" font-size="4.4" fill="#222" text-anchor="end" transform="rotate(-45 301.50 611.30)" stroke="#222" stroke-width="0.11">0</text><line x1="308.95" y1="603.4" x2="308.95" y2="605.8" stroke="#111" stroke-width="0.7"/><text x="311.85" y="611.30" font-size="4.4" fill="#222" text-anchor="end" transform="rotate(-45 311.85 611.30)" stroke="#222" stroke-width="0.11">2,500</text><line x1="319.30" y1="603.4" x2="319.30" y2="605.8" stroke="#111" stroke-width="0.7"/><text x="322.20" y="611.30" font-size="4.4" fill="#222" text-anchor="end" transform="rotate(-45 322.20 611.30)" stroke="#222" stroke-width="0.11">5,000</text><line x1="329.65" y1="603.4" x2="329.65" y2="605.8" stroke="#111" stroke-width="0.7"/><text x="332.55" y="611.30" font-size="4.4" fill="#222" text-anchor="end" transform="rotate(-45 332.55 611.30)" stroke="#222" stroke-width="0.11">7,500</text><line x1="340.00" y1="603.4" x2="340.00" y2="605.8" stroke="#111" stroke-width="0.7"/><text x="342.90" y="611.30" font-size="4.4" fill="#222" text-anchor="end" transform="rotate(-45 342.90 611.30)" stroke="#222" stroke-width="0.11">10,000</text><line x1="350.35" y1="603.4" x2="350.35" y2="605.8" stroke="#111" stroke-width="0.7"/><text x="353.25" y="611.30" font-size="4.4" fill="#222" text-anchor="end" transform="rotate(-45 353.25 611.30)" stroke="#222" stroke-width="0.11">12,500</text><line x1="360.70" y1="603.4" x2="360.70" y2="605.8" stroke="#111" stroke-width="0.7"/><text x="363.60" y="611.30" font-size="4.4" fill="#222" text-anchor="end" transform="rotate(-45 363.60 611.30)" stroke="#222" stroke-width="0.11">15,000</text><line x1="371.05" y1="603.4" x2="371.05" y2="605.8" stroke="#111" stroke-width="0.7"/><text x="373.95" y="611.30" font-size="4.4" fill="#222" text-anchor="end" transform="rotate(-45 373.95 611.30)" stroke="#222" stroke-width="0.11">17,500</text><line x1="381.40" y1="603.4" x2="381.40" y2="605.8" stroke="#111" stroke-width="0.7"/><text x="384.30" y="611.30" font-size="4.4" fill="#222" text-anchor="end" transform="rotate(-45 384.30 611.30)" stroke="#222" stroke-width="0.11">20,000</text><text x="342.55" y="630.20" font-size="5.4" fill="#111" text-anchor="middle" textLength="45.5" lengthAdjust="spacingAndGlyphs"  stroke="#111" stroke-width="0.11">Rank in ordered dataset</text><text x="282.30" y="540.60" font-size="5.2" fill="#111" text-anchor="middle" textLength="42.5" lengthAdjust="spacingAndGlyphs" transform="rotate(-90 282.30 540.60)" stroke="#111" stroke-width="0.11">Enrichment score (ES)</text><text x="267.70" y="590.20" font-size="5.3" fill="#111" text-anchor="middle" textLength="35" lengthAdjust="spacingAndGlyphs" transform="rotate(-90 267.70 590.20)" stroke="#111" stroke-width="0.11">Ranked list metric</text><text x="278.70" y="590.20" font-size="5.3" fill="#111" text-anchor="middle" textLength="26.5" lengthAdjust="spacingAndGlyphs" transform="rotate(-90 278.70 590.20)" stroke="#111" stroke-width="0.11">(Signal2Noise)</text></g>
<g class="gs"><text x="469.20" y="508.80" font-size="5.8" fill="#1a1a1a" text-anchor="middle" textLength="60" lengthAdjust="spacingAndGlyphs"  stroke="#1a1a1a" stroke-width="0.11">Down-regulated genes</text><text x="469.20" y="515.70" font-size="5.8" fill="#1a1a1a" text-anchor="middle" textLength="34.8" lengthAdjust="spacingAndGlyphs"  stroke="#1a1a1a" stroke-width="0.11">(GSE66525)</text><line x1="425.60" y1="520.6" x2="425.60" y2="560.5" stroke="#ececec" stroke-width="0.4"/><line x1="425.60" y1="576.8" x2="425.60" y2="603.4" stroke="#ececec" stroke-width="0.4"/><line x1="435.95" y1="520.6" x2="435.95" y2="560.5" stroke="#ececec" stroke-width="0.4"/><line x1="435.95" y1="576.8" x2="435.95" y2="603.4" stroke="#ececec" stroke-width="0.4"/><line x1="446.30" y1="520.6" x2="446.30" y2="560.5" stroke="#ececec" stroke-width="0.4"/><line x1="446.30" y1="576.8" x2="446.30" y2="603.4" stroke="#ececec" stroke-width="0.4"/><line x1="456.65" y1="520.6" x2="456.65" y2="560.5" stroke="#ececec" stroke-width="0.4"/><line x1="456.65" y1="576.8" x2="456.65" y2="603.4" stroke="#ececec" stroke-width="0.4"/><line x1="467.00" y1="520.6" x2="467.00" y2="560.5" stroke="#ececec" stroke-width="0.4"/><line x1="467.00" y1="576.8" x2="467.00" y2="603.4" stroke="#ececec" stroke-width="0.4"/><line x1="477.35" y1="520.6" x2="477.35" y2="560.5" stroke="#ececec" stroke-width="0.4"/><line x1="477.35" y1="576.8" x2="477.35" y2="603.4" stroke="#ececec" stroke-width="0.4"/><line x1="487.70" y1="520.6" x2="487.70" y2="560.5" stroke="#ececec" stroke-width="0.4"/><line x1="487.70" y1="576.8" x2="487.70" y2="603.4" stroke="#ececec" stroke-width="0.4"/><line x1="498.05" y1="520.6" x2="498.05" y2="560.5" stroke="#ececec" stroke-width="0.4"/><line x1="498.05" y1="576.8" x2="498.05" y2="603.4" stroke="#ececec" stroke-width="0.4"/><line x1="508.40" y1="520.6" x2="508.40" y2="560.5" stroke="#ececec" stroke-width="0.4"/><line x1="508.40" y1="576.8" x2="508.40" y2="603.4" stroke="#ececec" stroke-width="0.4"/><line x1="425.6" y1="524.60" x2="512.8" y2="524.60" stroke="#f0f0f0" stroke-width="0.4"/><line x1="425.6" y1="529.59" x2="512.8" y2="529.59" stroke="#f0f0f0" stroke-width="0.4"/><line x1="425.6" y1="534.57" x2="512.8" y2="534.57" stroke="#f0f0f0" stroke-width="0.4"/><line x1="425.6" y1="539.56" x2="512.8" y2="539.56" stroke="#f0f0f0" stroke-width="0.4"/><line x1="425.6" y1="544.54" x2="512.8" y2="544.54" stroke="#f0f0f0" stroke-width="0.4"/><line x1="425.6" y1="549.53" x2="512.8" y2="549.53" stroke="#f0f0f0" stroke-width="0.4"/><line x1="425.6" y1="554.51" x2="512.8" y2="554.51" stroke="#f0f0f0" stroke-width="0.4"/><line x1="425.6" y1="559.50" x2="512.8" y2="559.50" stroke="#f0f0f0" stroke-width="0.4"/><line x1="425.6" y1="560.5" x2="512.8" y2="560.5" stroke="#bbb" stroke-width="0.4"/><line x1="425.6" y1="573.5999999999999" x2="512.8" y2="573.5999999999999" stroke="#ddd" stroke-width="0.3"/><line x1="426.90" y1="560.5" x2="426.90" y2="573.3" stroke="#000" stroke-width="0.78" stroke-opacity="0.37"/><line x1="428.40" y1="560.5" x2="428.40" y2="573.3" stroke="#000" stroke-width="0.78" stroke-opacity="0.35"/><line x1="429.15" y1="560.5" x2="429.15" y2="573.3" stroke="#000" stroke-width="0.78" stroke-opacity="0.26"/><line x1="429.90" y1="560.5" x2="429.90" y2="573.3" stroke="#000" stroke-width="0.78" stroke-opacity="0.39"/><line x1="431.40" y1="560.5" x2="431.40" y2="573.3" stroke="#000" stroke-width="0.78" stroke-opacity="0.83"/><line x1="432.15" y1="560.5" x2="432.15" y2="573.3" stroke="#000" stroke-width="0.78" stroke-opacity="0.95"/><line x1="432.90" y1="560.5" x2="432.90" y2="573.3" stroke="#000" stroke-width="0.78" stroke-opacity="0.21"/><line x1="435.15" y1="560.5" x2="435.15" y2="573.3" stroke="#000" stroke-width="0.78" stroke-opacity="0.38"/><line x1="435.90" y1="560.5" x2="435.90" y2="573.3" stroke="#000" stroke-width="0.78" stroke-opacity="0.75"/><line x1="436.65" y1="560.5" x2="436.65" y2="573.3" stroke="#000" stroke-width="0.78" stroke-opacity="0.22"/><line x1="437.40" y1="560.5" x2="437.40" y2="573.3" stroke="#000" stroke-width="0.78" stroke-opacity="0.81"/><line x1="438.15" y1="560.5" x2="438.15" y2="573.3" stroke="#000" stroke-width="0.78" stroke-opacity="0.87"/><line x1="438.90" y1="560.5" x2="438.90" y2="573.3" stroke="#000" stroke-width="0.78" stroke-opacity="0.45"/><line x1="439.65" y1="560.5" x2="439.65" y2="573.3" stroke="#000" stroke-width="0.78" stroke-opacity="0.39"/><line x1="440.40" y1="560.5" x2="440.40" y2="573.3" stroke="#000" stroke-width="0.78" stroke-opacity="0.40"/><line x1="441.15" y1="560.5" x2="441.15" y2="573.3" stroke="#000" stroke-width="0.78" stroke-opacity="0.28"/><line x1="444.15" y1="560.5" x2="444.15" y2="573.3" stroke="#000" stroke-width="0.78" stroke-opacity="0.29"/><line x1="444.90" y1="560.5" x2="444.90" y2="573.3" stroke="#000" stroke-width="0.78" stroke-opacity="0.82"/><line x1="445.65" y1="560.5" x2="445.65" y2="573.3" stroke="#000" stroke-width="0.78" stroke-opacity="0.94"/><line x1="446.40" y1="560.5" x2="446.40" y2="573.3" stroke="#000" stroke-width="0.78" stroke-opacity="0.45"/><line x1="447.15" y1="560.5" x2="447.15" y2="573.3" stroke="#000" stroke-width="0.78" stroke-opacity="0.49"/><line x1="448.65" y1="560.5" x2="448.65" y2="573.3" stroke="#000" stroke-width="0.78" stroke-opacity="0.80"/><line x1="450.15" y1="560.5" x2="450.15" y2="573.3" stroke="#000" stroke-width="0.78" stroke-opacity="0.49"/><line x1="450.90" y1="560.5" x2="450.90" y2="573.3" stroke="#000" stroke-width="0.78" stroke-opacity="0.22"/><line x1="451.65" y1="560.5" x2="451.65" y2="573.3" stroke="#000" stroke-width="0.78" stroke-opacity="0.43"/><line x1="452.40" y1="560.5" x2="452.40" y2="573.3" stroke="#000" stroke-width="0.78" stroke-opacity="0.77"/><line x1="453.15" y1="560.5" x2="453.15" y2="573.3" stroke="#000" stroke-width="0.78" stroke-opacity="0.49"/><line x1="454.65" y1="560.5" x2="454.65" y2="573.3" stroke="#000" stroke-width="0.78" stroke-opacity="0.81"/><line x1="455.40" y1="560.5" x2="455.40" y2="573.3" stroke="#000" stroke-width="0.78" stroke-opacity="0.76"/><line x1="456.90" y1="560.5" x2="456.90" y2="573.3" stroke="#000" stroke-width="0.78" stroke-opacity="0.89"/><line x1="457.65" y1="560.5" x2="457.65" y2="573.3" stroke="#000" stroke-width="0.78" stroke-opacity="0.26"/><line x1="458.40" y1="560.5" x2="458.40" y2="573.3" stroke="#000" stroke-width="0.78" stroke-opacity="0.24"/><line x1="459.15" y1="560.5" x2="459.15" y2="573.3" stroke="#000" stroke-width="0.78" stroke-opacity="0.23"/><line x1="459.90" y1="560.5" x2="459.90" y2="573.3" stroke="#000" stroke-width="0.78" stroke-opacity="0.26"/><line x1="460.65" y1="560.5" x2="460.65" y2="573.3" stroke="#000" stroke-width="0.78" stroke-opacity="0.99"/><line x1="462.15" y1="560.5" x2="462.15" y2="573.3" stroke="#000" stroke-width="0.78" stroke-opacity="0.47"/><line x1="462.90" y1="560.5" x2="462.90" y2="573.3" stroke="#000" stroke-width="0.78" stroke-opacity="0.85"/><line x1="464.40" y1="560.5" x2="464.40" y2="573.3" stroke="#000" stroke-width="0.78" stroke-opacity="0.23"/><line x1="465.90" y1="560.5" x2="465.90" y2="573.3" stroke="#000" stroke-width="0.78" stroke-opacity="0.81"/><line x1="467.40" y1="560.5" x2="467.40" y2="573.3" stroke="#000" stroke-width="0.78" stroke-opacity="0.29"/><line x1="468.15" y1="560.5" x2="468.15" y2="573.3" stroke="#000" stroke-width="0.78" stroke-opacity="0.77"/><line x1="468.90" y1="560.5" x2="468.90" y2="573.3" stroke="#000" stroke-width="0.78" stroke-opacity="0.27"/><line x1="469.65" y1="560.5" x2="469.65" y2="573.3" stroke="#000" stroke-width="0.78" stroke-opacity="0.31"/><line x1="470.40" y1="560.5" x2="470.40" y2="573.3" stroke="#000" stroke-width="0.78" stroke-opacity="0.49"/><line x1="471.15" y1="560.5" x2="471.15" y2="573.3" stroke="#000" stroke-width="0.78" stroke-opacity="0.37"/><line x1="472.65" y1="560.5" x2="472.65" y2="573.3" stroke="#000" stroke-width="0.78" stroke-opacity="0.79"/><line x1="474.90" y1="560.5" x2="474.90" y2="573.3" stroke="#000" stroke-width="0.78" stroke-opacity="0.80"/><line x1="475.65" y1="560.5" x2="475.65" y2="573.3" stroke="#000" stroke-width="0.78" stroke-opacity="0.48"/><line x1="476.40" y1="560.5" x2="476.40" y2="573.3" stroke="#000" stroke-width="0.78" stroke-opacity="0.99"/><line x1="477.90" y1="560.5" x2="477.90" y2="573.3" stroke="#000" stroke-width="0.78" stroke-opacity="0.33"/><line x1="478.65" y1="560.5" x2="478.65" y2="573.3" stroke="#000" stroke-width="0.78" stroke-opacity="0.76"/><line x1="480.15" y1="560.5" x2="480.15" y2="573.3" stroke="#000" stroke-width="0.78" stroke-opacity="0.93"/><line x1="480.90" y1="560.5" x2="480.90" y2="573.3" stroke="#000" stroke-width="0.78" stroke-opacity="0.96"/><line x1="481.65" y1="560.5" x2="481.65" y2="573.3" stroke="#000" stroke-width="0.78" stroke-opacity="0.29"/><line x1="482.40" y1="560.5" x2="482.40" y2="573.3" stroke="#000" stroke-width="0.78" stroke-opacity="0.93"/><line x1="483.15" y1="560.5" x2="483.15" y2="573.3" stroke="#000" stroke-width="0.78" stroke-opacity="0.81"/><line x1="483.90" y1="560.5" x2="483.90" y2="573.3" stroke="#000" stroke-width="0.78" stroke-opacity="0.46"/><line x1="484.65" y1="560.5" x2="484.65" y2="573.3" stroke="#000" stroke-width="0.78" stroke-opacity="0.28"/><line x1="486.15" y1="560.5" x2="486.15" y2="573.3" stroke="#000" stroke-width="0.78" stroke-opacity="0.75"/><line x1="486.90" y1="560.5" x2="486.90" y2="573.3" stroke="#000" stroke-width="0.78" stroke-opacity="0.86"/><line x1="487.65" y1="560.5" x2="487.65" y2="573.3" stroke="#000" stroke-width="0.78" stroke-opacity="0.79"/><line x1="488.40" y1="560.5" x2="488.40" y2="573.3" stroke="#000" stroke-width="0.78" stroke-opacity="0.37"/><line x1="489.15" y1="560.5" x2="489.15" y2="573.3" stroke="#000" stroke-width="0.78" stroke-opacity="0.84"/><line x1="491.40" y1="560.5" x2="491.40" y2="573.3" stroke="#000" stroke-width="0.78" stroke-opacity="0.41"/><line x1="492.15" y1="560.5" x2="492.15" y2="573.3" stroke="#000" stroke-width="0.78" stroke-opacity="0.24"/><line x1="492.90" y1="560.5" x2="492.90" y2="573.3" stroke="#000" stroke-width="0.78" stroke-opacity="0.75"/><line x1="493.65" y1="560.5" x2="493.65" y2="573.3" stroke="#000" stroke-width="0.78" stroke-opacity="0.41"/><line x1="495.15" y1="560.5" x2="495.15" y2="573.3" stroke="#000" stroke-width="0.78" stroke-opacity="0.91"/><line x1="495.90" y1="560.5" x2="495.90" y2="573.3" stroke="#000" stroke-width="0.78" stroke-opacity="0.93"/><line x1="496.65" y1="560.5" x2="496.65" y2="573.3" stroke="#000" stroke-width="0.78" stroke-opacity="1.00"/><line x1="497.40" y1="560.5" x2="497.40" y2="573.3" stroke="#000" stroke-width="0.78" stroke-opacity="0.89"/><line x1="498.15" y1="560.5" x2="498.15" y2="573.3" stroke="#000" stroke-width="0.78" stroke-opacity="0.98"/><line x1="498.90" y1="560.5" x2="498.90" y2="573.3" stroke="#000" stroke-width="0.78" stroke-opacity="0.93"/><line x1="499.65" y1="560.5" x2="499.65" y2="573.3" stroke="#000" stroke-width="0.78" stroke-opacity="0.98"/><line x1="500.40" y1="560.5" x2="500.40" y2="573.3" stroke="#000" stroke-width="0.78" stroke-opacity="0.92"/><line x1="501.15" y1="560.5" x2="501.15" y2="573.3" stroke="#000" stroke-width="0.78" stroke-opacity="0.46"/><line x1="501.90" y1="560.5" x2="501.90" y2="573.3" stroke="#000" stroke-width="0.78" stroke-opacity="0.95"/><line x1="502.65" y1="560.5" x2="502.65" y2="573.3" stroke="#000" stroke-width="0.78" stroke-opacity="0.37"/><line x1="503.40" y1="560.5" x2="503.40" y2="573.3" stroke="#000" stroke-width="0.78" stroke-opacity="0.85"/><line x1="504.15" y1="560.5" x2="504.15" y2="573.3" stroke="#000" stroke-width="0.78" stroke-opacity="0.90"/><line x1="504.90" y1="560.5" x2="504.90" y2="573.3" stroke="#000" stroke-width="0.78" stroke-opacity="0.91"/><line x1="506.40" y1="560.5" x2="506.40" y2="573.3" stroke="#000" stroke-width="0.78" stroke-opacity="0.42"/><line x1="507.15" y1="560.5" x2="507.15" y2="573.3" stroke="#000" stroke-width="0.78" stroke-opacity="0.93"/><line x1="507.90" y1="560.5" x2="507.90" y2="573.3" stroke="#000" stroke-width="0.78" stroke-opacity="0.86"/><line x1="508.65" y1="560.5" x2="508.65" y2="573.3" stroke="#000" stroke-width="0.78" stroke-opacity="0.77"/><rect x="425.60" y="573.9" width="16.30" height="2.90" fill="#dc3c4c"/><rect x="441.90" y="573.9" width="14.50" height="2.90" fill="#d85a74"/><rect x="456.40" y="573.9" width="10.80" height="2.90" fill="#eab0da"/><rect x="467.20" y="573.9" width="9.00" height="2.90" fill="#d6d6f8"/><rect x="476.20" y="573.9" width="10.90" height="2.90" fill="#c0c0f2"/><rect x="487.10" y="573.9" width="14.50" height="2.90" fill="#6464e2"/><rect x="501.60" y="573.9" width="7.80" height="2.90" fill="#1212b0"/><path d="M425.6,590 L425.6,585.6 Q429,587.8 438,588.8 L470,589.8 L495,590.6 Q505,591.6 507.5,594 L509.4,600.2 L509.4,590 Z" fill="#c9c9c9" stroke="#a9a9a9" stroke-width="0.35"/><line x1="425.6" y1="590.0" x2="509.4" y2="590.0" stroke="#9a9a9a" stroke-width="0.5"/><text x="467.20" y="590.90" font-size="2.0" fill="#333" text-anchor="middle"  stroke="#333" stroke-width="0.11">Zero cross at 7460</text><polyline points="425.60,522.90 431.00,524.10 437.00,526.80 443.00,529.90 455.00,536.60 467.00,542.60 479.00,548.70 491.00,554.70 497.00,557.20 500.80,558.30 503.20,558.50 505.00,557.00 506.00,553.50 507.00,547.00 508.00,539.00 508.70,531.00 509.20,524.60" fill="none" stroke="#84e639" stroke-width="1.0" stroke-linejoin="round"/><text x="426.80" y="545.80" font-size="4.9" fill="#1a1a1a" text-anchor="start" textLength="26" lengthAdjust="spacingAndGlyphs"  stroke="#1a1a1a" stroke-width="0.11">NES: -1.41</text><text x="426.80" y="552.30" font-size="4.9" fill="#1a1a1a" text-anchor="start" textLength="51.5" lengthAdjust="spacingAndGlyphs"  stroke="#1a1a1a" stroke-width="0.11">Nominal p-value: 0.041</text><text x="426.80" y="558.80" font-size="4.9" fill="#1a1a1a" text-anchor="start" textLength="43" lengthAdjust="spacingAndGlyphs"  stroke="#1a1a1a" stroke-width="0.11">FDR q-value: 0.062</text><text x="428.00" y="582.00" font-size="4.7" fill="#e0302e" text-anchor="start" textLength="17" lengthAdjust="spacingAndGlyphs"  stroke="#e0302e" stroke-width="0.11">Relapse</text><text x="482.90" y="600.90" font-size="4.7" fill="#3a6fd0" text-anchor="start" textLength="21.2" lengthAdjust="spacingAndGlyphs"  stroke="#3a6fd0" stroke-width="0.11">Diagnosis</text><rect x="425.6" y="520.6" width="87.20" height="82.80" fill="none" stroke="#111" stroke-width="1.1"/><line x1="422.1" y1="524.60" x2="425.6" y2="524.60" stroke="#111" stroke-width="0.8"/><text x="419.70" y="526.00" font-size="3.9" fill="#222" text-anchor="end"  stroke="#222" stroke-width="0.11">0.0</text><line x1="422.1" y1="529.59" x2="425.6" y2="529.59" stroke="#111" stroke-width="0.8"/><text x="419.70" y="530.99" font-size="3.9" fill="#222" text-anchor="end"  stroke="#222" stroke-width="0.11">-0.1</text><line x1="422.1" y1="534.57" x2="425.6" y2="534.57" stroke="#111" stroke-width="0.8"/><text x="419.70" y="535.97" font-size="3.9" fill="#222" text-anchor="end"  stroke="#222" stroke-width="0.11">-0.2</text><line x1="422.1" y1="539.56" x2="425.6" y2="539.56" stroke="#111" stroke-width="0.8"/><text x="419.70" y="540.96" font-size="3.9" fill="#222" text-anchor="end"  stroke="#222" stroke-width="0.11">-0.3</text><line x1="422.1" y1="544.54" x2="425.6" y2="544.54" stroke="#111" stroke-width="0.8"/><text x="419.70" y="545.94" font-size="3.9" fill="#222" text-anchor="end"  stroke="#222" stroke-width="0.11">-0.4</text><line x1="422.1" y1="549.53" x2="425.6" y2="549.53" stroke="#111" stroke-width="0.8"/><text x="419.70" y="550.93" font-size="3.9" fill="#222" text-anchor="end"  stroke="#222" stroke-width="0.11">-0.5</text><line x1="422.1" y1="554.51" x2="425.6" y2="554.51" stroke="#111" stroke-width="0.8"/><text x="419.70" y="555.91" font-size="3.9" fill="#222" text-anchor="end"  stroke="#222" stroke-width="0.11">-0.6</text><line x1="422.1" y1="559.50" x2="425.6" y2="559.50" stroke="#111" stroke-width="0.8"/><text x="419.70" y="560.90" font-size="3.9" fill="#222" text-anchor="end"  stroke="#222" stroke-width="0.11">-0.7</text><line x1="422.1" y1="580.40" x2="425.6" y2="580.40" stroke="#111" stroke-width="0.8"/><text x="419.70" y="581.80" font-size="3.4" fill="#222" text-anchor="end"  stroke="#222" stroke-width="0.11">0.75</text><line x1="422.1" y1="583.75" x2="425.6" y2="583.75" stroke="#111" stroke-width="0.8"/><text x="419.70" y="585.15" font-size="3.4" fill="#222" text-anchor="end"  stroke="#222" stroke-width="0.11">0.50</text><line x1="422.1" y1="587.10" x2="425.6" y2="587.10" stroke="#111" stroke-width="0.8"/><text x="419.70" y="588.50" font-size="3.4" fill="#222" text-anchor="end"  stroke="#222" stroke-width="0.11">0.25</text><line x1="422.1" y1="590.45" x2="425.6" y2="590.45" stroke="#111" stroke-width="0.8"/><text x="419.70" y="591.85" font-size="3.4" fill="#222" text-anchor="end"  stroke="#222" stroke-width="0.11">0.00</text><line x1="422.1" y1="593.80" x2="425.6" y2="593.80" stroke="#111" stroke-width="0.8"/><text x="419.70" y="595.20" font-size="3.4" fill="#222" text-anchor="end"  stroke="#222" stroke-width="0.11">-0.25</text><line x1="422.1" y1="597.15" x2="425.6" y2="597.15" stroke="#111" stroke-width="0.8"/><text x="419.70" y="598.55" font-size="3.4" fill="#222" text-anchor="end"  stroke="#222" stroke-width="0.11">-0.50</text><line x1="422.1" y1="600.50" x2="425.6" y2="600.50" stroke="#111" stroke-width="0.8"/><text x="419.70" y="601.90" font-size="3.4" fill="#222" text-anchor="end"  stroke="#222" stroke-width="0.11">-0.75</text><line x1="425.60" y1="603.4" x2="425.60" y2="605.8" stroke="#111" stroke-width="0.7"/><text x="428.50" y="611.30" font-size="4.4" fill="#222" text-anchor="end" transform="rotate(-45 428.50 611.30)" stroke="#222" stroke-width="0.11">0</text><line x1="435.95" y1="603.4" x2="435.95" y2="605.8" stroke="#111" stroke-width="0.7"/><text x="438.85" y="611.30" font-size="4.4" fill="#222" text-anchor="end" transform="rotate(-45 438.85 611.30)" stroke="#222" stroke-width="0.11">2,500</text><line x1="446.30" y1="603.4" x2="446.30" y2="605.8" stroke="#111" stroke-width="0.7"/><text x="449.20" y="611.30" font-size="4.4" fill="#222" text-anchor="end" transform="rotate(-45 449.20 611.30)" stroke="#222" stroke-width="0.11">5,000</text><line x1="456.65" y1="603.4" x2="456.65" y2="605.8" stroke="#111" stroke-width="0.7"/><text x="459.55" y="611.30" font-size="4.4" fill="#222" text-anchor="end" transform="rotate(-45 459.55 611.30)" stroke="#222" stroke-width="0.11">7,500</text><line x1="467.00" y1="603.4" x2="467.00" y2="605.8" stroke="#111" stroke-width="0.7"/><text x="469.90" y="611.30" font-size="4.4" fill="#222" text-anchor="end" transform="rotate(-45 469.90 611.30)" stroke="#222" stroke-width="0.11">10,000</text><line x1="477.35" y1="603.4" x2="477.35" y2="605.8" stroke="#111" stroke-width="0.7"/><text x="480.25" y="611.30" font-size="4.4" fill="#222" text-anchor="end" transform="rotate(-45 480.25 611.30)" stroke="#222" stroke-width="0.11">12,500</text><line x1="487.70" y1="603.4" x2="487.70" y2="605.8" stroke="#111" stroke-width="0.7"/><text x="490.60" y="611.30" font-size="4.4" fill="#222" text-anchor="end" transform="rotate(-45 490.60 611.30)" stroke="#222" stroke-width="0.11">15,000</text><line x1="498.05" y1="603.4" x2="498.05" y2="605.8" stroke="#111" stroke-width="0.7"/><text x="500.95" y="611.30" font-size="4.4" fill="#222" text-anchor="end" transform="rotate(-45 500.95 611.30)" stroke="#222" stroke-width="0.11">17,500</text><line x1="508.40" y1="603.4" x2="508.40" y2="605.8" stroke="#111" stroke-width="0.7"/><text x="511.30" y="611.30" font-size="4.4" fill="#222" text-anchor="end" transform="rotate(-45 511.30 611.30)" stroke="#222" stroke-width="0.11">20,000</text><text x="469.20" y="630.20" font-size="5.4" fill="#111" text-anchor="middle" textLength="45.5" lengthAdjust="spacingAndGlyphs"  stroke="#111" stroke-width="0.11">Rank in ordered dataset</text><text x="407.70" y="540.60" font-size="5.2" fill="#111" text-anchor="middle" textLength="42.5" lengthAdjust="spacingAndGlyphs" transform="rotate(-90 407.70 540.60)" stroke="#111" stroke-width="0.11">Enrichment score (ES)</text><text x="394.70" y="590.20" font-size="5.3" fill="#111" text-anchor="middle" textLength="35" lengthAdjust="spacingAndGlyphs" transform="rotate(-90 394.70 590.20)" stroke="#111" stroke-width="0.11">Ranked list metric</text><text x="405.70" y="590.20" font-size="5.3" fill="#111" text-anchor="middle" textLength="26.5" lengthAdjust="spacingAndGlyphs" transform="rotate(-90 405.70 590.20)" stroke="#111" stroke-width="0.11">(Signal2Noise)</text></g>
<text x="6.6" y="16.5" font-size="12" font-weight="bold" fill="#000" stroke="#000" stroke-width="0.04">A</text>
<text x="6.8" y="331.5" font-size="12" font-weight="bold" fill="#000" stroke="#000" stroke-width="0.04">B</text>
<text x="6.6" y="501.3" font-size="12" font-weight="bold" fill="#000" stroke="#000" stroke-width="0.04">C</text>
<text x="262.6" y="501.3" font-size="12" font-weight="bold" fill="#000" stroke="#000" stroke-width="0.04">D</text>
</svg></div></body></html>
